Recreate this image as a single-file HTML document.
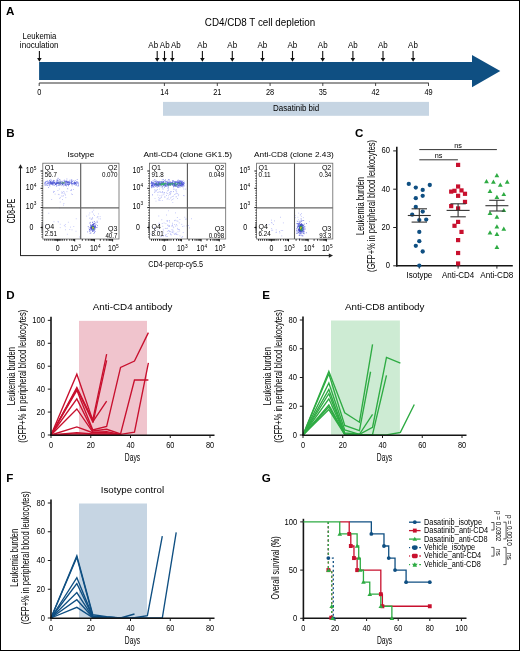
<!DOCTYPE html>
<html><head><meta charset="utf-8"><style>
html,body{margin:0;padding:0;background:#fff;}
svg{display:block;will-change:transform;font-family:"Liberation Sans",sans-serif;}
</style></head><body>
<svg width="520" height="651" viewBox="0 0 520 651">
<rect x="0" y="0" width="520" height="651" fill="#fff"/>
<text font-size="11.6" font-weight="bold" fill="#000" transform="translate(6.10 14.70)">A</text>
<text font-size="9.5" textLength="110.4" lengthAdjust="spacingAndGlyphs" transform="translate(204.80 25.50) scale(1 1.13)">CD4/CD8 T cell depletion</text>
<text font-size="7.6" text-anchor="middle" textLength="33.7" lengthAdjust="spacingAndGlyphs" transform="translate(39.40 38.60) scale(1 1.17)">Leukemia</text>
<text font-size="7.6" text-anchor="middle" textLength="38.7" lengthAdjust="spacingAndGlyphs" transform="translate(39.20 47.80) scale(1 1.17)">inoculation</text>
<polygon points="39.1,62 472,62 472,54.9 500.3,71.05 472,87.2 472,80.05 39.1,80.05" fill="#0f4f82"/>
<line x1="39.20" y1="83.00" x2="428.80" y2="83.00" stroke="#333" stroke-width="1.2"/>
<line x1="39.20" y1="83.00" x2="39.20" y2="86.00" stroke="#333" stroke-width="0.9"/>
<text font-size="7.4" text-anchor="middle" transform="translate(39.20 95.00) scale(1 1.17)">0</text>
<line x1="164.40" y1="83.00" x2="164.40" y2="86.00" stroke="#333" stroke-width="0.9"/>
<text font-size="7.4" text-anchor="middle" transform="translate(164.40 95.00) scale(1 1.17)">14</text>
<line x1="217.30" y1="83.00" x2="217.30" y2="86.00" stroke="#333" stroke-width="0.9"/>
<text font-size="7.4" text-anchor="middle" transform="translate(217.30 95.00) scale(1 1.17)">21</text>
<line x1="270.10" y1="83.00" x2="270.10" y2="86.00" stroke="#333" stroke-width="0.9"/>
<text font-size="7.4" text-anchor="middle" transform="translate(270.10 95.00) scale(1 1.17)">28</text>
<line x1="322.80" y1="83.00" x2="322.80" y2="86.00" stroke="#333" stroke-width="0.9"/>
<text font-size="7.4" text-anchor="middle" transform="translate(322.80 95.00) scale(1 1.17)">35</text>
<line x1="375.60" y1="83.00" x2="375.60" y2="86.00" stroke="#333" stroke-width="0.9"/>
<text font-size="7.4" text-anchor="middle" transform="translate(375.60 95.00) scale(1 1.17)">42</text>
<line x1="428.50" y1="83.00" x2="428.50" y2="86.00" stroke="#333" stroke-width="0.9"/>
<text font-size="7.4" text-anchor="middle" transform="translate(428.50 95.00) scale(1 1.17)">49</text>
<line x1="39.40" y1="51.00" x2="39.40" y2="58.50" stroke="#111" stroke-width="1.1"/>
<polygon points="37.10,58.00 41.70,58.00 39.40,61.80" fill="#111"/>
<line x1="157.20" y1="51.00" x2="157.20" y2="58.50" stroke="#111" stroke-width="1.1"/>
<polygon points="154.90,58.00 159.50,58.00 157.20,61.80" fill="#111"/>
<line x1="164.50" y1="51.00" x2="164.50" y2="58.50" stroke="#111" stroke-width="1.1"/>
<polygon points="162.20,58.00 166.80,58.00 164.50,61.80" fill="#111"/>
<line x1="172.30" y1="51.00" x2="172.30" y2="58.50" stroke="#111" stroke-width="1.1"/>
<polygon points="170.00,58.00 174.60,58.00 172.30,61.80" fill="#111"/>
<line x1="202.40" y1="51.00" x2="202.40" y2="58.50" stroke="#111" stroke-width="1.1"/>
<polygon points="200.10,58.00 204.70,58.00 202.40,61.80" fill="#111"/>
<line x1="232.30" y1="51.00" x2="232.30" y2="58.50" stroke="#111" stroke-width="1.1"/>
<polygon points="230.00,58.00 234.60,58.00 232.30,61.80" fill="#111"/>
<line x1="262.50" y1="51.00" x2="262.50" y2="58.50" stroke="#111" stroke-width="1.1"/>
<polygon points="260.20,58.00 264.80,58.00 262.50,61.80" fill="#111"/>
<line x1="292.50" y1="51.00" x2="292.50" y2="58.50" stroke="#111" stroke-width="1.1"/>
<polygon points="290.20,58.00 294.80,58.00 292.50,61.80" fill="#111"/>
<line x1="322.70" y1="51.00" x2="322.70" y2="58.50" stroke="#111" stroke-width="1.1"/>
<polygon points="320.40,58.00 325.00,58.00 322.70,61.80" fill="#111"/>
<line x1="352.90" y1="51.00" x2="352.90" y2="58.50" stroke="#111" stroke-width="1.1"/>
<polygon points="350.60,58.00 355.20,58.00 352.90,61.80" fill="#111"/>
<line x1="383.00" y1="51.00" x2="383.00" y2="58.50" stroke="#111" stroke-width="1.1"/>
<polygon points="380.70,58.00 385.30,58.00 383.00,61.80" fill="#111"/>
<line x1="413.10" y1="51.00" x2="413.10" y2="58.50" stroke="#111" stroke-width="1.1"/>
<polygon points="410.80,58.00 415.40,58.00 413.10,61.80" fill="#111"/>
<text font-size="7.6" text-anchor="middle" textLength="9.8" lengthAdjust="spacingAndGlyphs" transform="translate(153.20 47.80) scale(1 1.17)">Ab</text>
<text font-size="7.6" text-anchor="middle" textLength="9.8" lengthAdjust="spacingAndGlyphs" transform="translate(164.70 47.80) scale(1 1.17)">Ab</text>
<text font-size="7.6" text-anchor="middle" textLength="9.8" lengthAdjust="spacingAndGlyphs" transform="translate(175.80 47.80) scale(1 1.17)">Ab</text>
<text font-size="7.6" text-anchor="middle" textLength="9.8" lengthAdjust="spacingAndGlyphs" transform="translate(202.20 47.80) scale(1 1.17)">Ab</text>
<text font-size="7.6" text-anchor="middle" textLength="9.8" lengthAdjust="spacingAndGlyphs" transform="translate(232.20 47.80) scale(1 1.17)">Ab</text>
<text font-size="7.6" text-anchor="middle" textLength="9.8" lengthAdjust="spacingAndGlyphs" transform="translate(262.30 47.80) scale(1 1.17)">Ab</text>
<text font-size="7.6" text-anchor="middle" textLength="9.8" lengthAdjust="spacingAndGlyphs" transform="translate(292.30 47.80) scale(1 1.17)">Ab</text>
<text font-size="7.6" text-anchor="middle" textLength="9.8" lengthAdjust="spacingAndGlyphs" transform="translate(322.70 47.80) scale(1 1.17)">Ab</text>
<text font-size="7.6" text-anchor="middle" textLength="9.8" lengthAdjust="spacingAndGlyphs" transform="translate(352.90 47.80) scale(1 1.17)">Ab</text>
<text font-size="7.6" text-anchor="middle" textLength="9.8" lengthAdjust="spacingAndGlyphs" transform="translate(382.90 47.80) scale(1 1.17)">Ab</text>
<text font-size="7.6" text-anchor="middle" textLength="9.8" lengthAdjust="spacingAndGlyphs" transform="translate(413.00 47.80) scale(1 1.17)">Ab</text>
<rect x="163.00" y="101.90" width="266.00" height="13.90" fill="#c6d5e3"/>
<text font-size="8" textLength="46.1" lengthAdjust="spacingAndGlyphs" transform="translate(273.10 111.40) scale(1 1.17)">Dasatinib bid</text>
<text font-size="11.6" font-weight="bold" fill="#000" transform="translate(6.20 136.70)">B</text>
<line x1="20.50" y1="167.00" x2="20.50" y2="255.60" stroke="#222" stroke-width="1.0"/>
<polygon points="18.3,168.2 22.7,168.2 20.5,164.2" fill="#222"/>
<line x1="20.00" y1="255.60" x2="329.50" y2="255.60" stroke="#222" stroke-width="1.0"/>
<polygon points="328.8,253.4 328.8,257.8 333,255.6" fill="#222"/>
<text font-size="8.8" text-anchor="middle" textLength="24.4" lengthAdjust="spacingAndGlyphs" transform="translate(15.10 211.10) rotate(-90) scale(1 1.17)">CD8-PE</text>
<text font-size="7.8" textLength="54.7" lengthAdjust="spacingAndGlyphs" transform="translate(148.30 266.50) scale(1 1.17)">CD4-percp-cy5.5</text>
<text font-size="7.9" text-anchor="middle" textLength="26.900000000000006" lengthAdjust="spacingAndGlyphs" transform="translate(80.95 156.80)">Isotype</text>
<rect x="55.1" y="184.0" width="0.8" height="0.8" fill="#8088ea"/>
<rect x="46.5" y="184.5" width="0.8" height="0.8" fill="#8088ea"/>
<rect x="62.4" y="182.2" width="0.8" height="0.8" fill="#8088ea"/>
<rect x="61.4" y="183.0" width="0.8" height="0.8" fill="#8088ea"/>
<rect x="45.3" y="182.0" width="0.8" height="0.8" fill="#8088ea"/>
<rect x="47.1" y="182.8" width="0.8" height="0.8" fill="#8088ea"/>
<rect x="58.6" y="183.0" width="0.8" height="0.8" fill="#8088ea"/>
<rect x="51.7" y="181.9" width="0.8" height="0.8" fill="#8088ea"/>
<rect x="65.5" y="184.6" width="0.8" height="0.8" fill="#8088ea"/>
<rect x="57.6" y="181.9" width="0.8" height="0.8" fill="#8088ea"/>
<rect x="77.5" y="185.6" width="0.8" height="0.8" fill="#8088ea"/>
<rect x="53.9" y="183.5" width="0.8" height="0.8" fill="#8088ea"/>
<rect x="48.9" y="183.6" width="0.8" height="0.8" fill="#8088ea"/>
<rect x="72.0" y="183.5" width="0.8" height="0.8" fill="#8088ea"/>
<rect x="50.2" y="180.6" width="0.8" height="0.8" fill="#8088ea"/>
<rect x="56.8" y="181.5" width="0.8" height="0.8" fill="#8088ea"/>
<rect x="62.8" y="183.1" width="0.8" height="0.8" fill="#8088ea"/>
<rect x="51.1" y="182.8" width="0.8" height="0.8" fill="#8088ea"/>
<rect x="67.3" y="181.4" width="0.8" height="0.8" fill="#8088ea"/>
<rect x="64.1" y="183.2" width="0.8" height="0.8" fill="#8088ea"/>
<rect x="59.5" y="181.7" width="0.8" height="0.8" fill="#8088ea"/>
<rect x="68.0" y="185.3" width="0.8" height="0.8" fill="#8088ea"/>
<rect x="52.4" y="180.9" width="0.8" height="0.8" fill="#8088ea"/>
<rect x="74.0" y="181.7" width="0.8" height="0.8" fill="#8088ea"/>
<rect x="69.0" y="181.5" width="0.8" height="0.8" fill="#8088ea"/>
<rect x="48.0" y="187.0" width="0.8" height="0.8" fill="#8088ea"/>
<rect x="58.3" y="182.6" width="0.8" height="0.8" fill="#8088ea"/>
<rect x="60.8" y="181.7" width="0.8" height="0.8" fill="#8088ea"/>
<rect x="45.3" y="181.3" width="0.8" height="0.8" fill="#8088ea"/>
<rect x="63.7" y="180.2" width="0.8" height="0.8" fill="#8088ea"/>
<rect x="74.0" y="181.6" width="0.8" height="0.8" fill="#8088ea"/>
<rect x="64.4" y="184.9" width="0.8" height="0.8" fill="#8088ea"/>
<rect x="63.9" y="179.7" width="0.8" height="0.8" fill="#8088ea"/>
<rect x="76.4" y="183.4" width="0.8" height="0.8" fill="#8088ea"/>
<rect x="60.3" y="182.3" width="0.8" height="0.8" fill="#8088ea"/>
<rect x="68.1" y="182.1" width="0.8" height="0.8" fill="#8088ea"/>
<rect x="66.2" y="185.6" width="0.8" height="0.8" fill="#8088ea"/>
<rect x="53.8" y="182.5" width="0.8" height="0.8" fill="#8088ea"/>
<rect x="57.2" y="182.4" width="0.8" height="0.8" fill="#8088ea"/>
<rect x="59.8" y="182.3" width="0.8" height="0.8" fill="#8088ea"/>
<rect x="49.8" y="183.0" width="0.8" height="0.8" fill="#8088ea"/>
<rect x="70.4" y="183.0" width="0.8" height="0.8" fill="#8088ea"/>
<rect x="48.4" y="182.6" width="0.8" height="0.8" fill="#8088ea"/>
<rect x="73.9" y="184.2" width="0.8" height="0.8" fill="#8088ea"/>
<rect x="46.8" y="180.7" width="0.8" height="0.8" fill="#8088ea"/>
<rect x="74.3" y="183.2" width="0.8" height="0.8" fill="#8088ea"/>
<rect x="72.1" y="183.4" width="0.8" height="0.8" fill="#8088ea"/>
<rect x="58.2" y="181.6" width="0.8" height="0.8" fill="#8088ea"/>
<rect x="56.3" y="185.6" width="0.8" height="0.8" fill="#8088ea"/>
<rect x="49.2" y="179.9" width="0.8" height="0.8" fill="#8088ea"/>
<rect x="50.0" y="182.7" width="0.8" height="0.8" fill="#8088ea"/>
<rect x="60.6" y="183.8" width="0.8" height="0.8" fill="#8088ea"/>
<rect x="64.2" y="182.6" width="0.8" height="0.8" fill="#8088ea"/>
<rect x="58.4" y="182.7" width="0.8" height="0.8" fill="#8088ea"/>
<rect x="56.7" y="179.0" width="0.8" height="0.8" fill="#8088ea"/>
<rect x="67.7" y="181.0" width="0.8" height="0.8" fill="#8088ea"/>
<rect x="61.7" y="180.8" width="0.8" height="0.8" fill="#8088ea"/>
<rect x="45.9" y="181.0" width="0.8" height="0.8" fill="#8088ea"/>
<rect x="74.9" y="183.2" width="0.8" height="0.8" fill="#8088ea"/>
<rect x="71.4" y="179.4" width="0.8" height="0.8" fill="#8088ea"/>
<rect x="57.5" y="182.0" width="0.8" height="0.8" fill="#8088ea"/>
<rect x="65.8" y="183.0" width="0.8" height="0.8" fill="#8088ea"/>
<rect x="46.1" y="183.6" width="0.8" height="0.8" fill="#8088ea"/>
<rect x="49.6" y="183.0" width="0.8" height="0.8" fill="#8088ea"/>
<rect x="55.7" y="182.6" width="0.8" height="0.8" fill="#8088ea"/>
<rect x="49.2" y="182.6" width="0.8" height="0.8" fill="#8088ea"/>
<rect x="47.5" y="182.4" width="0.8" height="0.8" fill="#8088ea"/>
<rect x="74.0" y="182.9" width="0.8" height="0.8" fill="#8088ea"/>
<rect x="65.1" y="183.3" width="0.8" height="0.8" fill="#8088ea"/>
<rect x="55.9" y="183.6" width="0.8" height="0.8" fill="#8088ea"/>
<rect x="56.5" y="184.8" width="0.8" height="0.8" fill="#8088ea"/>
<rect x="78.1" y="184.8" width="0.8" height="0.8" fill="#8088ea"/>
<rect x="60.0" y="181.9" width="0.8" height="0.8" fill="#8088ea"/>
<rect x="47.5" y="182.7" width="0.8" height="0.8" fill="#8088ea"/>
<rect x="55.8" y="182.3" width="0.8" height="0.8" fill="#8088ea"/>
<rect x="49.5" y="185.6" width="0.8" height="0.8" fill="#8088ea"/>
<rect x="44.8" y="184.5" width="0.8" height="0.8" fill="#8088ea"/>
<rect x="49.0" y="182.0" width="0.8" height="0.8" fill="#8088ea"/>
<rect x="62.6" y="184.5" width="0.8" height="0.8" fill="#8088ea"/>
<rect x="77.6" y="182.9" width="0.8" height="0.8" fill="#8088ea"/>
<rect x="73.6" y="182.2" width="0.8" height="0.8" fill="#8088ea"/>
<rect x="56.6" y="181.4" width="0.8" height="0.8" fill="#8088ea"/>
<rect x="49.7" y="182.9" width="0.8" height="0.8" fill="#8088ea"/>
<rect x="70.7" y="180.6" width="0.8" height="0.8" fill="#8088ea"/>
<rect x="55.3" y="183.1" width="0.8" height="0.8" fill="#8088ea"/>
<rect x="77.8" y="185.5" width="0.8" height="0.8" fill="#8088ea"/>
<rect x="73.2" y="183.6" width="0.8" height="0.8" fill="#8088ea"/>
<rect x="69.4" y="179.8" width="0.8" height="0.8" fill="#8088ea"/>
<rect x="51.8" y="181.1" width="0.8" height="0.8" fill="#8088ea"/>
<rect x="45.0" y="182.4" width="0.8" height="0.8" fill="#8088ea"/>
<rect x="45.0" y="182.4" width="0.8" height="0.8" fill="#8088ea"/>
<rect x="67.8" y="183.8" width="0.8" height="0.8" fill="#8088ea"/>
<rect x="76.8" y="179.0" width="0.8" height="0.8" fill="#8088ea"/>
<rect x="77.9" y="183.8" width="0.8" height="0.8" fill="#8088ea"/>
<rect x="76.8" y="181.9" width="0.8" height="0.8" fill="#8088ea"/>
<rect x="51.8" y="183.4" width="0.8" height="0.8" fill="#8088ea"/>
<rect x="50.7" y="183.2" width="0.8" height="0.8" fill="#8088ea"/>
<rect x="74.9" y="184.7" width="0.8" height="0.8" fill="#8088ea"/>
<rect x="72.8" y="180.3" width="0.8" height="0.8" fill="#8088ea"/>
<rect x="71.4" y="182.9" width="0.8" height="0.8" fill="#8088ea"/>
<rect x="46.9" y="180.7" width="0.8" height="0.8" fill="#8088ea"/>
<rect x="70.8" y="179.6" width="0.8" height="0.8" fill="#8088ea"/>
<rect x="69.7" y="181.6" width="0.8" height="0.8" fill="#8088ea"/>
<rect x="71.1" y="182.7" width="0.8" height="0.8" fill="#8088ea"/>
<rect x="55.4" y="183.9" width="0.8" height="0.8" fill="#8088ea"/>
<rect x="57.6" y="178.5" width="0.8" height="0.8" fill="#8088ea"/>
<rect x="57.8" y="185.0" width="0.8" height="0.8" fill="#8088ea"/>
<rect x="49.8" y="181.8" width="0.8" height="0.8" fill="#8088ea"/>
<rect x="48.4" y="184.6" width="0.8" height="0.8" fill="#8088ea"/>
<rect x="71.7" y="185.4" width="0.8" height="0.8" fill="#8088ea"/>
<rect x="49.0" y="184.7" width="0.8" height="0.8" fill="#8088ea"/>
<rect x="66.5" y="178.6" width="0.8" height="0.8" fill="#8088ea"/>
<rect x="56.0" y="181.8" width="0.8" height="0.8" fill="#8088ea"/>
<rect x="44.5" y="182.3" width="0.8" height="0.8" fill="#8088ea"/>
<rect x="77.3" y="181.4" width="0.8" height="0.8" fill="#8088ea"/>
<rect x="76.0" y="181.0" width="0.8" height="0.8" fill="#8088ea"/>
<rect x="58.9" y="184.7" width="0.8" height="0.8" fill="#8088ea"/>
<rect x="51.2" y="180.4" width="0.8" height="0.8" fill="#8088ea"/>
<rect x="52.6" y="182.3" width="0.8" height="0.8" fill="#8088ea"/>
<rect x="64.1" y="183.7" width="0.8" height="0.8" fill="#8088ea"/>
<rect x="52.9" y="181.9" width="0.8" height="0.8" fill="#8088ea"/>
<rect x="75.2" y="183.0" width="0.8" height="0.8" fill="#8088ea"/>
<rect x="56.1" y="180.6" width="0.8" height="0.8" fill="#8088ea"/>
<rect x="75.0" y="183.2" width="0.8" height="0.8" fill="#8088ea"/>
<rect x="58.4" y="184.2" width="0.8" height="0.8" fill="#8088ea"/>
<rect x="62.2" y="181.7" width="0.8" height="0.8" fill="#8088ea"/>
<rect x="62.0" y="184.3" width="0.8" height="0.8" fill="#8088ea"/>
<rect x="50.3" y="182.8" width="0.8" height="0.8" fill="#8088ea"/>
<rect x="44.1" y="182.9" width="0.8" height="0.8" fill="#8088ea"/>
<rect x="60.2" y="181.7" width="0.8" height="0.8" fill="#8088ea"/>
<rect x="68.9" y="181.3" width="0.8" height="0.8" fill="#8088ea"/>
<rect x="61.8" y="182.1" width="0.8" height="0.8" fill="#8088ea"/>
<rect x="63.1" y="182.8" width="0.8" height="0.8" fill="#8088ea"/>
<rect x="63.2" y="181.9" width="0.8" height="0.8" fill="#8088ea"/>
<rect x="52.5" y="182.1" width="0.8" height="0.8" fill="#8088ea"/>
<rect x="61.4" y="185.3" width="0.8" height="0.8" fill="#8088ea"/>
<rect x="63.3" y="182.8" width="0.8" height="0.8" fill="#8088ea"/>
<rect x="59.2" y="179.1" width="0.8" height="0.8" fill="#8088ea"/>
<rect x="65.0" y="180.7" width="0.8" height="0.8" fill="#8088ea"/>
<rect x="67.8" y="182.5" width="0.8" height="0.8" fill="#8088ea"/>
<rect x="59.5" y="180.8" width="0.8" height="0.8" fill="#8088ea"/>
<rect x="76.3" y="182.2" width="0.8" height="0.8" fill="#8088ea"/>
<rect x="68.0" y="185.3" width="0.8" height="0.8" fill="#8088ea"/>
<rect x="52.9" y="179.9" width="0.8" height="0.8" fill="#8088ea"/>
<rect x="63.2" y="185.5" width="0.8" height="0.8" fill="#8088ea"/>
<rect x="48.7" y="181.5" width="0.8" height="0.8" fill="#8088ea"/>
<rect x="48.2" y="182.0" width="0.8" height="0.8" fill="#8088ea"/>
<rect x="52.3" y="182.8" width="0.8" height="0.8" fill="#8088ea"/>
<rect x="46.5" y="181.2" width="0.8" height="0.8" fill="#8088ea"/>
<rect x="74.8" y="180.2" width="0.8" height="0.8" fill="#8088ea"/>
<rect x="49.3" y="182.1" width="0.8" height="0.8" fill="#8088ea"/>
<rect x="48.9" y="180.3" width="0.8" height="0.8" fill="#8088ea"/>
<rect x="74.3" y="183.7" width="0.8" height="0.8" fill="#8088ea"/>
<rect x="76.7" y="182.4" width="0.8" height="0.8" fill="#8088ea"/>
<rect x="57.7" y="177.8" width="0.8" height="0.8" fill="#8088ea"/>
<rect x="72.6" y="183.0" width="0.8" height="0.8" fill="#8088ea"/>
<rect x="49.5" y="180.8" width="0.8" height="0.8" fill="#8088ea"/>
<rect x="55.6" y="183.4" width="0.8" height="0.8" fill="#8088ea"/>
<rect x="50.7" y="181.5" width="0.8" height="0.8" fill="#8088ea"/>
<rect x="44.7" y="184.9" width="0.8" height="0.8" fill="#8088ea"/>
<rect x="63.0" y="182.3" width="0.8" height="0.8" fill="#8088ea"/>
<rect x="55.4" y="182.7" width="0.8" height="0.8" fill="#8088ea"/>
<rect x="65.4" y="182.0" width="0.8" height="0.8" fill="#8088ea"/>
<rect x="77.8" y="182.6" width="0.8" height="0.8" fill="#8088ea"/>
<rect x="71.0" y="183.3" width="0.8" height="0.8" fill="#8088ea"/>
<rect x="53.1" y="182.5" width="0.8" height="0.8" fill="#8088ea"/>
<rect x="45.4" y="182.8" width="0.8" height="0.8" fill="#8088ea"/>
<rect x="48.4" y="181.4" width="0.8" height="0.8" fill="#8088ea"/>
<rect x="58.5" y="185.1" width="0.8" height="0.8" fill="#8088ea"/>
<rect x="52.9" y="181.0" width="0.8" height="0.8" fill="#8088ea"/>
<rect x="49.1" y="184.4" width="0.8" height="0.8" fill="#8088ea"/>
<rect x="68.0" y="181.6" width="0.8" height="0.8" fill="#8088ea"/>
<rect x="47.1" y="184.9" width="0.8" height="0.8" fill="#8088ea"/>
<rect x="58.6" y="183.5" width="0.8" height="0.8" fill="#8088ea"/>
<rect x="46.5" y="184.7" width="0.8" height="0.8" fill="#8088ea"/>
<rect x="71.5" y="181.7" width="0.8" height="0.8" fill="#8088ea"/>
<rect x="46.9" y="183.0" width="0.8" height="0.8" fill="#8088ea"/>
<rect x="73.6" y="182.1" width="0.8" height="0.8" fill="#8088ea"/>
<rect x="59.6" y="181.5" width="0.8" height="0.8" fill="#8088ea"/>
<rect x="75.8" y="184.3" width="0.8" height="0.8" fill="#8088ea"/>
<rect x="53.2" y="183.9" width="0.8" height="0.8" fill="#8088ea"/>
<rect x="52.2" y="184.0" width="0.8" height="0.8" fill="#8088ea"/>
<rect x="47.8" y="182.9" width="0.8" height="0.8" fill="#8088ea"/>
<rect x="50.9" y="183.0" width="0.8" height="0.8" fill="#8088ea"/>
<rect x="54.7" y="181.7" width="0.8" height="0.8" fill="#8088ea"/>
<rect x="53.9" y="185.1" width="0.8" height="0.8" fill="#8088ea"/>
<rect x="61.2" y="183.2" width="0.8" height="0.8" fill="#8088ea"/>
<rect x="44.6" y="183.9" width="0.8" height="0.8" fill="#8088ea"/>
<rect x="52.6" y="185.2" width="0.8" height="0.8" fill="#8088ea"/>
<rect x="62.9" y="182.9" width="0.8" height="0.8" fill="#8088ea"/>
<rect x="50.5" y="178.9" width="0.8" height="0.8" fill="#8088ea"/>
<rect x="47.6" y="183.2" width="0.8" height="0.8" fill="#8088ea"/>
<rect x="72.1" y="180.9" width="0.8" height="0.8" fill="#8088ea"/>
<rect x="72.6" y="183.4" width="0.8" height="0.8" fill="#8088ea"/>
<rect x="57.5" y="180.2" width="0.8" height="0.8" fill="#8088ea"/>
<rect x="77.7" y="182.5" width="0.8" height="0.8" fill="#8088ea"/>
<rect x="55.8" y="183.8" width="0.8" height="0.8" fill="#8088ea"/>
<rect x="65.8" y="180.4" width="0.8" height="0.8" fill="#8088ea"/>
<rect x="57.9" y="182.3" width="0.8" height="0.8" fill="#8088ea"/>
<rect x="48.5" y="183.0" width="0.8" height="0.8" fill="#8088ea"/>
<rect x="51.8" y="182.6" width="0.8" height="0.8" fill="#4a54d0"/>
<rect x="54.2" y="181.8" width="0.8" height="0.8" fill="#4a54d0"/>
<rect x="52.2" y="183.7" width="0.8" height="0.8" fill="#4a54d0"/>
<rect x="67.4" y="180.9" width="0.8" height="0.8" fill="#4a54d0"/>
<rect x="57.3" y="182.6" width="0.8" height="0.8" fill="#4a54d0"/>
<rect x="61.9" y="183.4" width="0.8" height="0.8" fill="#4a54d0"/>
<rect x="54.1" y="181.9" width="0.8" height="0.8" fill="#4a54d0"/>
<rect x="75.0" y="182.9" width="0.8" height="0.8" fill="#4a54d0"/>
<rect x="75.3" y="181.9" width="0.8" height="0.8" fill="#4a54d0"/>
<rect x="75.1" y="182.4" width="0.8" height="0.8" fill="#4a54d0"/>
<rect x="58.0" y="182.6" width="0.8" height="0.8" fill="#4a54d0"/>
<rect x="59.9" y="182.6" width="0.8" height="0.8" fill="#4a54d0"/>
<rect x="62.3" y="181.9" width="0.8" height="0.8" fill="#4a54d0"/>
<rect x="63.1" y="182.6" width="0.8" height="0.8" fill="#4a54d0"/>
<rect x="50.1" y="182.6" width="0.8" height="0.8" fill="#4a54d0"/>
<rect x="60.4" y="183.0" width="0.8" height="0.8" fill="#4a54d0"/>
<rect x="51.1" y="183.4" width="0.8" height="0.8" fill="#4a54d0"/>
<rect x="56.1" y="182.7" width="0.8" height="0.8" fill="#4a54d0"/>
<rect x="65.2" y="181.0" width="0.8" height="0.8" fill="#4a54d0"/>
<rect x="67.1" y="182.3" width="0.8" height="0.8" fill="#4a54d0"/>
<rect x="68.6" y="183.3" width="0.8" height="0.8" fill="#4a54d0"/>
<rect x="58.5" y="181.9" width="0.8" height="0.8" fill="#4a54d0"/>
<rect x="75.6" y="183.5" width="0.8" height="0.8" fill="#4a54d0"/>
<rect x="66.7" y="183.9" width="0.8" height="0.8" fill="#4a54d0"/>
<rect x="51.1" y="183.7" width="0.8" height="0.8" fill="#4a54d0"/>
<rect x="66.3" y="180.8" width="0.8" height="0.8" fill="#4a54d0"/>
<rect x="69.1" y="182.8" width="0.8" height="0.8" fill="#4a54d0"/>
<rect x="63.6" y="182.1" width="0.8" height="0.8" fill="#4a54d0"/>
<rect x="63.1" y="183.5" width="0.8" height="0.8" fill="#4a54d0"/>
<rect x="71.5" y="181.0" width="0.8" height="0.8" fill="#4a54d0"/>
<rect x="65.2" y="183.8" width="0.8" height="0.8" fill="#4a54d0"/>
<rect x="68.0" y="181.7" width="0.8" height="0.8" fill="#4a54d0"/>
<rect x="56.0" y="183.1" width="0.8" height="0.8" fill="#4a54d0"/>
<rect x="59.4" y="182.7" width="0.8" height="0.8" fill="#4a54d0"/>
<rect x="52.7" y="183.3" width="0.8" height="0.8" fill="#4a54d0"/>
<rect x="66.3" y="181.5" width="0.8" height="0.8" fill="#4a54d0"/>
<rect x="66.3" y="182.1" width="0.8" height="0.8" fill="#4a54d0"/>
<rect x="50.1" y="181.5" width="0.8" height="0.8" fill="#4a54d0"/>
<rect x="70.7" y="182.6" width="0.8" height="0.8" fill="#4a54d0"/>
<rect x="63.9" y="181.4" width="0.8" height="0.8" fill="#4a54d0"/>
<rect x="67.1" y="184.1" width="0.8" height="0.8" fill="#4a54d0"/>
<rect x="56.6" y="183.3" width="0.8" height="0.8" fill="#4a54d0"/>
<rect x="51.9" y="182.4" width="0.8" height="0.8" fill="#4a54d0"/>
<rect x="55.3" y="184.2" width="0.8" height="0.8" fill="#4a54d0"/>
<rect x="69.2" y="183.8" width="0.8" height="0.8" fill="#4a54d0"/>
<rect x="59.9" y="182.4" width="0.8" height="0.8" fill="#4a54d0"/>
<rect x="62.5" y="181.9" width="0.8" height="0.8" fill="#4a54d0"/>
<rect x="66.0" y="181.0" width="0.8" height="0.8" fill="#4a54d0"/>
<rect x="66.7" y="183.1" width="0.8" height="0.8" fill="#4a54d0"/>
<rect x="56.6" y="182.9" width="0.8" height="0.8" fill="#4a54d0"/>
<rect x="69.3" y="182.2" width="0.8" height="0.8" fill="#4a54d0"/>
<rect x="50.3" y="183.8" width="0.8" height="0.8" fill="#4a54d0"/>
<rect x="51.6" y="182.4" width="0.8" height="0.8" fill="#4a54d0"/>
<rect x="68.0" y="184.1" width="0.8" height="0.8" fill="#4a54d0"/>
<rect x="67.6" y="182.3" width="0.8" height="0.8" fill="#4a54d0"/>
<rect x="62.1" y="183.8" width="0.8" height="0.8" fill="#4a54d0"/>
<rect x="62.1" y="184.2" width="0.8" height="0.8" fill="#4a54d0"/>
<rect x="55.2" y="184.0" width="0.8" height="0.8" fill="#4a54d0"/>
<rect x="75.4" y="182.8" width="0.8" height="0.8" fill="#4a54d0"/>
<rect x="61.9" y="182.5" width="0.8" height="0.8" fill="#4a54d0"/>
<rect x="71.3" y="183.7" width="0.8" height="0.8" fill="#4a54d0"/>
<rect x="57.0" y="182.4" width="0.8" height="0.8" fill="#4a54d0"/>
<rect x="55.5" y="183.2" width="0.8" height="0.8" fill="#4a54d0"/>
<rect x="65.1" y="182.4" width="0.8" height="0.8" fill="#4a54d0"/>
<rect x="53.7" y="180.2" width="0.8" height="0.8" fill="#4a54d0"/>
<rect x="53.4" y="182.2" width="0.8" height="0.8" fill="#4a54d0"/>
<rect x="71.3" y="180.5" width="0.8" height="0.8" fill="#4a54d0"/>
<rect x="68.3" y="182.5" width="0.8" height="0.8" fill="#4a54d0"/>
<rect x="56.0" y="183.5" width="0.8" height="0.8" fill="#4a54d0"/>
<rect x="50.6" y="181.9" width="0.8" height="0.8" fill="#4a54d0"/>
<rect x="50.1" y="181.5" width="0.8" height="0.8" fill="#4a54d0"/>
<rect x="57.9" y="182.7" width="0.8" height="0.8" fill="#4a54d0"/>
<rect x="53.7" y="182.1" width="0.8" height="0.8" fill="#4a54d0"/>
<rect x="71.8" y="183.3" width="0.8" height="0.8" fill="#4a54d0"/>
<rect x="50.0" y="182.6" width="0.8" height="0.8" fill="#4a54d0"/>
<rect x="53.1" y="180.7" width="0.8" height="0.8" fill="#4a54d0"/>
<rect x="74.1" y="182.1" width="0.8" height="0.8" fill="#4a54d0"/>
<rect x="57.5" y="180.5" width="0.8" height="0.8" fill="#4a54d0"/>
<rect x="59.7" y="179.7" width="0.8" height="0.8" fill="#4a54d0"/>
<rect x="65.3" y="184.9" width="0.8" height="0.8" fill="#4a54d0"/>
<rect x="59.4" y="181.9" width="0.8" height="0.8" fill="#4a54d0"/>
<rect x="51.3" y="183.0" width="0.8" height="0.8" fill="#4a54d0"/>
<rect x="52.6" y="183.0" width="0.8" height="0.8" fill="#4a54d0"/>
<rect x="74.3" y="181.9" width="0.8" height="0.8" fill="#4a54d0"/>
<rect x="56.5" y="182.5" width="0.8" height="0.8" fill="#4a54d0"/>
<rect x="54.9" y="183.8" width="0.8" height="0.8" fill="#4a54d0"/>
<rect x="59.7" y="184.6" width="0.8" height="0.8" fill="#4a54d0"/>
<rect x="71.1" y="182.0" width="0.8" height="0.8" fill="#4a54d0"/>
<rect x="66.4" y="184.6" width="0.8" height="0.8" fill="#4a54d0"/>
<rect x="64.3" y="181.4" width="0.8" height="0.8" fill="#4a54d0"/>
<rect x="68.7" y="184.1" width="0.8" height="0.8" fill="#4a54d0"/>
<rect x="61.7" y="183.1" width="0.8" height="0.8" fill="#4a54d0"/>
<rect x="69.6" y="182.1" width="0.8" height="0.8" fill="#4a54d0"/>
<rect x="51.3" y="182.0" width="0.8" height="0.8" fill="#4a54d0"/>
<rect x="74.1" y="183.4" width="0.8" height="0.8" fill="#4a54d0"/>
<rect x="58.9" y="183.4" width="0.8" height="0.8" fill="#4a54d0"/>
<rect x="57.7" y="182.4" width="0.8" height="0.8" fill="#4a54d0"/>
<rect x="56.8" y="179.9" width="0.8" height="0.8" fill="#4a54d0"/>
<rect x="67.1" y="182.2" width="0.8" height="0.8" fill="#4a54d0"/>
<rect x="60.3" y="183.8" width="0.8" height="0.8" fill="#4a54d0"/>
<rect x="54.4" y="183.0" width="0.8" height="0.8" fill="#4a54d0"/>
<rect x="73.6" y="183.2" width="0.8" height="0.8" fill="#4a54d0"/>
<rect x="62.9" y="183.0" width="0.8" height="0.8" fill="#4a54d0"/>
<rect x="75.9" y="184.7" width="0.8" height="0.8" fill="#4a54d0"/>
<rect x="61.7" y="183.0" width="0.8" height="0.8" fill="#4a54d0"/>
<rect x="52.4" y="183.1" width="0.8" height="0.8" fill="#4a54d0"/>
<rect x="58.9" y="183.2" width="0.8" height="0.8" fill="#4a54d0"/>
<rect x="56.7" y="183.0" width="0.8" height="0.8" fill="#4a54d0"/>
<rect x="64.8" y="183.9" width="0.8" height="0.8" fill="#4a54d0"/>
<rect x="60.7" y="181.5" width="0.8" height="0.8" fill="#4a54d0"/>
<rect x="63.0" y="182.0" width="0.8" height="0.8" fill="#70c060"/>
<rect x="62.1" y="182.5" width="0.8" height="0.8" fill="#70c060"/>
<rect x="58.7" y="182.3" width="0.8" height="0.8" fill="#70c060"/>
<rect x="59.5" y="184.1" width="0.8" height="0.8" fill="#70c060"/>
<rect x="64.0" y="181.8" width="0.8" height="0.8" fill="#70c060"/>
<rect x="60.6" y="181.7" width="0.8" height="0.8" fill="#70c060"/>
<rect x="61.3" y="182.6" width="0.8" height="0.8" fill="#70c060"/>
<rect x="63.4" y="183.2" width="0.8" height="0.8" fill="#70c060"/>
<rect x="73.2" y="189.2" width="0.8" height="0.8" fill="#a8aef4"/>
<rect x="62.9" y="191.2" width="0.8" height="0.8" fill="#a8aef4"/>
<rect x="71.2" y="193.6" width="0.8" height="0.8" fill="#a8aef4"/>
<rect x="67.4" y="188.5" width="0.8" height="0.8" fill="#a8aef4"/>
<rect x="61.9" y="192.0" width="0.8" height="0.8" fill="#a8aef4"/>
<rect x="51.3" y="199.2" width="0.8" height="0.8" fill="#a8aef4"/>
<rect x="67.4" y="183.3" width="0.8" height="0.8" fill="#a8aef4"/>
<rect x="66.5" y="191.3" width="0.8" height="0.8" fill="#a8aef4"/>
<rect x="64.7" y="193.8" width="0.8" height="0.8" fill="#a8aef4"/>
<rect x="53.0" y="190.9" width="0.8" height="0.8" fill="#a8aef4"/>
<rect x="71.0" y="189.1" width="0.8" height="0.8" fill="#a8aef4"/>
<rect x="55.9" y="185.2" width="0.8" height="0.8" fill="#a8aef4"/>
<rect x="54.7" y="193.7" width="0.8" height="0.8" fill="#a8aef4"/>
<rect x="72.2" y="194.1" width="0.8" height="0.8" fill="#a8aef4"/>
<rect x="63.5" y="203.2" width="0.8" height="0.8" fill="#a8aef4"/>
<rect x="58.9" y="188.6" width="0.8" height="0.8" fill="#a8aef4"/>
<rect x="65.2" y="194.7" width="0.8" height="0.8" fill="#a8aef4"/>
<rect x="55.9" y="186.2" width="0.8" height="0.8" fill="#a8aef4"/>
<rect x="63.7" y="193.2" width="0.8" height="0.8" fill="#a8aef4"/>
<rect x="54.2" y="191.0" width="0.8" height="0.8" fill="#a8aef4"/>
<rect x="58.7" y="194.3" width="0.8" height="0.8" fill="#a8aef4"/>
<rect x="61.3" y="191.6" width="0.8" height="0.8" fill="#a8aef4"/>
<rect x="59.9" y="197.3" width="0.8" height="0.8" fill="#a8aef4"/>
<rect x="70.3" y="190.2" width="0.8" height="0.8" fill="#a8aef4"/>
<rect x="67.1" y="188.2" width="0.8" height="0.8" fill="#a8aef4"/>
<rect x="62.4" y="195.7" width="0.8" height="0.8" fill="#a8aef4"/>
<rect x="71.1" y="190.1" width="0.8" height="0.8" fill="#a8aef4"/>
<rect x="61.6" y="193.0" width="0.8" height="0.8" fill="#a8aef4"/>
<rect x="53.0" y="192.1" width="0.8" height="0.8" fill="#a8aef4"/>
<rect x="57.9" y="193.9" width="0.8" height="0.8" fill="#a8aef4"/>
<rect x="57.5" y="190.1" width="0.8" height="0.8" fill="#a8aef4"/>
<rect x="62.2" y="199.0" width="0.8" height="0.8" fill="#a8aef4"/>
<rect x="59.8" y="201.6" width="0.8" height="0.8" fill="#a8aef4"/>
<rect x="60.9" y="195.6" width="0.8" height="0.8" fill="#a8aef4"/>
<rect x="63.9" y="191.7" width="0.8" height="0.8" fill="#a8aef4"/>
<rect x="59.3" y="197.9" width="0.8" height="0.8" fill="#a8aef4"/>
<rect x="65.4" y="197.3" width="0.8" height="0.8" fill="#a8aef4"/>
<rect x="63.2" y="195.4" width="0.8" height="0.8" fill="#a8aef4"/>
<rect x="63.2" y="204.7" width="0.8" height="0.8" fill="#a8aef4"/>
<rect x="59.3" y="207.5" width="0.8" height="0.8" fill="#a8aef4"/>
<rect x="91.0" y="226.9" width="0.8" height="0.8" fill="#6068dc"/>
<rect x="92.6" y="229.4" width="0.8" height="0.8" fill="#6068dc"/>
<rect x="89.8" y="221.9" width="0.8" height="0.8" fill="#6068dc"/>
<rect x="93.5" y="228.8" width="0.8" height="0.8" fill="#6068dc"/>
<rect x="93.5" y="233.2" width="0.8" height="0.8" fill="#6068dc"/>
<rect x="92.7" y="227.5" width="0.8" height="0.8" fill="#6068dc"/>
<rect x="94.2" y="227.8" width="0.8" height="0.8" fill="#6068dc"/>
<rect x="95.6" y="223.9" width="0.8" height="0.8" fill="#6068dc"/>
<rect x="91.5" y="218.6" width="0.8" height="0.8" fill="#6068dc"/>
<rect x="93.9" y="226.0" width="0.8" height="0.8" fill="#6068dc"/>
<rect x="94.1" y="232.1" width="0.8" height="0.8" fill="#6068dc"/>
<rect x="92.3" y="226.3" width="0.8" height="0.8" fill="#6068dc"/>
<rect x="91.3" y="224.9" width="0.8" height="0.8" fill="#6068dc"/>
<rect x="91.0" y="228.4" width="0.8" height="0.8" fill="#6068dc"/>
<rect x="92.4" y="227.1" width="0.8" height="0.8" fill="#6068dc"/>
<rect x="92.0" y="229.1" width="0.8" height="0.8" fill="#6068dc"/>
<rect x="93.3" y="226.6" width="0.8" height="0.8" fill="#6068dc"/>
<rect x="93.6" y="226.5" width="0.8" height="0.8" fill="#6068dc"/>
<rect x="90.0" y="230.4" width="0.8" height="0.8" fill="#6068dc"/>
<rect x="93.2" y="224.6" width="0.8" height="0.8" fill="#6068dc"/>
<rect x="94.5" y="227.7" width="0.8" height="0.8" fill="#6068dc"/>
<rect x="89.2" y="230.8" width="0.8" height="0.8" fill="#6068dc"/>
<rect x="93.0" y="229.0" width="0.8" height="0.8" fill="#6068dc"/>
<rect x="92.7" y="226.5" width="0.8" height="0.8" fill="#6068dc"/>
<rect x="89.2" y="229.2" width="0.8" height="0.8" fill="#6068dc"/>
<rect x="92.4" y="226.2" width="0.8" height="0.8" fill="#6068dc"/>
<rect x="93.0" y="227.1" width="0.8" height="0.8" fill="#6068dc"/>
<rect x="93.7" y="226.0" width="0.8" height="0.8" fill="#6068dc"/>
<rect x="92.2" y="221.8" width="0.8" height="0.8" fill="#6068dc"/>
<rect x="91.5" y="228.5" width="0.8" height="0.8" fill="#6068dc"/>
<rect x="95.0" y="226.0" width="0.8" height="0.8" fill="#6068dc"/>
<rect x="92.1" y="230.7" width="0.8" height="0.8" fill="#6068dc"/>
<rect x="91.6" y="228.7" width="0.8" height="0.8" fill="#6068dc"/>
<rect x="95.7" y="227.0" width="0.8" height="0.8" fill="#6068dc"/>
<rect x="94.8" y="225.2" width="0.8" height="0.8" fill="#6068dc"/>
<rect x="92.7" y="226.7" width="0.8" height="0.8" fill="#6068dc"/>
<rect x="92.5" y="229.6" width="0.8" height="0.8" fill="#6068dc"/>
<rect x="97.1" y="225.3" width="0.8" height="0.8" fill="#6068dc"/>
<rect x="91.1" y="228.1" width="0.8" height="0.8" fill="#6068dc"/>
<rect x="90.2" y="228.1" width="0.8" height="0.8" fill="#6068dc"/>
<rect x="93.4" y="226.2" width="0.8" height="0.8" fill="#6068dc"/>
<rect x="93.4" y="223.2" width="0.8" height="0.8" fill="#6068dc"/>
<rect x="93.8" y="223.2" width="0.8" height="0.8" fill="#6068dc"/>
<rect x="90.9" y="225.6" width="0.8" height="0.8" fill="#6068dc"/>
<rect x="91.5" y="229.0" width="0.8" height="0.8" fill="#6068dc"/>
<rect x="92.5" y="225.9" width="0.8" height="0.8" fill="#6068dc"/>
<rect x="93.4" y="230.7" width="0.8" height="0.8" fill="#6068dc"/>
<rect x="92.3" y="227.8" width="0.8" height="0.8" fill="#6068dc"/>
<rect x="94.8" y="227.5" width="0.8" height="0.8" fill="#6068dc"/>
<rect x="89.7" y="232.9" width="0.8" height="0.8" fill="#6068dc"/>
<rect x="96.7" y="222.1" width="0.8" height="0.8" fill="#6068dc"/>
<rect x="92.2" y="227.9" width="0.8" height="0.8" fill="#6068dc"/>
<rect x="94.2" y="228.5" width="0.8" height="0.8" fill="#6068dc"/>
<rect x="91.8" y="224.4" width="0.8" height="0.8" fill="#6068dc"/>
<rect x="92.5" y="229.4" width="0.8" height="0.8" fill="#6068dc"/>
<rect x="90.1" y="224.4" width="0.8" height="0.8" fill="#6068dc"/>
<rect x="92.3" y="222.3" width="0.8" height="0.8" fill="#6068dc"/>
<rect x="91.8" y="225.9" width="0.8" height="0.8" fill="#6068dc"/>
<rect x="93.2" y="225.2" width="0.8" height="0.8" fill="#6068dc"/>
<rect x="90.5" y="226.0" width="0.8" height="0.8" fill="#6068dc"/>
<rect x="92.2" y="225.3" width="0.8" height="0.8" fill="#6068dc"/>
<rect x="92.3" y="228.7" width="0.8" height="0.8" fill="#6068dc"/>
<rect x="94.7" y="231.0" width="0.8" height="0.8" fill="#6068dc"/>
<rect x="90.7" y="225.9" width="0.8" height="0.8" fill="#6068dc"/>
<rect x="87.3" y="231.5" width="0.8" height="0.8" fill="#6068dc"/>
<rect x="90.9" y="226.8" width="0.8" height="0.8" fill="#6068dc"/>
<rect x="93.3" y="223.6" width="0.8" height="0.8" fill="#6068dc"/>
<rect x="93.2" y="226.8" width="0.8" height="0.8" fill="#6068dc"/>
<rect x="88.6" y="227.6" width="0.8" height="0.8" fill="#6068dc"/>
<rect x="94.7" y="222.4" width="0.8" height="0.8" fill="#6068dc"/>
<rect x="93.9" y="227.4" width="0.8" height="0.8" fill="#6068dc"/>
<rect x="93.2" y="228.0" width="0.8" height="0.8" fill="#6068dc"/>
<rect x="94.9" y="226.4" width="0.8" height="0.8" fill="#6068dc"/>
<rect x="94.0" y="225.9" width="0.8" height="0.8" fill="#6068dc"/>
<rect x="93.8" y="224.9" width="0.8" height="0.8" fill="#6068dc"/>
<rect x="92.1" y="231.1" width="0.8" height="0.8" fill="#6068dc"/>
<rect x="93.2" y="226.5" width="0.8" height="0.8" fill="#6068dc"/>
<rect x="90.0" y="225.0" width="0.8" height="0.8" fill="#6068dc"/>
<rect x="92.7" y="229.2" width="0.8" height="0.8" fill="#6068dc"/>
<rect x="93.2" y="228.2" width="0.8" height="0.8" fill="#6068dc"/>
<rect x="92.2" y="230.1" width="0.8" height="0.8" fill="#6068dc"/>
<rect x="91.5" y="225.6" width="0.8" height="0.8" fill="#6068dc"/>
<rect x="94.1" y="227.1" width="0.8" height="0.8" fill="#6068dc"/>
<rect x="91.7" y="225.5" width="0.8" height="0.8" fill="#6068dc"/>
<rect x="91.8" y="228.4" width="0.8" height="0.8" fill="#6068dc"/>
<rect x="93.0" y="224.0" width="0.8" height="0.8" fill="#6068dc"/>
<rect x="93.2" y="227.3" width="0.8" height="0.8" fill="#6068dc"/>
<rect x="90.3" y="228.8" width="0.8" height="0.8" fill="#6068dc"/>
<rect x="91.7" y="226.1" width="0.8" height="0.8" fill="#6068dc"/>
<rect x="93.9" y="230.1" width="0.8" height="0.8" fill="#6068dc"/>
<rect x="90.9" y="228.0" width="0.8" height="0.8" fill="#6068dc"/>
<rect x="90.5" y="232.5" width="0.8" height="0.8" fill="#6068dc"/>
<rect x="91.3" y="229.8" width="0.8" height="0.8" fill="#6068dc"/>
<rect x="91.0" y="228.8" width="0.8" height="0.8" fill="#6068dc"/>
<rect x="96.7" y="220.8" width="0.8" height="0.8" fill="#6068dc"/>
<rect x="91.4" y="228.1" width="0.8" height="0.8" fill="#6068dc"/>
<rect x="92.1" y="225.3" width="0.8" height="0.8" fill="#6068dc"/>
<rect x="96.6" y="227.1" width="0.8" height="0.8" fill="#6068dc"/>
<rect x="89.0" y="228.9" width="0.8" height="0.8" fill="#6068dc"/>
<rect x="88.9" y="229.7" width="0.8" height="0.8" fill="#6068dc"/>
<rect x="91.1" y="227.2" width="0.8" height="0.8" fill="#6068dc"/>
<rect x="94.8" y="227.2" width="0.8" height="0.8" fill="#6068dc"/>
<rect x="89.5" y="222.8" width="0.8" height="0.8" fill="#6068dc"/>
<rect x="94.7" y="228.7" width="0.8" height="0.8" fill="#6068dc"/>
<rect x="90.7" y="229.0" width="0.8" height="0.8" fill="#6068dc"/>
<rect x="93.3" y="228.5" width="0.8" height="0.8" fill="#6068dc"/>
<rect x="87.8" y="226.2" width="0.8" height="0.8" fill="#6068dc"/>
<rect x="94.1" y="228.7" width="0.8" height="0.8" fill="#6068dc"/>
<rect x="94.1" y="221.0" width="0.8" height="0.8" fill="#6068dc"/>
<rect x="92.6" y="228.1" width="0.8" height="0.8" fill="#6068dc"/>
<rect x="94.9" y="225.7" width="0.8" height="0.8" fill="#3a3cc0"/>
<rect x="92.0" y="226.9" width="0.8" height="0.8" fill="#3a3cc0"/>
<rect x="93.2" y="226.3" width="0.8" height="0.8" fill="#3a3cc0"/>
<rect x="93.4" y="225.9" width="0.8" height="0.8" fill="#3a3cc0"/>
<rect x="92.6" y="226.2" width="0.8" height="0.8" fill="#3a3cc0"/>
<rect x="92.5" y="226.0" width="0.8" height="0.8" fill="#3a3cc0"/>
<rect x="90.7" y="228.3" width="0.8" height="0.8" fill="#3a3cc0"/>
<rect x="92.6" y="226.2" width="0.8" height="0.8" fill="#3a3cc0"/>
<rect x="92.5" y="228.2" width="0.8" height="0.8" fill="#3a3cc0"/>
<rect x="91.3" y="226.8" width="0.8" height="0.8" fill="#3a3cc0"/>
<rect x="92.8" y="227.6" width="0.8" height="0.8" fill="#3a3cc0"/>
<rect x="92.0" y="224.2" width="0.8" height="0.8" fill="#3a3cc0"/>
<rect x="93.5" y="227.3" width="0.8" height="0.8" fill="#3a3cc0"/>
<rect x="92.3" y="226.5" width="0.8" height="0.8" fill="#3a3cc0"/>
<rect x="92.6" y="226.3" width="0.8" height="0.8" fill="#3a3cc0"/>
<rect x="91.3" y="225.9" width="0.8" height="0.8" fill="#3a3cc0"/>
<rect x="91.7" y="226.1" width="0.8" height="0.8" fill="#3a3cc0"/>
<rect x="91.1" y="227.7" width="0.8" height="0.8" fill="#3a3cc0"/>
<rect x="91.0" y="227.8" width="0.8" height="0.8" fill="#3a3cc0"/>
<rect x="91.3" y="227.4" width="0.8" height="0.8" fill="#3a3cc0"/>
<rect x="93.7" y="227.2" width="0.8" height="0.8" fill="#3a3cc0"/>
<rect x="91.6" y="227.0" width="0.8" height="0.8" fill="#3a3cc0"/>
<rect x="92.4" y="224.6" width="0.8" height="0.8" fill="#3a3cc0"/>
<rect x="91.7" y="227.1" width="0.8" height="0.8" fill="#3a3cc0"/>
<rect x="91.8" y="227.0" width="0.8" height="0.8" fill="#3a3cc0"/>
<rect x="93.0" y="227.9" width="0.8" height="0.8" fill="#3a3cc0"/>
<rect x="93.2" y="227.7" width="0.8" height="0.8" fill="#3a3cc0"/>
<rect x="92.0" y="226.9" width="0.8" height="0.8" fill="#3a3cc0"/>
<rect x="92.0" y="226.5" width="0.8" height="0.8" fill="#3a3cc0"/>
<rect x="92.1" y="224.7" width="0.8" height="0.8" fill="#3a3cc0"/>
<rect x="92.0" y="226.9" width="0.8" height="0.8" fill="#3a3cc0"/>
<rect x="91.3" y="226.9" width="0.8" height="0.8" fill="#3a3cc0"/>
<rect x="92.8" y="226.7" width="0.8" height="0.8" fill="#3a3cc0"/>
<rect x="94.4" y="223.5" width="0.8" height="0.8" fill="#3a3cc0"/>
<rect x="92.1" y="224.5" width="0.8" height="0.8" fill="#3a3cc0"/>
<rect x="93.3" y="230.4" width="0.8" height="0.8" fill="#3a3cc0"/>
<rect x="89.8" y="227.1" width="0.8" height="0.8" fill="#3a3cc0"/>
<rect x="92.8" y="226.5" width="0.8" height="0.8" fill="#3a3cc0"/>
<rect x="92.9" y="224.0" width="0.8" height="0.8" fill="#3a3cc0"/>
<rect x="93.2" y="227.4" width="0.8" height="0.8" fill="#3a3cc0"/>
<rect x="92.3" y="226.1" width="0.8" height="0.8" fill="#3a3cc0"/>
<rect x="92.9" y="226.3" width="0.8" height="0.8" fill="#3a3cc0"/>
<rect x="92.5" y="226.2" width="0.8" height="0.8" fill="#3a3cc0"/>
<rect x="90.1" y="226.9" width="0.8" height="0.8" fill="#3a3cc0"/>
<rect x="92.5" y="227.9" width="0.8" height="0.8" fill="#3a3cc0"/>
<rect x="92.0" y="227.2" width="0.8" height="0.8" fill="#40b050"/>
<rect x="92.9" y="227.3" width="0.8" height="0.8" fill="#40b050"/>
<rect x="93.2" y="228.8" width="0.8" height="0.8" fill="#40b050"/>
<rect x="92.0" y="225.7" width="0.8" height="0.8" fill="#40b050"/>
<rect x="93.0" y="228.4" width="0.8" height="0.8" fill="#40b050"/>
<rect x="93.1" y="227.9" width="0.8" height="0.8" fill="#40b050"/>
<rect x="92.1" y="226.6" width="0.8" height="0.8" fill="#40b050"/>
<rect x="93.0" y="226.5" width="0.8" height="0.8" fill="#40b050"/>
<rect x="91.4" y="226.4" width="0.8" height="0.8" fill="#40b050"/>
<rect x="94.0" y="228.7" width="0.8" height="0.8" fill="#40b050"/>
<rect x="92.3" y="227.0" width="0.8" height="0.8" fill="#e0c020"/>
<rect x="92.7" y="227.0" width="0.8" height="0.8" fill="#e0c020"/>
<rect x="93.1" y="227.4" width="0.8" height="0.8" fill="#e0c020"/>
<rect x="92.2" y="228.1" width="0.8" height="0.8" fill="#e0c020"/>
<rect x="59.8" y="227.3" width="0.8" height="0.8" fill="#b0b6f6"/>
<rect x="64.9" y="224.1" width="0.8" height="0.8" fill="#b0b6f6"/>
<rect x="67.9" y="221.8" width="0.8" height="0.8" fill="#b0b6f6"/>
<rect x="48.4" y="212.8" width="0.8" height="0.8" fill="#b0b6f6"/>
<rect x="53.6" y="221.4" width="0.8" height="0.8" fill="#b0b6f6"/>
<rect x="64.8" y="226.3" width="0.8" height="0.8" fill="#b0b6f6"/>
<rect x="70.0" y="226.7" width="0.8" height="0.8" fill="#b0b6f6"/>
<rect x="57.9" y="221.7" width="0.8" height="0.8" fill="#b0b6f6"/>
<rect x="45.9" y="225.0" width="0.8" height="0.8" fill="#b0b6f6"/>
<rect x="69.4" y="229.2" width="0.8" height="0.8" fill="#b0b6f6"/>
<rect x="63.9" y="225.0" width="0.8" height="0.8" fill="#b0b6f6"/>
<rect x="73.4" y="226.1" width="0.8" height="0.8" fill="#b0b6f6"/>
<rect x="71.6" y="229.5" width="0.8" height="0.8" fill="#b0b6f6"/>
<rect x="66.9" y="233.8" width="0.8" height="0.8" fill="#b0b6f6"/>
<rect x="59.8" y="223.8" width="0.8" height="0.8" fill="#b0b6f6"/>
<rect x="57.7" y="221.2" width="0.8" height="0.8" fill="#b0b6f6"/>
<rect x="79.0" y="236.6" width="0.8" height="0.8" fill="#b0b6f6"/>
<rect x="65.2" y="229.4" width="0.8" height="0.8" fill="#b0b6f6"/>
<rect x="75.6" y="230.8" width="0.8" height="0.8" fill="#b0b6f6"/>
<rect x="75.8" y="218.4" width="0.8" height="0.8" fill="#b0b6f6"/>
<rect x="89.4" y="217.8" width="0.8" height="0.8" fill="#b0b6f6"/>
<rect x="97.7" y="216.4" width="0.8" height="0.8" fill="#b0b6f6"/>
<rect x="88.6" y="214.6" width="0.8" height="0.8" fill="#b0b6f6"/>
<rect x="89.4" y="212.6" width="0.8" height="0.8" fill="#b0b6f6"/>
<rect x="98.0" y="213.5" width="0.8" height="0.8" fill="#b0b6f6"/>
<rect x="92.1" y="224.6" width="0.8" height="0.8" fill="#b0b6f6"/>
<rect x="96.7" y="217.3" width="0.8" height="0.8" fill="#b0b6f6"/>
<rect x="89.6" y="217.6" width="0.8" height="0.8" fill="#b0b6f6"/>
<rect x="98.5" y="218.5" width="0.8" height="0.8" fill="#b0b6f6"/>
<rect x="97.0" y="216.4" width="0.8" height="0.8" fill="#b0b6f6"/>
<rect x="94.1" y="215.2" width="0.8" height="0.8" fill="#b0b6f6"/>
<rect x="93.7" y="221.2" width="0.8" height="0.8" fill="#b0b6f6"/>
<rect x="86.3" y="215.7" width="0.8" height="0.8" fill="#b0b6f6"/>
<rect x="93.0" y="213.7" width="0.8" height="0.8" fill="#b0b6f6"/>
<rect x="90.8" y="219.1" width="0.8" height="0.8" fill="#b0b6f6"/>
<rect x="100.0" y="218.5" width="0.8" height="0.8" fill="#b0b6f6"/>
<rect x="93.3" y="209.8" width="0.8" height="0.8" fill="#b0b6f6"/>
<rect x="99.7" y="216.3" width="0.8" height="0.8" fill="#b0b6f6"/>
<rect x="91.9" y="211.5" width="0.8" height="0.8" fill="#b0b6f6"/>
<rect x="91.8" y="211.6" width="0.8" height="0.8" fill="#b0b6f6"/>
<rect x="92.3" y="217.9" width="0.8" height="0.8" fill="#b0b6f6"/>
<rect x="92.1" y="217.1" width="0.8" height="0.8" fill="#b0b6f6"/>
<rect x="42.80" y="163.20" width="76.20" height="75.80" fill="none" stroke="#666" stroke-width="0.8"/>
<line x1="80.70" y1="163.20" x2="80.70" y2="239.00" stroke="#555" stroke-width="1.1"/>
<line x1="42.80" y1="207.80" x2="119.00" y2="207.80" stroke="#666" stroke-width="1.3"/>
<text font-size="7.07" transform="translate(44.80 169.60) scale(1 0.93)">Q1</text>
<text font-size="7.07" textLength="12.11" lengthAdjust="spacingAndGlyphs" transform="translate(44.80 177.00) scale(1 0.93)">56.7</text>
<text font-size="7.07" text-anchor="end" transform="translate(117.50 169.60) scale(1 0.93)">Q2</text>
<text font-size="7.07" text-anchor="end" textLength="15.57" lengthAdjust="spacingAndGlyphs" transform="translate(117.50 177.00) scale(1 0.93)">0.070</text>
<text font-size="7.07" transform="translate(44.80 228.80) scale(1 0.93)">Q4</text>
<text font-size="7.07" textLength="12.11" lengthAdjust="spacingAndGlyphs" transform="translate(44.80 236.30) scale(1 0.93)">2.51</text>
<text font-size="7.07" text-anchor="end" transform="translate(117.50 231.00) scale(1 0.93)">Q3</text>
<text font-size="7.07" text-anchor="end" textLength="12.11" lengthAdjust="spacingAndGlyphs" transform="translate(117.50 238.20) scale(1 0.93)">40.7</text>
<line x1="40.60" y1="171.00" x2="42.80" y2="171.00" stroke="#111" stroke-width="1.0"/>
<line x1="40.60" y1="188.30" x2="42.80" y2="188.30" stroke="#111" stroke-width="1.0"/>
<line x1="40.60" y1="207.60" x2="42.80" y2="207.60" stroke="#111" stroke-width="1.0"/>
<line x1="40.60" y1="227.50" x2="42.80" y2="227.50" stroke="#111" stroke-width="1.0"/>
<line x1="41.40" y1="173.47" x2="42.80" y2="173.47" stroke="#222" stroke-width="0.8"/>
<line x1="41.40" y1="175.94" x2="42.80" y2="175.94" stroke="#222" stroke-width="0.8"/>
<line x1="41.40" y1="178.41" x2="42.80" y2="178.41" stroke="#222" stroke-width="0.8"/>
<line x1="41.40" y1="180.89" x2="42.80" y2="180.89" stroke="#222" stroke-width="0.8"/>
<line x1="41.40" y1="183.36" x2="42.80" y2="183.36" stroke="#222" stroke-width="0.8"/>
<line x1="41.40" y1="185.83" x2="42.80" y2="185.83" stroke="#222" stroke-width="0.8"/>
<line x1="41.40" y1="190.71" x2="42.80" y2="190.71" stroke="#222" stroke-width="0.8"/>
<line x1="41.40" y1="193.12" x2="42.80" y2="193.12" stroke="#222" stroke-width="0.8"/>
<line x1="41.40" y1="195.54" x2="42.80" y2="195.54" stroke="#222" stroke-width="0.8"/>
<line x1="41.40" y1="197.95" x2="42.80" y2="197.95" stroke="#222" stroke-width="0.8"/>
<line x1="41.40" y1="200.36" x2="42.80" y2="200.36" stroke="#222" stroke-width="0.8"/>
<line x1="41.40" y1="202.78" x2="42.80" y2="202.78" stroke="#222" stroke-width="0.8"/>
<line x1="41.40" y1="205.19" x2="42.80" y2="205.19" stroke="#222" stroke-width="0.8"/>
<line x1="41.40" y1="210.20" x2="42.80" y2="210.20" stroke="#222" stroke-width="0.8"/>
<line x1="41.40" y1="212.80" x2="42.80" y2="212.80" stroke="#222" stroke-width="0.8"/>
<line x1="41.40" y1="215.40" x2="42.80" y2="215.40" stroke="#222" stroke-width="0.8"/>
<line x1="41.40" y1="218.00" x2="42.80" y2="218.00" stroke="#222" stroke-width="0.8"/>
<line x1="41.40" y1="220.40" x2="42.80" y2="220.40" stroke="#222" stroke-width="0.8"/>
<line x1="41.40" y1="222.60" x2="42.80" y2="222.60" stroke="#222" stroke-width="0.8"/>
<line x1="41.40" y1="224.00" x2="42.80" y2="224.00" stroke="#222" stroke-width="0.8"/>
<line x1="41.40" y1="225.20" x2="42.80" y2="225.20" stroke="#222" stroke-width="0.8"/>
<line x1="41.40" y1="226.40" x2="42.80" y2="226.40" stroke="#222" stroke-width="0.8"/>
<line x1="41.40" y1="228.60" x2="42.80" y2="228.60" stroke="#222" stroke-width="0.8"/>
<line x1="41.40" y1="229.80" x2="42.80" y2="229.80" stroke="#222" stroke-width="0.8"/>
<line x1="41.40" y1="231.00" x2="42.80" y2="231.00" stroke="#222" stroke-width="0.8"/>
<line x1="41.40" y1="232.40" x2="42.80" y2="232.40" stroke="#222" stroke-width="0.8"/>
<line x1="41.40" y1="234.60" x2="42.80" y2="234.60" stroke="#222" stroke-width="0.8"/>
<line x1="41.40" y1="237.00" x2="42.80" y2="237.00" stroke="#222" stroke-width="0.8"/>
<line x1="57.60" y1="239.00" x2="57.60" y2="241.40" stroke="#111" stroke-width="1.0"/>
<line x1="74.70" y1="239.00" x2="74.70" y2="241.40" stroke="#111" stroke-width="1.0"/>
<line x1="94.40" y1="239.00" x2="94.40" y2="241.40" stroke="#111" stroke-width="1.0"/>
<line x1="112.60" y1="239.00" x2="112.60" y2="241.40" stroke="#111" stroke-width="1.0"/>
<line x1="44.80" y1="239.00" x2="44.80" y2="240.80" stroke="#000" stroke-width="0.8"/>
<line x1="46.80" y1="239.00" x2="46.80" y2="240.80" stroke="#000" stroke-width="0.8"/>
<line x1="48.80" y1="239.00" x2="48.80" y2="240.80" stroke="#000" stroke-width="0.8"/>
<line x1="50.80" y1="239.00" x2="50.80" y2="240.80" stroke="#000" stroke-width="0.8"/>
<line x1="52.80" y1="239.00" x2="52.80" y2="240.80" stroke="#000" stroke-width="0.8"/>
<line x1="54.30" y1="239.00" x2="54.30" y2="240.80" stroke="#000" stroke-width="0.8"/>
<line x1="55.60" y1="239.00" x2="55.60" y2="240.80" stroke="#000" stroke-width="0.8"/>
<line x1="56.60" y1="239.00" x2="56.60" y2="240.80" stroke="#000" stroke-width="0.8"/>
<line x1="58.60" y1="239.00" x2="58.60" y2="240.80" stroke="#000" stroke-width="0.8"/>
<line x1="59.60" y1="239.00" x2="59.60" y2="240.80" stroke="#000" stroke-width="0.8"/>
<line x1="60.80" y1="239.00" x2="60.80" y2="240.80" stroke="#000" stroke-width="0.8"/>
<line x1="62.30" y1="239.00" x2="62.30" y2="240.80" stroke="#000" stroke-width="0.8"/>
<line x1="64.30" y1="239.00" x2="64.30" y2="240.80" stroke="#000" stroke-width="0.8"/>
<line x1="66.80" y1="239.00" x2="66.80" y2="240.80" stroke="#000" stroke-width="0.8"/>
<line x1="69.80" y1="239.00" x2="69.80" y2="240.80" stroke="#000" stroke-width="0.8"/>
<line x1="71.80" y1="239.00" x2="71.80" y2="240.80" stroke="#000" stroke-width="0.8"/>
<line x1="73.30" y1="239.00" x2="73.30" y2="240.80" stroke="#000" stroke-width="0.8"/>
<line x1="74.00" y1="239.00" x2="74.00" y2="240.80" stroke="#000" stroke-width="0.8"/>
<line x1="82.30" y1="239.00" x2="82.30" y2="240.80" stroke="#000" stroke-width="0.8"/>
<line x1="85.80" y1="239.00" x2="85.80" y2="240.80" stroke="#000" stroke-width="0.8"/>
<line x1="88.30" y1="239.00" x2="88.30" y2="240.80" stroke="#000" stroke-width="0.8"/>
<line x1="90.10" y1="239.00" x2="90.10" y2="240.80" stroke="#000" stroke-width="0.8"/>
<line x1="91.50" y1="239.00" x2="91.50" y2="240.80" stroke="#000" stroke-width="0.8"/>
<line x1="92.60" y1="239.00" x2="92.60" y2="240.80" stroke="#000" stroke-width="0.8"/>
<line x1="93.60" y1="239.00" x2="93.60" y2="240.80" stroke="#000" stroke-width="0.8"/>
<line x1="100.30" y1="239.00" x2="100.30" y2="240.80" stroke="#000" stroke-width="0.8"/>
<line x1="103.80" y1="239.00" x2="103.80" y2="240.80" stroke="#000" stroke-width="0.8"/>
<line x1="106.30" y1="239.00" x2="106.30" y2="240.80" stroke="#000" stroke-width="0.8"/>
<line x1="108.10" y1="239.00" x2="108.10" y2="240.80" stroke="#000" stroke-width="0.8"/>
<line x1="109.50" y1="239.00" x2="109.50" y2="240.80" stroke="#000" stroke-width="0.8"/>
<line x1="110.60" y1="239.00" x2="110.60" y2="240.80" stroke="#000" stroke-width="0.8"/>
<line x1="111.70" y1="239.00" x2="111.70" y2="240.80" stroke="#000" stroke-width="0.8"/>
<text font-size="7.0" text-anchor="end" transform="translate(33.60 172.90) scale(1 1.17)">10</text>
<text font-size="4.8" transform="translate(33.80 169.70) scale(1 1.17)">5</text>
<text font-size="7.0" text-anchor="end" transform="translate(33.60 190.00) scale(1 1.17)">10</text>
<text font-size="4.8" transform="translate(33.80 186.80) scale(1 1.17)">4</text>
<text font-size="7.0" text-anchor="end" transform="translate(33.60 208.50) scale(1 1.17)">10</text>
<text font-size="4.8" transform="translate(33.80 205.30) scale(1 1.17)">3</text>
<text font-size="7.0" text-anchor="end" transform="translate(33.30 230.20) scale(1 1.17)">0</text>
<text font-size="7.0" text-anchor="middle" transform="translate(57.60 251.20) scale(1 1.17)">0</text>
<text font-size="7.0" text-anchor="middle" transform="translate(74.10 251.20) scale(1 1.17)">10</text>
<text font-size="4.8" transform="translate(78.20 248.00) scale(1 1.17)">3</text>
<text font-size="7.0" text-anchor="middle" transform="translate(93.80 251.20) scale(1 1.17)">10</text>
<text font-size="4.8" transform="translate(97.90 248.00) scale(1 1.17)">4</text>
<text font-size="7.0" text-anchor="middle" transform="translate(112.00 251.20) scale(1 1.17)">10</text>
<text font-size="4.8" transform="translate(116.10 248.00) scale(1 1.17)">5</text>
<text font-size="7.9" text-anchor="middle" textLength="88.6" lengthAdjust="spacingAndGlyphs" transform="translate(187.70 156.80)">Anti-CD4 (clone GK1.5)</text>
<rect x="161.9" y="183.5" width="0.8" height="0.8" fill="#7880e8"/>
<rect x="179.2" y="180.6" width="0.8" height="0.8" fill="#7880e8"/>
<rect x="174.7" y="183.3" width="0.8" height="0.8" fill="#7880e8"/>
<rect x="165.3" y="185.9" width="0.8" height="0.8" fill="#7880e8"/>
<rect x="177.3" y="182.0" width="0.8" height="0.8" fill="#7880e8"/>
<rect x="172.3" y="183.3" width="0.8" height="0.8" fill="#7880e8"/>
<rect x="183.3" y="184.3" width="0.8" height="0.8" fill="#7880e8"/>
<rect x="151.0" y="187.3" width="0.8" height="0.8" fill="#7880e8"/>
<rect x="159.4" y="183.8" width="0.8" height="0.8" fill="#7880e8"/>
<rect x="182.6" y="186.6" width="0.8" height="0.8" fill="#7880e8"/>
<rect x="175.9" y="181.7" width="0.8" height="0.8" fill="#7880e8"/>
<rect x="161.7" y="187.0" width="0.8" height="0.8" fill="#7880e8"/>
<rect x="158.6" y="185.7" width="0.8" height="0.8" fill="#7880e8"/>
<rect x="174.1" y="182.0" width="0.8" height="0.8" fill="#7880e8"/>
<rect x="173.1" y="185.6" width="0.8" height="0.8" fill="#7880e8"/>
<rect x="179.1" y="183.2" width="0.8" height="0.8" fill="#7880e8"/>
<rect x="174.2" y="184.8" width="0.8" height="0.8" fill="#7880e8"/>
<rect x="175.1" y="181.9" width="0.8" height="0.8" fill="#7880e8"/>
<rect x="169.9" y="183.0" width="0.8" height="0.8" fill="#7880e8"/>
<rect x="171.7" y="184.7" width="0.8" height="0.8" fill="#7880e8"/>
<rect x="153.1" y="184.4" width="0.8" height="0.8" fill="#7880e8"/>
<rect x="151.4" y="182.9" width="0.8" height="0.8" fill="#7880e8"/>
<rect x="154.1" y="185.1" width="0.8" height="0.8" fill="#7880e8"/>
<rect x="155.3" y="182.7" width="0.8" height="0.8" fill="#7880e8"/>
<rect x="151.5" y="186.3" width="0.8" height="0.8" fill="#7880e8"/>
<rect x="172.1" y="184.3" width="0.8" height="0.8" fill="#7880e8"/>
<rect x="174.2" y="183.4" width="0.8" height="0.8" fill="#7880e8"/>
<rect x="170.6" y="182.8" width="0.8" height="0.8" fill="#7880e8"/>
<rect x="162.9" y="184.9" width="0.8" height="0.8" fill="#7880e8"/>
<rect x="180.8" y="180.3" width="0.8" height="0.8" fill="#7880e8"/>
<rect x="152.7" y="186.3" width="0.8" height="0.8" fill="#7880e8"/>
<rect x="182.6" y="180.4" width="0.8" height="0.8" fill="#7880e8"/>
<rect x="154.1" y="183.8" width="0.8" height="0.8" fill="#7880e8"/>
<rect x="151.7" y="184.4" width="0.8" height="0.8" fill="#7880e8"/>
<rect x="179.3" y="184.5" width="0.8" height="0.8" fill="#7880e8"/>
<rect x="178.6" y="181.0" width="0.8" height="0.8" fill="#7880e8"/>
<rect x="172.0" y="183.3" width="0.8" height="0.8" fill="#7880e8"/>
<rect x="153.8" y="184.3" width="0.8" height="0.8" fill="#7880e8"/>
<rect x="176.3" y="184.0" width="0.8" height="0.8" fill="#7880e8"/>
<rect x="164.9" y="185.1" width="0.8" height="0.8" fill="#7880e8"/>
<rect x="151.2" y="183.4" width="0.8" height="0.8" fill="#7880e8"/>
<rect x="174.8" y="185.0" width="0.8" height="0.8" fill="#7880e8"/>
<rect x="163.0" y="181.4" width="0.8" height="0.8" fill="#7880e8"/>
<rect x="167.6" y="187.9" width="0.8" height="0.8" fill="#7880e8"/>
<rect x="179.4" y="183.1" width="0.8" height="0.8" fill="#7880e8"/>
<rect x="164.5" y="183.2" width="0.8" height="0.8" fill="#7880e8"/>
<rect x="165.3" y="183.8" width="0.8" height="0.8" fill="#7880e8"/>
<rect x="174.5" y="181.8" width="0.8" height="0.8" fill="#7880e8"/>
<rect x="168.8" y="184.3" width="0.8" height="0.8" fill="#7880e8"/>
<rect x="153.6" y="187.2" width="0.8" height="0.8" fill="#7880e8"/>
<rect x="178.4" y="183.5" width="0.8" height="0.8" fill="#7880e8"/>
<rect x="157.4" y="183.6" width="0.8" height="0.8" fill="#7880e8"/>
<rect x="176.4" y="183.7" width="0.8" height="0.8" fill="#7880e8"/>
<rect x="167.2" y="183.5" width="0.8" height="0.8" fill="#7880e8"/>
<rect x="167.2" y="183.9" width="0.8" height="0.8" fill="#7880e8"/>
<rect x="167.3" y="182.3" width="0.8" height="0.8" fill="#7880e8"/>
<rect x="162.3" y="184.2" width="0.8" height="0.8" fill="#7880e8"/>
<rect x="182.6" y="182.2" width="0.8" height="0.8" fill="#7880e8"/>
<rect x="160.1" y="184.1" width="0.8" height="0.8" fill="#7880e8"/>
<rect x="167.4" y="186.4" width="0.8" height="0.8" fill="#7880e8"/>
<rect x="154.2" y="183.0" width="0.8" height="0.8" fill="#7880e8"/>
<rect x="177.3" y="182.9" width="0.8" height="0.8" fill="#7880e8"/>
<rect x="174.2" y="184.1" width="0.8" height="0.8" fill="#7880e8"/>
<rect x="162.6" y="180.9" width="0.8" height="0.8" fill="#7880e8"/>
<rect x="164.1" y="180.3" width="0.8" height="0.8" fill="#7880e8"/>
<rect x="153.4" y="186.0" width="0.8" height="0.8" fill="#7880e8"/>
<rect x="180.7" y="184.8" width="0.8" height="0.8" fill="#7880e8"/>
<rect x="159.4" y="183.7" width="0.8" height="0.8" fill="#7880e8"/>
<rect x="181.1" y="181.6" width="0.8" height="0.8" fill="#7880e8"/>
<rect x="180.6" y="183.5" width="0.8" height="0.8" fill="#7880e8"/>
<rect x="158.4" y="181.2" width="0.8" height="0.8" fill="#7880e8"/>
<rect x="176.2" y="184.1" width="0.8" height="0.8" fill="#7880e8"/>
<rect x="176.1" y="182.4" width="0.8" height="0.8" fill="#7880e8"/>
<rect x="161.6" y="182.1" width="0.8" height="0.8" fill="#7880e8"/>
<rect x="155.8" y="185.0" width="0.8" height="0.8" fill="#7880e8"/>
<rect x="175.7" y="181.2" width="0.8" height="0.8" fill="#7880e8"/>
<rect x="156.3" y="180.5" width="0.8" height="0.8" fill="#7880e8"/>
<rect x="170.2" y="184.7" width="0.8" height="0.8" fill="#7880e8"/>
<rect x="154.8" y="179.7" width="0.8" height="0.8" fill="#7880e8"/>
<rect x="158.6" y="184.4" width="0.8" height="0.8" fill="#7880e8"/>
<rect x="157.0" y="182.6" width="0.8" height="0.8" fill="#7880e8"/>
<rect x="179.2" y="186.3" width="0.8" height="0.8" fill="#7880e8"/>
<rect x="155.8" y="184.3" width="0.8" height="0.8" fill="#7880e8"/>
<rect x="161.6" y="184.7" width="0.8" height="0.8" fill="#7880e8"/>
<rect x="168.3" y="184.4" width="0.8" height="0.8" fill="#7880e8"/>
<rect x="156.9" y="184.9" width="0.8" height="0.8" fill="#7880e8"/>
<rect x="183.7" y="183.4" width="0.8" height="0.8" fill="#7880e8"/>
<rect x="183.2" y="182.6" width="0.8" height="0.8" fill="#7880e8"/>
<rect x="154.0" y="179.4" width="0.8" height="0.8" fill="#7880e8"/>
<rect x="177.5" y="187.1" width="0.8" height="0.8" fill="#7880e8"/>
<rect x="175.4" y="182.3" width="0.8" height="0.8" fill="#7880e8"/>
<rect x="172.2" y="184.0" width="0.8" height="0.8" fill="#7880e8"/>
<rect x="154.1" y="184.0" width="0.8" height="0.8" fill="#7880e8"/>
<rect x="151.7" y="185.3" width="0.8" height="0.8" fill="#7880e8"/>
<rect x="164.1" y="184.2" width="0.8" height="0.8" fill="#7880e8"/>
<rect x="167.5" y="180.7" width="0.8" height="0.8" fill="#7880e8"/>
<rect x="172.0" y="182.5" width="0.8" height="0.8" fill="#7880e8"/>
<rect x="171.0" y="183.7" width="0.8" height="0.8" fill="#7880e8"/>
<rect x="164.3" y="183.3" width="0.8" height="0.8" fill="#7880e8"/>
<rect x="165.1" y="179.4" width="0.8" height="0.8" fill="#7880e8"/>
<rect x="170.0" y="183.5" width="0.8" height="0.8" fill="#7880e8"/>
<rect x="158.3" y="181.5" width="0.8" height="0.8" fill="#7880e8"/>
<rect x="175.1" y="185.9" width="0.8" height="0.8" fill="#7880e8"/>
<rect x="174.3" y="181.3" width="0.8" height="0.8" fill="#7880e8"/>
<rect x="179.5" y="182.3" width="0.8" height="0.8" fill="#7880e8"/>
<rect x="165.9" y="181.0" width="0.8" height="0.8" fill="#7880e8"/>
<rect x="161.1" y="182.9" width="0.8" height="0.8" fill="#7880e8"/>
<rect x="164.8" y="182.9" width="0.8" height="0.8" fill="#7880e8"/>
<rect x="177.1" y="182.9" width="0.8" height="0.8" fill="#7880e8"/>
<rect x="159.0" y="180.9" width="0.8" height="0.8" fill="#7880e8"/>
<rect x="164.9" y="181.0" width="0.8" height="0.8" fill="#7880e8"/>
<rect x="164.4" y="184.2" width="0.8" height="0.8" fill="#7880e8"/>
<rect x="173.5" y="184.6" width="0.8" height="0.8" fill="#7880e8"/>
<rect x="172.8" y="183.0" width="0.8" height="0.8" fill="#7880e8"/>
<rect x="177.0" y="181.8" width="0.8" height="0.8" fill="#7880e8"/>
<rect x="183.6" y="184.9" width="0.8" height="0.8" fill="#7880e8"/>
<rect x="151.8" y="182.4" width="0.8" height="0.8" fill="#7880e8"/>
<rect x="177.1" y="183.2" width="0.8" height="0.8" fill="#7880e8"/>
<rect x="182.5" y="182.6" width="0.8" height="0.8" fill="#7880e8"/>
<rect x="170.0" y="183.4" width="0.8" height="0.8" fill="#7880e8"/>
<rect x="168.9" y="183.0" width="0.8" height="0.8" fill="#7880e8"/>
<rect x="172.2" y="181.3" width="0.8" height="0.8" fill="#7880e8"/>
<rect x="178.7" y="181.6" width="0.8" height="0.8" fill="#7880e8"/>
<rect x="182.7" y="183.2" width="0.8" height="0.8" fill="#7880e8"/>
<rect x="157.6" y="182.7" width="0.8" height="0.8" fill="#7880e8"/>
<rect x="176.4" y="181.8" width="0.8" height="0.8" fill="#7880e8"/>
<rect x="154.7" y="185.3" width="0.8" height="0.8" fill="#7880e8"/>
<rect x="152.4" y="183.3" width="0.8" height="0.8" fill="#7880e8"/>
<rect x="159.8" y="183.2" width="0.8" height="0.8" fill="#7880e8"/>
<rect x="164.7" y="183.7" width="0.8" height="0.8" fill="#7880e8"/>
<rect x="164.8" y="182.9" width="0.8" height="0.8" fill="#7880e8"/>
<rect x="159.5" y="181.8" width="0.8" height="0.8" fill="#7880e8"/>
<rect x="158.1" y="183.3" width="0.8" height="0.8" fill="#7880e8"/>
<rect x="168.4" y="179.0" width="0.8" height="0.8" fill="#7880e8"/>
<rect x="157.9" y="184.1" width="0.8" height="0.8" fill="#7880e8"/>
<rect x="157.7" y="181.7" width="0.8" height="0.8" fill="#7880e8"/>
<rect x="154.9" y="184.1" width="0.8" height="0.8" fill="#7880e8"/>
<rect x="172.1" y="180.1" width="0.8" height="0.8" fill="#7880e8"/>
<rect x="166.5" y="182.2" width="0.8" height="0.8" fill="#7880e8"/>
<rect x="183.3" y="183.0" width="0.8" height="0.8" fill="#7880e8"/>
<rect x="162.5" y="181.2" width="0.8" height="0.8" fill="#7880e8"/>
<rect x="178.3" y="180.8" width="0.8" height="0.8" fill="#7880e8"/>
<rect x="166.4" y="182.8" width="0.8" height="0.8" fill="#7880e8"/>
<rect x="154.8" y="185.8" width="0.8" height="0.8" fill="#7880e8"/>
<rect x="178.8" y="181.2" width="0.8" height="0.8" fill="#7880e8"/>
<rect x="159.6" y="186.4" width="0.8" height="0.8" fill="#7880e8"/>
<rect x="163.3" y="183.5" width="0.8" height="0.8" fill="#7880e8"/>
<rect x="156.8" y="185.5" width="0.8" height="0.8" fill="#7880e8"/>
<rect x="150.6" y="183.2" width="0.8" height="0.8" fill="#7880e8"/>
<rect x="158.8" y="182.0" width="0.8" height="0.8" fill="#7880e8"/>
<rect x="160.8" y="181.5" width="0.8" height="0.8" fill="#7880e8"/>
<rect x="172.2" y="183.8" width="0.8" height="0.8" fill="#7880e8"/>
<rect x="172.9" y="180.7" width="0.8" height="0.8" fill="#7880e8"/>
<rect x="179.6" y="186.8" width="0.8" height="0.8" fill="#7880e8"/>
<rect x="152.4" y="185.4" width="0.8" height="0.8" fill="#7880e8"/>
<rect x="177.2" y="179.9" width="0.8" height="0.8" fill="#7880e8"/>
<rect x="155.3" y="184.8" width="0.8" height="0.8" fill="#7880e8"/>
<rect x="151.0" y="181.2" width="0.8" height="0.8" fill="#7880e8"/>
<rect x="150.9" y="186.1" width="0.8" height="0.8" fill="#7880e8"/>
<rect x="159.0" y="182.7" width="0.8" height="0.8" fill="#7880e8"/>
<rect x="154.0" y="184.4" width="0.8" height="0.8" fill="#7880e8"/>
<rect x="176.9" y="184.6" width="0.8" height="0.8" fill="#7880e8"/>
<rect x="162.3" y="185.9" width="0.8" height="0.8" fill="#7880e8"/>
<rect x="177.4" y="186.9" width="0.8" height="0.8" fill="#7880e8"/>
<rect x="156.2" y="185.5" width="0.8" height="0.8" fill="#7880e8"/>
<rect x="177.1" y="181.9" width="0.8" height="0.8" fill="#7880e8"/>
<rect x="173.2" y="186.1" width="0.8" height="0.8" fill="#7880e8"/>
<rect x="179.0" y="181.4" width="0.8" height="0.8" fill="#7880e8"/>
<rect x="157.2" y="182.7" width="0.8" height="0.8" fill="#7880e8"/>
<rect x="175.7" y="181.3" width="0.8" height="0.8" fill="#7880e8"/>
<rect x="165.4" y="185.3" width="0.8" height="0.8" fill="#7880e8"/>
<rect x="159.5" y="181.9" width="0.8" height="0.8" fill="#7880e8"/>
<rect x="158.5" y="184.9" width="0.8" height="0.8" fill="#7880e8"/>
<rect x="152.5" y="185.2" width="0.8" height="0.8" fill="#7880e8"/>
<rect x="166.4" y="184.9" width="0.8" height="0.8" fill="#7880e8"/>
<rect x="167.4" y="185.2" width="0.8" height="0.8" fill="#7880e8"/>
<rect x="168.8" y="183.6" width="0.8" height="0.8" fill="#7880e8"/>
<rect x="179.1" y="183.3" width="0.8" height="0.8" fill="#7880e8"/>
<rect x="166.4" y="180.9" width="0.8" height="0.8" fill="#7880e8"/>
<rect x="179.1" y="182.4" width="0.8" height="0.8" fill="#7880e8"/>
<rect x="163.2" y="179.3" width="0.8" height="0.8" fill="#7880e8"/>
<rect x="153.1" y="185.9" width="0.8" height="0.8" fill="#7880e8"/>
<rect x="172.2" y="183.2" width="0.8" height="0.8" fill="#7880e8"/>
<rect x="171.2" y="183.2" width="0.8" height="0.8" fill="#7880e8"/>
<rect x="173.7" y="185.0" width="0.8" height="0.8" fill="#7880e8"/>
<rect x="183.9" y="182.8" width="0.8" height="0.8" fill="#7880e8"/>
<rect x="167.9" y="179.5" width="0.8" height="0.8" fill="#7880e8"/>
<rect x="151.7" y="183.9" width="0.8" height="0.8" fill="#7880e8"/>
<rect x="174.9" y="182.3" width="0.8" height="0.8" fill="#7880e8"/>
<rect x="179.8" y="182.3" width="0.8" height="0.8" fill="#7880e8"/>
<rect x="162.9" y="181.2" width="0.8" height="0.8" fill="#7880e8"/>
<rect x="176.7" y="183.9" width="0.8" height="0.8" fill="#7880e8"/>
<rect x="157.7" y="181.7" width="0.8" height="0.8" fill="#7880e8"/>
<rect x="169.3" y="184.3" width="0.8" height="0.8" fill="#7880e8"/>
<rect x="178.6" y="182.6" width="0.8" height="0.8" fill="#7880e8"/>
<rect x="164.2" y="186.9" width="0.8" height="0.8" fill="#7880e8"/>
<rect x="167.6" y="183.2" width="0.8" height="0.8" fill="#7880e8"/>
<rect x="183.6" y="185.7" width="0.8" height="0.8" fill="#7880e8"/>
<rect x="172.8" y="183.9" width="0.8" height="0.8" fill="#7880e8"/>
<rect x="161.3" y="181.9" width="0.8" height="0.8" fill="#7880e8"/>
<rect x="160.7" y="181.2" width="0.8" height="0.8" fill="#7880e8"/>
<rect x="177.2" y="182.1" width="0.8" height="0.8" fill="#7880e8"/>
<rect x="151.9" y="182.8" width="0.8" height="0.8" fill="#7880e8"/>
<rect x="169.0" y="179.6" width="0.8" height="0.8" fill="#7880e8"/>
<rect x="152.2" y="183.4" width="0.8" height="0.8" fill="#7880e8"/>
<rect x="157.0" y="183.7" width="0.8" height="0.8" fill="#7880e8"/>
<rect x="181.8" y="181.3" width="0.8" height="0.8" fill="#7880e8"/>
<rect x="177.3" y="181.7" width="0.8" height="0.8" fill="#7880e8"/>
<rect x="181.4" y="181.5" width="0.8" height="0.8" fill="#7880e8"/>
<rect x="171.8" y="181.8" width="0.8" height="0.8" fill="#7880e8"/>
<rect x="174.2" y="181.1" width="0.8" height="0.8" fill="#7880e8"/>
<rect x="157.7" y="181.9" width="0.8" height="0.8" fill="#7880e8"/>
<rect x="173.2" y="180.4" width="0.8" height="0.8" fill="#7880e8"/>
<rect x="153.9" y="184.3" width="0.8" height="0.8" fill="#7880e8"/>
<rect x="156.7" y="186.7" width="0.8" height="0.8" fill="#7880e8"/>
<rect x="181.6" y="184.3" width="0.8" height="0.8" fill="#7880e8"/>
<rect x="172.8" y="181.1" width="0.8" height="0.8" fill="#7880e8"/>
<rect x="177.2" y="186.1" width="0.8" height="0.8" fill="#7880e8"/>
<rect x="169.6" y="183.4" width="0.8" height="0.8" fill="#7880e8"/>
<rect x="164.8" y="185.1" width="0.8" height="0.8" fill="#7880e8"/>
<rect x="161.3" y="181.0" width="0.8" height="0.8" fill="#7880e8"/>
<rect x="182.3" y="184.6" width="0.8" height="0.8" fill="#7880e8"/>
<rect x="152.4" y="183.0" width="0.8" height="0.8" fill="#7880e8"/>
<rect x="154.5" y="183.3" width="0.8" height="0.8" fill="#7880e8"/>
<rect x="178.1" y="179.7" width="0.8" height="0.8" fill="#7880e8"/>
<rect x="165.7" y="181.6" width="0.8" height="0.8" fill="#7880e8"/>
<rect x="151.0" y="181.6" width="0.8" height="0.8" fill="#7880e8"/>
<rect x="182.4" y="185.2" width="0.8" height="0.8" fill="#7880e8"/>
<rect x="183.8" y="181.6" width="0.8" height="0.8" fill="#7880e8"/>
<rect x="154.0" y="183.8" width="0.8" height="0.8" fill="#7880e8"/>
<rect x="172.4" y="183.8" width="0.8" height="0.8" fill="#7880e8"/>
<rect x="151.0" y="184.6" width="0.8" height="0.8" fill="#7880e8"/>
<rect x="150.7" y="183.1" width="0.8" height="0.8" fill="#7880e8"/>
<rect x="183.4" y="182.6" width="0.8" height="0.8" fill="#7880e8"/>
<rect x="153.5" y="184.2" width="0.8" height="0.8" fill="#7880e8"/>
<rect x="151.1" y="182.8" width="0.8" height="0.8" fill="#7880e8"/>
<rect x="175.0" y="183.7" width="0.8" height="0.8" fill="#7880e8"/>
<rect x="156.9" y="186.6" width="0.8" height="0.8" fill="#7880e8"/>
<rect x="152.2" y="184.0" width="0.8" height="0.8" fill="#7880e8"/>
<rect x="179.6" y="180.5" width="0.8" height="0.8" fill="#7880e8"/>
<rect x="175.3" y="185.8" width="0.8" height="0.8" fill="#7880e8"/>
<rect x="174.6" y="184.9" width="0.8" height="0.8" fill="#7880e8"/>
<rect x="166.2" y="184.8" width="0.8" height="0.8" fill="#7880e8"/>
<rect x="183.3" y="182.9" width="0.8" height="0.8" fill="#7880e8"/>
<rect x="174.9" y="183.8" width="0.8" height="0.8" fill="#7880e8"/>
<rect x="172.6" y="183.5" width="0.8" height="0.8" fill="#7880e8"/>
<rect x="178.3" y="184.9" width="0.8" height="0.8" fill="#7880e8"/>
<rect x="175.3" y="184.3" width="0.8" height="0.8" fill="#7880e8"/>
<rect x="156.1" y="184.9" width="0.8" height="0.8" fill="#7880e8"/>
<rect x="152.5" y="181.8" width="0.8" height="0.8" fill="#7880e8"/>
<rect x="163.0" y="181.7" width="0.8" height="0.8" fill="#7880e8"/>
<rect x="173.5" y="182.6" width="0.8" height="0.8" fill="#7880e8"/>
<rect x="155.4" y="184.0" width="0.8" height="0.8" fill="#7880e8"/>
<rect x="172.4" y="181.8" width="0.8" height="0.8" fill="#7880e8"/>
<rect x="171.9" y="181.9" width="0.8" height="0.8" fill="#7880e8"/>
<rect x="177.2" y="184.4" width="0.8" height="0.8" fill="#7880e8"/>
<rect x="182.6" y="184.0" width="0.8" height="0.8" fill="#7880e8"/>
<rect x="160.4" y="181.1" width="0.8" height="0.8" fill="#7880e8"/>
<rect x="152.6" y="186.4" width="0.8" height="0.8" fill="#7880e8"/>
<rect x="178.6" y="183.0" width="0.8" height="0.8" fill="#7880e8"/>
<rect x="161.8" y="179.4" width="0.8" height="0.8" fill="#7880e8"/>
<rect x="178.8" y="180.3" width="0.8" height="0.8" fill="#7880e8"/>
<rect x="170.9" y="182.8" width="0.8" height="0.8" fill="#7880e8"/>
<rect x="180.7" y="185.4" width="0.8" height="0.8" fill="#7880e8"/>
<rect x="163.3" y="182.5" width="0.8" height="0.8" fill="#7880e8"/>
<rect x="181.0" y="181.1" width="0.8" height="0.8" fill="#7880e8"/>
<rect x="178.0" y="183.5" width="0.8" height="0.8" fill="#7880e8"/>
<rect x="159.4" y="183.6" width="0.8" height="0.8" fill="#7880e8"/>
<rect x="164.9" y="180.5" width="0.8" height="0.8" fill="#7880e8"/>
<rect x="180.7" y="181.7" width="0.8" height="0.8" fill="#7880e8"/>
<rect x="151.9" y="185.2" width="0.8" height="0.8" fill="#7880e8"/>
<rect x="180.0" y="180.5" width="0.8" height="0.8" fill="#7880e8"/>
<rect x="169.9" y="182.9" width="0.8" height="0.8" fill="#7880e8"/>
<rect x="177.9" y="187.2" width="0.8" height="0.8" fill="#7880e8"/>
<rect x="173.8" y="185.0" width="0.8" height="0.8" fill="#7880e8"/>
<rect x="153.4" y="182.6" width="0.8" height="0.8" fill="#7880e8"/>
<rect x="169.3" y="183.9" width="0.8" height="0.8" fill="#7880e8"/>
<rect x="176.0" y="182.3" width="0.8" height="0.8" fill="#7880e8"/>
<rect x="182.2" y="183.8" width="0.8" height="0.8" fill="#7880e8"/>
<rect x="173.5" y="186.1" width="0.8" height="0.8" fill="#7880e8"/>
<rect x="166.3" y="183.9" width="0.8" height="0.8" fill="#7880e8"/>
<rect x="176.0" y="184.9" width="0.8" height="0.8" fill="#7880e8"/>
<rect x="177.4" y="182.7" width="0.8" height="0.8" fill="#7880e8"/>
<rect x="177.9" y="183.7" width="0.8" height="0.8" fill="#7880e8"/>
<rect x="176.8" y="183.8" width="0.8" height="0.8" fill="#7880e8"/>
<rect x="181.0" y="186.0" width="0.8" height="0.8" fill="#7880e8"/>
<rect x="180.6" y="181.4" width="0.8" height="0.8" fill="#7880e8"/>
<rect x="170.5" y="183.2" width="0.8" height="0.8" fill="#7880e8"/>
<rect x="156.9" y="183.9" width="0.8" height="0.8" fill="#7880e8"/>
<rect x="174.3" y="184.6" width="0.8" height="0.8" fill="#7880e8"/>
<rect x="162.8" y="181.7" width="0.8" height="0.8" fill="#7880e8"/>
<rect x="168.1" y="182.7" width="0.8" height="0.8" fill="#7880e8"/>
<rect x="155.6" y="189.7" width="0.8" height="0.8" fill="#7880e8"/>
<rect x="163.2" y="185.3" width="0.8" height="0.8" fill="#7880e8"/>
<rect x="154.1" y="181.3" width="0.8" height="0.8" fill="#7880e8"/>
<rect x="155.8" y="181.0" width="0.8" height="0.8" fill="#7880e8"/>
<rect x="170.8" y="182.2" width="0.8" height="0.8" fill="#7880e8"/>
<rect x="151.2" y="185.4" width="0.8" height="0.8" fill="#7880e8"/>
<rect x="151.6" y="187.3" width="0.8" height="0.8" fill="#7880e8"/>
<rect x="167.0" y="183.3" width="0.8" height="0.8" fill="#7880e8"/>
<rect x="169.1" y="183.3" width="0.8" height="0.8" fill="#4a54d0"/>
<rect x="164.6" y="185.6" width="0.8" height="0.8" fill="#4a54d0"/>
<rect x="181.3" y="183.7" width="0.8" height="0.8" fill="#4a54d0"/>
<rect x="181.8" y="181.3" width="0.8" height="0.8" fill="#4a54d0"/>
<rect x="159.1" y="184.3" width="0.8" height="0.8" fill="#4a54d0"/>
<rect x="156.8" y="183.7" width="0.8" height="0.8" fill="#4a54d0"/>
<rect x="153.7" y="185.0" width="0.8" height="0.8" fill="#4a54d0"/>
<rect x="178.9" y="184.0" width="0.8" height="0.8" fill="#4a54d0"/>
<rect x="165.7" y="186.0" width="0.8" height="0.8" fill="#4a54d0"/>
<rect x="153.1" y="182.6" width="0.8" height="0.8" fill="#4a54d0"/>
<rect x="170.1" y="183.0" width="0.8" height="0.8" fill="#4a54d0"/>
<rect x="181.7" y="183.9" width="0.8" height="0.8" fill="#4a54d0"/>
<rect x="159.2" y="181.9" width="0.8" height="0.8" fill="#4a54d0"/>
<rect x="181.6" y="182.8" width="0.8" height="0.8" fill="#4a54d0"/>
<rect x="172.4" y="182.5" width="0.8" height="0.8" fill="#4a54d0"/>
<rect x="156.1" y="184.3" width="0.8" height="0.8" fill="#4a54d0"/>
<rect x="181.9" y="184.3" width="0.8" height="0.8" fill="#4a54d0"/>
<rect x="152.2" y="183.5" width="0.8" height="0.8" fill="#4a54d0"/>
<rect x="159.2" y="182.0" width="0.8" height="0.8" fill="#4a54d0"/>
<rect x="179.9" y="185.6" width="0.8" height="0.8" fill="#4a54d0"/>
<rect x="177.8" y="185.5" width="0.8" height="0.8" fill="#4a54d0"/>
<rect x="173.7" y="184.1" width="0.8" height="0.8" fill="#4a54d0"/>
<rect x="171.7" y="183.9" width="0.8" height="0.8" fill="#4a54d0"/>
<rect x="155.6" y="183.5" width="0.8" height="0.8" fill="#4a54d0"/>
<rect x="175.2" y="185.2" width="0.8" height="0.8" fill="#4a54d0"/>
<rect x="160.6" y="182.8" width="0.8" height="0.8" fill="#4a54d0"/>
<rect x="169.9" y="183.5" width="0.8" height="0.8" fill="#4a54d0"/>
<rect x="161.4" y="182.9" width="0.8" height="0.8" fill="#4a54d0"/>
<rect x="159.2" y="184.5" width="0.8" height="0.8" fill="#4a54d0"/>
<rect x="156.4" y="184.5" width="0.8" height="0.8" fill="#4a54d0"/>
<rect x="158.6" y="184.6" width="0.8" height="0.8" fill="#4a54d0"/>
<rect x="151.4" y="184.9" width="0.8" height="0.8" fill="#4a54d0"/>
<rect x="174.0" y="183.6" width="0.8" height="0.8" fill="#4a54d0"/>
<rect x="180.7" y="183.8" width="0.8" height="0.8" fill="#4a54d0"/>
<rect x="158.1" y="185.7" width="0.8" height="0.8" fill="#4a54d0"/>
<rect x="179.4" y="182.5" width="0.8" height="0.8" fill="#4a54d0"/>
<rect x="155.5" y="183.0" width="0.8" height="0.8" fill="#4a54d0"/>
<rect x="180.7" y="183.7" width="0.8" height="0.8" fill="#4a54d0"/>
<rect x="178.0" y="182.6" width="0.8" height="0.8" fill="#4a54d0"/>
<rect x="161.9" y="182.5" width="0.8" height="0.8" fill="#4a54d0"/>
<rect x="177.3" y="181.8" width="0.8" height="0.8" fill="#4a54d0"/>
<rect x="155.6" y="183.7" width="0.8" height="0.8" fill="#4a54d0"/>
<rect x="158.1" y="185.3" width="0.8" height="0.8" fill="#4a54d0"/>
<rect x="168.7" y="184.2" width="0.8" height="0.8" fill="#4a54d0"/>
<rect x="155.6" y="184.1" width="0.8" height="0.8" fill="#4a54d0"/>
<rect x="164.2" y="182.8" width="0.8" height="0.8" fill="#4a54d0"/>
<rect x="156.0" y="183.2" width="0.8" height="0.8" fill="#4a54d0"/>
<rect x="161.7" y="185.8" width="0.8" height="0.8" fill="#4a54d0"/>
<rect x="156.4" y="182.5" width="0.8" height="0.8" fill="#4a54d0"/>
<rect x="179.9" y="183.6" width="0.8" height="0.8" fill="#4a54d0"/>
<rect x="154.7" y="183.9" width="0.8" height="0.8" fill="#4a54d0"/>
<rect x="179.6" y="183.4" width="0.8" height="0.8" fill="#4a54d0"/>
<rect x="172.4" y="183.8" width="0.8" height="0.8" fill="#4a54d0"/>
<rect x="160.2" y="184.8" width="0.8" height="0.8" fill="#4a54d0"/>
<rect x="159.2" y="183.8" width="0.8" height="0.8" fill="#4a54d0"/>
<rect x="182.7" y="184.6" width="0.8" height="0.8" fill="#4a54d0"/>
<rect x="182.9" y="184.0" width="0.8" height="0.8" fill="#4a54d0"/>
<rect x="160.3" y="183.3" width="0.8" height="0.8" fill="#4a54d0"/>
<rect x="179.7" y="185.3" width="0.8" height="0.8" fill="#4a54d0"/>
<rect x="160.4" y="184.2" width="0.8" height="0.8" fill="#4a54d0"/>
<rect x="182.3" y="185.7" width="0.8" height="0.8" fill="#4a54d0"/>
<rect x="161.9" y="183.7" width="0.8" height="0.8" fill="#4a54d0"/>
<rect x="155.5" y="185.8" width="0.8" height="0.8" fill="#4a54d0"/>
<rect x="167.9" y="183.5" width="0.8" height="0.8" fill="#4a54d0"/>
<rect x="156.9" y="181.1" width="0.8" height="0.8" fill="#4a54d0"/>
<rect x="158.0" y="184.5" width="0.8" height="0.8" fill="#4a54d0"/>
<rect x="169.3" y="184.0" width="0.8" height="0.8" fill="#4a54d0"/>
<rect x="175.7" y="184.1" width="0.8" height="0.8" fill="#4a54d0"/>
<rect x="173.8" y="183.7" width="0.8" height="0.8" fill="#4a54d0"/>
<rect x="153.8" y="184.0" width="0.8" height="0.8" fill="#4a54d0"/>
<rect x="170.5" y="182.5" width="0.8" height="0.8" fill="#4a54d0"/>
<rect x="157.6" y="183.5" width="0.8" height="0.8" fill="#4a54d0"/>
<rect x="170.6" y="182.9" width="0.8" height="0.8" fill="#4a54d0"/>
<rect x="169.7" y="181.4" width="0.8" height="0.8" fill="#4a54d0"/>
<rect x="157.5" y="185.3" width="0.8" height="0.8" fill="#4a54d0"/>
<rect x="164.1" y="184.3" width="0.8" height="0.8" fill="#4a54d0"/>
<rect x="174.1" y="185.6" width="0.8" height="0.8" fill="#4a54d0"/>
<rect x="161.7" y="184.2" width="0.8" height="0.8" fill="#4a54d0"/>
<rect x="177.9" y="184.4" width="0.8" height="0.8" fill="#4a54d0"/>
<rect x="151.5" y="182.4" width="0.8" height="0.8" fill="#4a54d0"/>
<rect x="180.1" y="181.1" width="0.8" height="0.8" fill="#4a54d0"/>
<rect x="159.5" y="183.9" width="0.8" height="0.8" fill="#4a54d0"/>
<rect x="157.0" y="184.1" width="0.8" height="0.8" fill="#4a54d0"/>
<rect x="156.2" y="182.5" width="0.8" height="0.8" fill="#4a54d0"/>
<rect x="162.9" y="183.4" width="0.8" height="0.8" fill="#4a54d0"/>
<rect x="167.6" y="183.4" width="0.8" height="0.8" fill="#4a54d0"/>
<rect x="165.3" y="182.9" width="0.8" height="0.8" fill="#4a54d0"/>
<rect x="173.9" y="183.4" width="0.8" height="0.8" fill="#4a54d0"/>
<rect x="177.1" y="184.2" width="0.8" height="0.8" fill="#4a54d0"/>
<rect x="173.8" y="182.7" width="0.8" height="0.8" fill="#4a54d0"/>
<rect x="163.2" y="183.5" width="0.8" height="0.8" fill="#4a54d0"/>
<rect x="178.9" y="183.1" width="0.8" height="0.8" fill="#4a54d0"/>
<rect x="181.5" y="182.1" width="0.8" height="0.8" fill="#4a54d0"/>
<rect x="168.0" y="183.5" width="0.8" height="0.8" fill="#4a54d0"/>
<rect x="168.2" y="186.6" width="0.8" height="0.8" fill="#4a54d0"/>
<rect x="158.2" y="183.9" width="0.8" height="0.8" fill="#4a54d0"/>
<rect x="156.8" y="184.2" width="0.8" height="0.8" fill="#4a54d0"/>
<rect x="177.1" y="184.0" width="0.8" height="0.8" fill="#4a54d0"/>
<rect x="152.0" y="185.0" width="0.8" height="0.8" fill="#4a54d0"/>
<rect x="157.2" y="184.6" width="0.8" height="0.8" fill="#4a54d0"/>
<rect x="151.6" y="182.2" width="0.8" height="0.8" fill="#4a54d0"/>
<rect x="167.7" y="182.6" width="0.8" height="0.8" fill="#4a54d0"/>
<rect x="173.5" y="185.4" width="0.8" height="0.8" fill="#4a54d0"/>
<rect x="173.9" y="185.0" width="0.8" height="0.8" fill="#4a54d0"/>
<rect x="152.4" y="184.5" width="0.8" height="0.8" fill="#4a54d0"/>
<rect x="167.0" y="184.5" width="0.8" height="0.8" fill="#4a54d0"/>
<rect x="159.9" y="184.4" width="0.8" height="0.8" fill="#4a54d0"/>
<rect x="155.4" y="184.3" width="0.8" height="0.8" fill="#4a54d0"/>
<rect x="169.9" y="183.9" width="0.8" height="0.8" fill="#4a54d0"/>
<rect x="169.3" y="183.0" width="0.8" height="0.8" fill="#4a54d0"/>
<rect x="174.9" y="184.7" width="0.8" height="0.8" fill="#4a54d0"/>
<rect x="181.0" y="185.4" width="0.8" height="0.8" fill="#4a54d0"/>
<rect x="163.4" y="181.5" width="0.8" height="0.8" fill="#4a54d0"/>
<rect x="167.8" y="184.6" width="0.8" height="0.8" fill="#4a54d0"/>
<rect x="163.7" y="185.4" width="0.8" height="0.8" fill="#4a54d0"/>
<rect x="161.8" y="182.8" width="0.8" height="0.8" fill="#4a54d0"/>
<rect x="158.7" y="182.8" width="0.8" height="0.8" fill="#4a54d0"/>
<rect x="182.4" y="184.6" width="0.8" height="0.8" fill="#4a54d0"/>
<rect x="176.7" y="185.4" width="0.8" height="0.8" fill="#4a54d0"/>
<rect x="178.1" y="182.4" width="0.8" height="0.8" fill="#4a54d0"/>
<rect x="152.7" y="180.5" width="0.8" height="0.8" fill="#4a54d0"/>
<rect x="180.9" y="183.2" width="0.8" height="0.8" fill="#4a54d0"/>
<rect x="159.0" y="182.0" width="0.8" height="0.8" fill="#4a54d0"/>
<rect x="162.7" y="184.3" width="0.8" height="0.8" fill="#4a54d0"/>
<rect x="168.0" y="184.7" width="0.8" height="0.8" fill="#4a54d0"/>
<rect x="167.2" y="184.0" width="0.8" height="0.8" fill="#4a54d0"/>
<rect x="151.7" y="185.5" width="0.8" height="0.8" fill="#4a54d0"/>
<rect x="175.9" y="185.9" width="0.8" height="0.8" fill="#4a54d0"/>
<rect x="181.0" y="182.0" width="0.8" height="0.8" fill="#4a54d0"/>
<rect x="179.3" y="181.9" width="0.8" height="0.8" fill="#4a54d0"/>
<rect x="179.3" y="185.2" width="0.8" height="0.8" fill="#4a54d0"/>
<rect x="159.5" y="183.9" width="0.8" height="0.8" fill="#4a54d0"/>
<rect x="172.7" y="183.3" width="0.8" height="0.8" fill="#4a54d0"/>
<rect x="180.6" y="185.0" width="0.8" height="0.8" fill="#4a54d0"/>
<rect x="170.9" y="183.5" width="0.8" height="0.8" fill="#4a54d0"/>
<rect x="164.9" y="185.0" width="0.8" height="0.8" fill="#4a54d0"/>
<rect x="181.4" y="183.3" width="0.8" height="0.8" fill="#4a54d0"/>
<rect x="171.7" y="184.5" width="0.8" height="0.8" fill="#4a54d0"/>
<rect x="154.9" y="181.0" width="0.8" height="0.8" fill="#4a54d0"/>
<rect x="167.4" y="181.8" width="0.8" height="0.8" fill="#4a54d0"/>
<rect x="159.6" y="182.1" width="0.8" height="0.8" fill="#4a54d0"/>
<rect x="155.7" y="183.8" width="0.8" height="0.8" fill="#4a54d0"/>
<rect x="155.0" y="184.2" width="0.8" height="0.8" fill="#4a54d0"/>
<rect x="164.0" y="184.2" width="0.8" height="0.8" fill="#4a54d0"/>
<rect x="160.2" y="183.5" width="0.8" height="0.8" fill="#4a54d0"/>
<rect x="168.5" y="184.0" width="0.8" height="0.8" fill="#4a54d0"/>
<rect x="177.9" y="182.3" width="0.8" height="0.8" fill="#4a54d0"/>
<rect x="171.8" y="182.5" width="0.8" height="0.8" fill="#4a54d0"/>
<rect x="157.4" y="183.2" width="0.8" height="0.8" fill="#4a54d0"/>
<rect x="168.5" y="182.2" width="0.8" height="0.8" fill="#4a54d0"/>
<rect x="170.6" y="182.5" width="0.8" height="0.8" fill="#4a54d0"/>
<rect x="158.8" y="183.7" width="0.8" height="0.8" fill="#4a54d0"/>
<rect x="158.1" y="182.3" width="0.8" height="0.8" fill="#4a54d0"/>
<rect x="169.7" y="183.4" width="0.8" height="0.8" fill="#4a54d0"/>
<rect x="151.4" y="182.1" width="0.8" height="0.8" fill="#4a54d0"/>
<rect x="158.6" y="185.4" width="0.8" height="0.8" fill="#4a54d0"/>
<rect x="168.8" y="182.5" width="0.8" height="0.8" fill="#4a54d0"/>
<rect x="182.6" y="183.6" width="0.8" height="0.8" fill="#4a54d0"/>
<rect x="160.5" y="183.6" width="0.8" height="0.8" fill="#4a54d0"/>
<rect x="153.1" y="182.8" width="0.8" height="0.8" fill="#4a54d0"/>
<rect x="178.9" y="183.1" width="0.8" height="0.8" fill="#4a54d0"/>
<rect x="163.4" y="183.7" width="0.8" height="0.8" fill="#4a54d0"/>
<rect x="165.1" y="183.4" width="0.8" height="0.8" fill="#4a54d0"/>
<rect x="158.2" y="182.9" width="0.8" height="0.8" fill="#4a54d0"/>
<rect x="181.7" y="183.5" width="0.8" height="0.8" fill="#4a54d0"/>
<rect x="161.8" y="182.8" width="0.8" height="0.8" fill="#4a54d0"/>
<rect x="162.3" y="182.7" width="0.8" height="0.8" fill="#4a54d0"/>
<rect x="178.2" y="182.0" width="0.8" height="0.8" fill="#4a54d0"/>
<rect x="177.3" y="181.5" width="0.8" height="0.8" fill="#4a54d0"/>
<rect x="174.8" y="183.3" width="0.8" height="0.8" fill="#4a54d0"/>
<rect x="175.3" y="181.4" width="0.8" height="0.8" fill="#4a54d0"/>
<rect x="173.7" y="183.8" width="0.8" height="0.8" fill="#4a54d0"/>
<rect x="180.3" y="185.2" width="0.8" height="0.8" fill="#4a54d0"/>
<rect x="151.1" y="185.2" width="0.8" height="0.8" fill="#4a54d0"/>
<rect x="175.5" y="182.3" width="0.8" height="0.8" fill="#4a54d0"/>
<rect x="181.8" y="182.8" width="0.8" height="0.8" fill="#4a54d0"/>
<rect x="169.3" y="181.7" width="0.8" height="0.8" fill="#4a54d0"/>
<rect x="178.9" y="184.5" width="0.8" height="0.8" fill="#4a54d0"/>
<rect x="170.4" y="182.5" width="0.8" height="0.8" fill="#4a54d0"/>
<rect x="165.7" y="184.4" width="0.8" height="0.8" fill="#4a54d0"/>
<rect x="174.1" y="183.2" width="0.8" height="0.8" fill="#4a54d0"/>
<rect x="168.8" y="184.7" width="0.8" height="0.8" fill="#4a54d0"/>
<rect x="163.3" y="182.6" width="0.8" height="0.8" fill="#4a54d0"/>
<rect x="178.2" y="185.4" width="0.8" height="0.8" fill="#4a54d0"/>
<rect x="167.0" y="182.8" width="0.8" height="0.8" fill="#4a54d0"/>
<rect x="160.7" y="183.8" width="0.8" height="0.8" fill="#4a54d0"/>
<rect x="155.6" y="182.1" width="0.8" height="0.8" fill="#4a54d0"/>
<rect x="153.8" y="182.8" width="0.8" height="0.8" fill="#4a54d0"/>
<rect x="180.4" y="182.5" width="0.8" height="0.8" fill="#4a54d0"/>
<rect x="177.8" y="185.6" width="0.8" height="0.8" fill="#4a54d0"/>
<rect x="181.7" y="183.9" width="0.8" height="0.8" fill="#4a54d0"/>
<rect x="180.1" y="184.7" width="0.8" height="0.8" fill="#4a54d0"/>
<rect x="151.3" y="185.0" width="0.8" height="0.8" fill="#4a54d0"/>
<rect x="166.9" y="184.0" width="0.8" height="0.8" fill="#4a54d0"/>
<rect x="180.4" y="183.7" width="0.8" height="0.8" fill="#4a54d0"/>
<rect x="182.9" y="182.0" width="0.8" height="0.8" fill="#4a54d0"/>
<rect x="167.6" y="181.7" width="0.8" height="0.8" fill="#4a54d0"/>
<rect x="163.5" y="183.3" width="0.8" height="0.8" fill="#4a54d0"/>
<rect x="162.4" y="182.6" width="0.8" height="0.8" fill="#4a54d0"/>
<rect x="181.3" y="182.9" width="0.8" height="0.8" fill="#4a54d0"/>
<rect x="171.9" y="183.1" width="0.8" height="0.8" fill="#3aa070"/>
<rect x="164.4" y="183.4" width="0.8" height="0.8" fill="#3aa070"/>
<rect x="165.0" y="182.5" width="0.8" height="0.8" fill="#3aa070"/>
<rect x="177.0" y="183.1" width="0.8" height="0.8" fill="#3aa070"/>
<rect x="179.1" y="182.6" width="0.8" height="0.8" fill="#3aa070"/>
<rect x="170.6" y="183.6" width="0.8" height="0.8" fill="#3aa070"/>
<rect x="179.9" y="183.0" width="0.8" height="0.8" fill="#3aa070"/>
<rect x="175.4" y="184.3" width="0.8" height="0.8" fill="#3aa070"/>
<rect x="159.3" y="182.6" width="0.8" height="0.8" fill="#3aa070"/>
<rect x="175.7" y="185.5" width="0.8" height="0.8" fill="#3aa070"/>
<rect x="167.8" y="184.8" width="0.8" height="0.8" fill="#3aa070"/>
<rect x="172.2" y="184.6" width="0.8" height="0.8" fill="#3aa070"/>
<rect x="175.5" y="185.2" width="0.8" height="0.8" fill="#3aa070"/>
<rect x="165.5" y="183.4" width="0.8" height="0.8" fill="#3aa070"/>
<rect x="158.9" y="183.3" width="0.8" height="0.8" fill="#3aa070"/>
<rect x="167.6" y="184.4" width="0.8" height="0.8" fill="#3aa070"/>
<rect x="159.7" y="184.0" width="0.8" height="0.8" fill="#3aa070"/>
<rect x="170.1" y="184.5" width="0.8" height="0.8" fill="#3aa070"/>
<rect x="163.8" y="184.6" width="0.8" height="0.8" fill="#3aa070"/>
<rect x="156.1" y="183.5" width="0.8" height="0.8" fill="#3aa070"/>
<rect x="165.3" y="183.7" width="0.8" height="0.8" fill="#3aa070"/>
<rect x="172.3" y="182.8" width="0.8" height="0.8" fill="#3aa070"/>
<rect x="155.1" y="183.0" width="0.8" height="0.8" fill="#3aa070"/>
<rect x="169.7" y="184.9" width="0.8" height="0.8" fill="#3aa070"/>
<rect x="171.7" y="183.8" width="0.8" height="0.8" fill="#3aa070"/>
<rect x="168.8" y="184.4" width="0.8" height="0.8" fill="#3aa070"/>
<rect x="161.7" y="182.9" width="0.8" height="0.8" fill="#3aa070"/>
<rect x="179.9" y="182.7" width="0.8" height="0.8" fill="#3aa070"/>
<rect x="169.4" y="183.2" width="0.8" height="0.8" fill="#3aa070"/>
<rect x="158.9" y="183.7" width="0.8" height="0.8" fill="#3aa070"/>
<rect x="174.0" y="183.8" width="0.8" height="0.8" fill="#3aa070"/>
<rect x="159.3" y="183.7" width="0.8" height="0.8" fill="#3aa070"/>
<rect x="168.1" y="184.0" width="0.8" height="0.8" fill="#3aa070"/>
<rect x="175.2" y="182.5" width="0.8" height="0.8" fill="#3aa070"/>
<rect x="156.6" y="184.9" width="0.8" height="0.8" fill="#3aa070"/>
<rect x="163.1" y="183.6" width="0.8" height="0.8" fill="#3aa070"/>
<rect x="172.9" y="183.2" width="0.8" height="0.8" fill="#3aa070"/>
<rect x="161.7" y="183.9" width="0.8" height="0.8" fill="#3aa070"/>
<rect x="157.5" y="184.4" width="0.8" height="0.8" fill="#3aa070"/>
<rect x="163.7" y="182.9" width="0.8" height="0.8" fill="#3aa070"/>
<rect x="166.2" y="183.3" width="0.8" height="0.8" fill="#3aa070"/>
<rect x="177.3" y="183.7" width="0.8" height="0.8" fill="#3aa070"/>
<rect x="169.6" y="184.3" width="0.8" height="0.8" fill="#3aa070"/>
<rect x="170.5" y="183.3" width="0.8" height="0.8" fill="#3aa070"/>
<rect x="161.2" y="185.3" width="0.8" height="0.8" fill="#3aa070"/>
<rect x="176.4" y="184.0" width="0.8" height="0.8" fill="#3aa070"/>
<rect x="162.9" y="184.7" width="0.8" height="0.8" fill="#3aa070"/>
<rect x="162.6" y="182.6" width="0.8" height="0.8" fill="#3aa070"/>
<rect x="170.1" y="184.4" width="0.8" height="0.8" fill="#3aa070"/>
<rect x="178.7" y="183.3" width="0.8" height="0.8" fill="#3aa070"/>
<rect x="161.1" y="182.5" width="0.8" height="0.8" fill="#3aa070"/>
<rect x="160.5" y="184.3" width="0.8" height="0.8" fill="#3aa070"/>
<rect x="162.7" y="184.2" width="0.8" height="0.8" fill="#3aa070"/>
<rect x="174.8" y="182.9" width="0.8" height="0.8" fill="#3aa070"/>
<rect x="161.1" y="183.8" width="0.8" height="0.8" fill="#3aa070"/>
<rect x="163.0" y="183.8" width="0.8" height="0.8" fill="#30d050"/>
<rect x="175.5" y="183.2" width="0.8" height="0.8" fill="#30d050"/>
<rect x="161.8" y="184.0" width="0.8" height="0.8" fill="#30d050"/>
<rect x="168.5" y="183.0" width="0.8" height="0.8" fill="#30d050"/>
<rect x="161.0" y="183.7" width="0.8" height="0.8" fill="#30d050"/>
<rect x="162.0" y="183.6" width="0.8" height="0.8" fill="#30d050"/>
<rect x="163.9" y="183.0" width="0.8" height="0.8" fill="#30d050"/>
<rect x="163.1" y="183.3" width="0.8" height="0.8" fill="#30d050"/>
<rect x="160.6" y="183.8" width="0.8" height="0.8" fill="#30d050"/>
<rect x="170.6" y="183.2" width="0.8" height="0.8" fill="#30d050"/>
<rect x="170.4" y="191.5" width="0.8" height="0.8" fill="#a8aef4"/>
<rect x="162.2" y="191.1" width="0.8" height="0.8" fill="#a8aef4"/>
<rect x="183.0" y="195.0" width="0.8" height="0.8" fill="#a8aef4"/>
<rect x="173.0" y="195.7" width="0.8" height="0.8" fill="#a8aef4"/>
<rect x="152.1" y="194.0" width="0.8" height="0.8" fill="#a8aef4"/>
<rect x="173.1" y="191.3" width="0.8" height="0.8" fill="#a8aef4"/>
<rect x="157.4" y="194.6" width="0.8" height="0.8" fill="#a8aef4"/>
<rect x="164.4" y="196.5" width="0.8" height="0.8" fill="#a8aef4"/>
<rect x="162.8" y="192.6" width="0.8" height="0.8" fill="#a8aef4"/>
<rect x="175.8" y="196.3" width="0.8" height="0.8" fill="#a8aef4"/>
<rect x="176.3" y="191.4" width="0.8" height="0.8" fill="#a8aef4"/>
<rect x="185.3" y="188.7" width="0.8" height="0.8" fill="#a8aef4"/>
<rect x="161.5" y="192.1" width="0.8" height="0.8" fill="#a8aef4"/>
<rect x="178.3" y="193.9" width="0.8" height="0.8" fill="#a8aef4"/>
<rect x="183.8" y="195.4" width="0.8" height="0.8" fill="#a8aef4"/>
<rect x="173.5" y="188.9" width="0.8" height="0.8" fill="#a8aef4"/>
<rect x="164.1" y="192.5" width="0.8" height="0.8" fill="#a8aef4"/>
<rect x="157.2" y="189.2" width="0.8" height="0.8" fill="#a8aef4"/>
<rect x="156.3" y="190.5" width="0.8" height="0.8" fill="#a8aef4"/>
<rect x="174.3" y="194.1" width="0.8" height="0.8" fill="#a8aef4"/>
<rect x="168.9" y="194.1" width="0.8" height="0.8" fill="#a8aef4"/>
<rect x="159.6" y="191.0" width="0.8" height="0.8" fill="#a8aef4"/>
<rect x="162.3" y="188.5" width="0.8" height="0.8" fill="#a8aef4"/>
<rect x="162.8" y="188.6" width="0.8" height="0.8" fill="#a8aef4"/>
<rect x="166.0" y="195.2" width="0.8" height="0.8" fill="#a8aef4"/>
<rect x="169.1" y="192.3" width="0.8" height="0.8" fill="#a8aef4"/>
<rect x="170.6" y="191.3" width="0.8" height="0.8" fill="#a8aef4"/>
<rect x="158.8" y="184.8" width="0.8" height="0.8" fill="#a8aef4"/>
<rect x="177.2" y="193.3" width="0.8" height="0.8" fill="#a8aef4"/>
<rect x="162.3" y="191.8" width="0.8" height="0.8" fill="#a8aef4"/>
<rect x="168.2" y="189.5" width="0.8" height="0.8" fill="#a8aef4"/>
<rect x="154.0" y="189.5" width="0.8" height="0.8" fill="#a8aef4"/>
<rect x="173.5" y="188.6" width="0.8" height="0.8" fill="#a8aef4"/>
<rect x="154.3" y="192.1" width="0.8" height="0.8" fill="#a8aef4"/>
<rect x="183.4" y="188.6" width="0.8" height="0.8" fill="#a8aef4"/>
<rect x="176.2" y="192.8" width="0.8" height="0.8" fill="#a8aef4"/>
<rect x="170.0" y="197.6" width="0.8" height="0.8" fill="#a8aef4"/>
<rect x="158.4" y="191.7" width="0.8" height="0.8" fill="#a8aef4"/>
<rect x="163.5" y="194.3" width="0.8" height="0.8" fill="#a8aef4"/>
<rect x="167.3" y="193.1" width="0.8" height="0.8" fill="#a8aef4"/>
<rect x="173.2" y="191.2" width="0.8" height="0.8" fill="#a8aef4"/>
<rect x="167.7" y="189.9" width="0.8" height="0.8" fill="#a8aef4"/>
<rect x="177.9" y="195.3" width="0.8" height="0.8" fill="#a8aef4"/>
<rect x="181.6" y="186.3" width="0.8" height="0.8" fill="#a8aef4"/>
<rect x="159.9" y="191.9" width="0.8" height="0.8" fill="#a8aef4"/>
<rect x="175.6" y="190.5" width="0.8" height="0.8" fill="#a8aef4"/>
<rect x="158.4" y="199.6" width="0.8" height="0.8" fill="#a8aef4"/>
<rect x="166.1" y="192.5" width="0.8" height="0.8" fill="#a8aef4"/>
<rect x="158.7" y="199.6" width="0.8" height="0.8" fill="#a8aef4"/>
<rect x="170.7" y="191.0" width="0.8" height="0.8" fill="#a8aef4"/>
<rect x="164.2" y="192.1" width="0.8" height="0.8" fill="#a8aef4"/>
<rect x="170.4" y="192.7" width="0.8" height="0.8" fill="#a8aef4"/>
<rect x="160.0" y="197.7" width="0.8" height="0.8" fill="#a8aef4"/>
<rect x="158.3" y="197.3" width="0.8" height="0.8" fill="#a8aef4"/>
<rect x="173.1" y="186.8" width="0.8" height="0.8" fill="#a8aef4"/>
<rect x="175.3" y="193.5" width="0.8" height="0.8" fill="#a8aef4"/>
<rect x="159.6" y="200.2" width="0.8" height="0.8" fill="#a8aef4"/>
<rect x="177.7" y="183.8" width="0.8" height="0.8" fill="#a8aef4"/>
<rect x="175.5" y="189.7" width="0.8" height="0.8" fill="#a8aef4"/>
<rect x="152.2" y="194.7" width="0.8" height="0.8" fill="#a8aef4"/>
<rect x="154.9" y="190.7" width="0.8" height="0.8" fill="#a8aef4"/>
<rect x="166.9" y="190.6" width="0.8" height="0.8" fill="#a8aef4"/>
<rect x="157.0" y="182.8" width="0.8" height="0.8" fill="#a8aef4"/>
<rect x="164.5" y="196.7" width="0.8" height="0.8" fill="#a8aef4"/>
<rect x="177.0" y="198.0" width="0.8" height="0.8" fill="#a8aef4"/>
<rect x="169.8" y="193.1" width="0.8" height="0.8" fill="#a8aef4"/>
<rect x="159.4" y="181.9" width="0.8" height="0.8" fill="#a8aef4"/>
<rect x="159.2" y="188.7" width="0.8" height="0.8" fill="#a8aef4"/>
<rect x="157.4" y="192.0" width="0.8" height="0.8" fill="#a8aef4"/>
<rect x="168.1" y="195.4" width="0.8" height="0.8" fill="#b8bcf6"/>
<rect x="172.2" y="199.0" width="0.8" height="0.8" fill="#b8bcf6"/>
<rect x="172.4" y="202.1" width="0.8" height="0.8" fill="#b8bcf6"/>
<rect x="175.7" y="196.6" width="0.8" height="0.8" fill="#b8bcf6"/>
<rect x="159.2" y="198.3" width="0.8" height="0.8" fill="#b8bcf6"/>
<rect x="175.8" y="189.2" width="0.8" height="0.8" fill="#b8bcf6"/>
<rect x="172.1" y="196.0" width="0.8" height="0.8" fill="#b8bcf6"/>
<rect x="171.1" y="199.7" width="0.8" height="0.8" fill="#b8bcf6"/>
<rect x="161.7" y="194.7" width="0.8" height="0.8" fill="#b8bcf6"/>
<rect x="161.9" y="200.0" width="0.8" height="0.8" fill="#b8bcf6"/>
<rect x="154.6" y="198.2" width="0.8" height="0.8" fill="#b8bcf6"/>
<rect x="159.5" y="195.3" width="0.8" height="0.8" fill="#b8bcf6"/>
<rect x="154.5" y="191.4" width="0.8" height="0.8" fill="#b8bcf6"/>
<rect x="168.7" y="199.0" width="0.8" height="0.8" fill="#b8bcf6"/>
<rect x="161.1" y="197.1" width="0.8" height="0.8" fill="#b8bcf6"/>
<rect x="173.3" y="198.4" width="0.8" height="0.8" fill="#b8bcf6"/>
<rect x="168.1" y="197.5" width="0.8" height="0.8" fill="#b8bcf6"/>
<rect x="170.9" y="196.7" width="0.8" height="0.8" fill="#b8bcf6"/>
<rect x="155.6" y="200.7" width="0.8" height="0.8" fill="#b8bcf6"/>
<rect x="170.2" y="194.3" width="0.8" height="0.8" fill="#b8bcf6"/>
<rect x="166.7" y="198.8" width="0.8" height="0.8" fill="#b8bcf6"/>
<rect x="168.0" y="210.4" width="0.8" height="0.8" fill="#b8bcf6"/>
<rect x="166.9" y="198.0" width="0.8" height="0.8" fill="#b8bcf6"/>
<rect x="161.2" y="195.7" width="0.8" height="0.8" fill="#b8bcf6"/>
<rect x="169.3" y="221.6" width="0.8" height="0.8" fill="#a8aef4"/>
<rect x="171.7" y="230.8" width="0.8" height="0.8" fill="#a8aef4"/>
<rect x="172.1" y="222.8" width="0.8" height="0.8" fill="#a8aef4"/>
<rect x="161.0" y="236.0" width="0.8" height="0.8" fill="#a8aef4"/>
<rect x="165.8" y="228.0" width="0.8" height="0.8" fill="#a8aef4"/>
<rect x="177.8" y="228.9" width="0.8" height="0.8" fill="#a8aef4"/>
<rect x="172.6" y="229.8" width="0.8" height="0.8" fill="#a8aef4"/>
<rect x="154.0" y="226.9" width="0.8" height="0.8" fill="#a8aef4"/>
<rect x="176.5" y="220.5" width="0.8" height="0.8" fill="#a8aef4"/>
<rect x="157.7" y="231.3" width="0.8" height="0.8" fill="#a8aef4"/>
<rect x="168.6" y="230.4" width="0.8" height="0.8" fill="#a8aef4"/>
<rect x="154.4" y="227.7" width="0.8" height="0.8" fill="#a8aef4"/>
<rect x="163.0" y="232.5" width="0.8" height="0.8" fill="#a8aef4"/>
<rect x="186.4" y="225.5" width="0.8" height="0.8" fill="#a8aef4"/>
<rect x="178.8" y="222.5" width="0.8" height="0.8" fill="#a8aef4"/>
<rect x="168.3" y="230.2" width="0.8" height="0.8" fill="#a8aef4"/>
<rect x="165.2" y="235.5" width="0.8" height="0.8" fill="#a8aef4"/>
<rect x="174.0" y="220.3" width="0.8" height="0.8" fill="#a8aef4"/>
<rect x="159.0" y="224.4" width="0.8" height="0.8" fill="#a8aef4"/>
<rect x="152.2" y="234.6" width="0.8" height="0.8" fill="#a8aef4"/>
<rect x="167.4" y="224.5" width="0.8" height="0.8" fill="#a8aef4"/>
<rect x="171.0" y="225.6" width="0.8" height="0.8" fill="#a8aef4"/>
<rect x="182.3" y="236.0" width="0.8" height="0.8" fill="#a8aef4"/>
<rect x="177.6" y="231.4" width="0.8" height="0.8" fill="#a8aef4"/>
<rect x="179.3" y="230.6" width="0.8" height="0.8" fill="#a8aef4"/>
<rect x="170.3" y="234.3" width="0.8" height="0.8" fill="#a8aef4"/>
<rect x="173.4" y="231.5" width="0.8" height="0.8" fill="#a8aef4"/>
<rect x="171.3" y="234.5" width="0.8" height="0.8" fill="#a8aef4"/>
<rect x="158.5" y="223.6" width="0.8" height="0.8" fill="#a8aef4"/>
<rect x="174.3" y="224.2" width="0.8" height="0.8" fill="#a8aef4"/>
<rect x="161.8" y="223.2" width="0.8" height="0.8" fill="#a8aef4"/>
<rect x="174.9" y="219.8" width="0.8" height="0.8" fill="#a8aef4"/>
<rect x="176.0" y="234.0" width="0.8" height="0.8" fill="#a8aef4"/>
<rect x="153.7" y="230.6" width="0.8" height="0.8" fill="#a8aef4"/>
<rect x="177.5" y="220.8" width="0.8" height="0.8" fill="#a8aef4"/>
<rect x="175.1" y="225.7" width="0.8" height="0.8" fill="#a8aef4"/>
<rect x="175.8" y="232.6" width="0.8" height="0.8" fill="#a8aef4"/>
<rect x="175.1" y="212.5" width="0.8" height="0.8" fill="#a8aef4"/>
<rect x="176.9" y="238.1" width="0.8" height="0.8" fill="#a8aef4"/>
<rect x="167.3" y="220.0" width="0.8" height="0.8" fill="#a8aef4"/>
<rect x="159.8" y="236.4" width="0.8" height="0.8" fill="#a8aef4"/>
<rect x="176.0" y="224.1" width="0.8" height="0.8" fill="#a8aef4"/>
<rect x="166.2" y="214.6" width="0.8" height="0.8" fill="#a8aef4"/>
<rect x="161.4" y="219.4" width="0.8" height="0.8" fill="#a8aef4"/>
<rect x="172.6" y="226.3" width="0.8" height="0.8" fill="#a8aef4"/>
<rect x="178.9" y="229.1" width="0.8" height="0.8" fill="#a8aef4"/>
<rect x="169.6" y="231.4" width="0.8" height="0.8" fill="#a8aef4"/>
<rect x="183.6" y="225.6" width="0.8" height="0.8" fill="#a8aef4"/>
<rect x="172.2" y="224.9" width="0.8" height="0.8" fill="#a8aef4"/>
<rect x="163.7" y="222.6" width="0.8" height="0.8" fill="#a8aef4"/>
<rect x="166.5" y="220.4" width="0.8" height="0.8" fill="#a8aef4"/>
<rect x="168.8" y="225.6" width="0.8" height="0.8" fill="#a8aef4"/>
<rect x="173.7" y="233.3" width="0.8" height="0.8" fill="#a8aef4"/>
<rect x="188.1" y="225.2" width="0.8" height="0.8" fill="#a8aef4"/>
<rect x="169.7" y="231.0" width="0.8" height="0.8" fill="#a8aef4"/>
<rect x="165.8" y="234.1" width="0.8" height="0.8" fill="#a8aef4"/>
<rect x="177.2" y="227.9" width="0.8" height="0.8" fill="#a8aef4"/>
<rect x="181.4" y="223.9" width="0.8" height="0.8" fill="#a8aef4"/>
<rect x="168.9" y="225.4" width="0.8" height="0.8" fill="#a8aef4"/>
<rect x="169.1" y="220.0" width="0.8" height="0.8" fill="#a8aef4"/>
<rect x="170.0" y="233.4" width="0.8" height="0.8" fill="#a8aef4"/>
<rect x="175.5" y="233.8" width="0.8" height="0.8" fill="#a8aef4"/>
<rect x="175.3" y="233.0" width="0.8" height="0.8" fill="#a8aef4"/>
<rect x="162.4" y="225.8" width="0.8" height="0.8" fill="#a8aef4"/>
<rect x="189.1" y="227.5" width="0.8" height="0.8" fill="#a8aef4"/>
<rect x="166.9" y="230.9" width="0.8" height="0.8" fill="#a8aef4"/>
<rect x="163.1" y="235.2" width="0.8" height="0.8" fill="#a8aef4"/>
<rect x="191.1" y="218.4" width="0.8" height="0.8" fill="#a8aef4"/>
<rect x="165.0" y="234.8" width="0.8" height="0.8" fill="#a8aef4"/>
<rect x="182.8" y="232.1" width="0.8" height="0.8" fill="#a8aef4"/>
<rect x="173.3" y="227.3" width="0.8" height="0.8" fill="#a8aef4"/>
<rect x="172.1" y="224.6" width="0.8" height="0.8" fill="#a8aef4"/>
<rect x="167.5" y="225.1" width="0.8" height="0.8" fill="#a8aef4"/>
<rect x="184.4" y="216.8" width="0.8" height="0.8" fill="#a8aef4"/>
<rect x="179.5" y="219.2" width="0.8" height="0.8" fill="#a8aef4"/>
<rect x="158.4" y="215.6" width="0.8" height="0.8" fill="#a8aef4"/>
<rect x="163.3" y="230.5" width="0.8" height="0.8" fill="#a8aef4"/>
<rect x="167.0" y="227.8" width="0.8" height="0.8" fill="#a8aef4"/>
<rect x="162.8" y="228.8" width="0.8" height="0.8" fill="#a8aef4"/>
<rect x="157.5" y="229.4" width="0.8" height="0.8" fill="#a8aef4"/>
<rect x="166.9" y="221.2" width="0.8" height="0.8" fill="#a8aef4"/>
<rect x="181.5" y="237.1" width="0.8" height="0.8" fill="#a8aef4"/>
<rect x="166.4" y="235.9" width="0.8" height="0.8" fill="#a8aef4"/>
<rect x="174.3" y="234.1" width="0.8" height="0.8" fill="#a8aef4"/>
<rect x="177.7" y="229.0" width="0.8" height="0.8" fill="#a8aef4"/>
<rect x="166.8" y="236.0" width="0.8" height="0.8" fill="#a8aef4"/>
<rect x="164.9" y="227.9" width="0.8" height="0.8" fill="#a8aef4"/>
<rect x="176.9" y="217.2" width="0.8" height="0.8" fill="#a8aef4"/>
<rect x="176.6" y="225.4" width="0.8" height="0.8" fill="#a8aef4"/>
<rect x="168.8" y="230.9" width="0.8" height="0.8" fill="#a8aef4"/>
<rect x="171.6" y="229.2" width="0.8" height="0.8" fill="#a8aef4"/>
<rect x="165.5" y="223.3" width="0.8" height="0.8" fill="#a8aef4"/>
<rect x="168.5" y="225.7" width="0.8" height="0.8" fill="#a8aef4"/>
<rect x="162.9" y="235.6" width="0.8" height="0.8" fill="#a8aef4"/>
<rect x="185.5" y="219.1" width="0.8" height="0.8" fill="#a8aef4"/>
<rect x="167.7" y="233.2" width="0.8" height="0.8" fill="#a8aef4"/>
<rect x="150.5" y="233.5" width="0.8" height="0.8" fill="#a8aef4"/>
<rect x="171.7" y="232.1" width="0.8" height="0.8" fill="#a8aef4"/>
<rect x="179.6" y="235.5" width="0.8" height="0.8" fill="#a8aef4"/>
<rect x="159.4" y="231.7" width="0.8" height="0.8" fill="#a8aef4"/>
<rect x="172.3" y="231.8" width="0.8" height="0.8" fill="#a8aef4"/>
<rect x="158.7" y="222.7" width="0.8" height="0.8" fill="#a8aef4"/>
<rect x="177.4" y="234.3" width="0.8" height="0.8" fill="#a8aef4"/>
<rect x="185.6" y="218.4" width="0.8" height="0.8" fill="#a8aef4"/>
<rect x="182.3" y="226.2" width="0.8" height="0.8" fill="#a8aef4"/>
<rect x="168.7" y="226.0" width="0.8" height="0.8" fill="#a8aef4"/>
<rect x="149.50" y="163.20" width="76.20" height="75.80" fill="none" stroke="#666" stroke-width="0.8"/>
<line x1="187.40" y1="163.20" x2="187.40" y2="239.00" stroke="#555" stroke-width="1.1"/>
<line x1="149.50" y1="207.80" x2="225.70" y2="207.80" stroke="#666" stroke-width="1.3"/>
<text font-size="7.07" transform="translate(151.50 169.60) scale(1 0.93)">Q1</text>
<text font-size="7.07" textLength="12.11" lengthAdjust="spacingAndGlyphs" transform="translate(151.50 177.00) scale(1 0.93)">91.8</text>
<text font-size="7.07" text-anchor="end" transform="translate(224.20 169.60) scale(1 0.93)">Q2</text>
<text font-size="7.07" text-anchor="end" textLength="15.57" lengthAdjust="spacingAndGlyphs" transform="translate(224.20 177.00) scale(1 0.93)">0.049</text>
<text font-size="7.07" transform="translate(151.50 228.80) scale(1 0.93)">Q4</text>
<text font-size="7.07" textLength="12.11" lengthAdjust="spacingAndGlyphs" transform="translate(151.50 236.30) scale(1 0.93)">8.01</text>
<text font-size="7.07" text-anchor="end" transform="translate(224.20 231.00) scale(1 0.93)">Q3</text>
<text font-size="7.07" text-anchor="end" textLength="15.57" lengthAdjust="spacingAndGlyphs" transform="translate(224.20 238.20) scale(1 0.93)">0.098</text>
<line x1="147.30" y1="171.00" x2="149.50" y2="171.00" stroke="#111" stroke-width="1.0"/>
<line x1="147.30" y1="188.30" x2="149.50" y2="188.30" stroke="#111" stroke-width="1.0"/>
<line x1="147.30" y1="207.60" x2="149.50" y2="207.60" stroke="#111" stroke-width="1.0"/>
<line x1="147.30" y1="227.50" x2="149.50" y2="227.50" stroke="#111" stroke-width="1.0"/>
<line x1="148.10" y1="173.47" x2="149.50" y2="173.47" stroke="#222" stroke-width="0.8"/>
<line x1="148.10" y1="175.94" x2="149.50" y2="175.94" stroke="#222" stroke-width="0.8"/>
<line x1="148.10" y1="178.41" x2="149.50" y2="178.41" stroke="#222" stroke-width="0.8"/>
<line x1="148.10" y1="180.89" x2="149.50" y2="180.89" stroke="#222" stroke-width="0.8"/>
<line x1="148.10" y1="183.36" x2="149.50" y2="183.36" stroke="#222" stroke-width="0.8"/>
<line x1="148.10" y1="185.83" x2="149.50" y2="185.83" stroke="#222" stroke-width="0.8"/>
<line x1="148.10" y1="190.71" x2="149.50" y2="190.71" stroke="#222" stroke-width="0.8"/>
<line x1="148.10" y1="193.12" x2="149.50" y2="193.12" stroke="#222" stroke-width="0.8"/>
<line x1="148.10" y1="195.54" x2="149.50" y2="195.54" stroke="#222" stroke-width="0.8"/>
<line x1="148.10" y1="197.95" x2="149.50" y2="197.95" stroke="#222" stroke-width="0.8"/>
<line x1="148.10" y1="200.36" x2="149.50" y2="200.36" stroke="#222" stroke-width="0.8"/>
<line x1="148.10" y1="202.78" x2="149.50" y2="202.78" stroke="#222" stroke-width="0.8"/>
<line x1="148.10" y1="205.19" x2="149.50" y2="205.19" stroke="#222" stroke-width="0.8"/>
<line x1="148.10" y1="210.20" x2="149.50" y2="210.20" stroke="#222" stroke-width="0.8"/>
<line x1="148.10" y1="212.80" x2="149.50" y2="212.80" stroke="#222" stroke-width="0.8"/>
<line x1="148.10" y1="215.40" x2="149.50" y2="215.40" stroke="#222" stroke-width="0.8"/>
<line x1="148.10" y1="218.00" x2="149.50" y2="218.00" stroke="#222" stroke-width="0.8"/>
<line x1="148.10" y1="220.40" x2="149.50" y2="220.40" stroke="#222" stroke-width="0.8"/>
<line x1="148.10" y1="222.60" x2="149.50" y2="222.60" stroke="#222" stroke-width="0.8"/>
<line x1="148.10" y1="224.00" x2="149.50" y2="224.00" stroke="#222" stroke-width="0.8"/>
<line x1="148.10" y1="225.20" x2="149.50" y2="225.20" stroke="#222" stroke-width="0.8"/>
<line x1="148.10" y1="226.40" x2="149.50" y2="226.40" stroke="#222" stroke-width="0.8"/>
<line x1="148.10" y1="228.60" x2="149.50" y2="228.60" stroke="#222" stroke-width="0.8"/>
<line x1="148.10" y1="229.80" x2="149.50" y2="229.80" stroke="#222" stroke-width="0.8"/>
<line x1="148.10" y1="231.00" x2="149.50" y2="231.00" stroke="#222" stroke-width="0.8"/>
<line x1="148.10" y1="232.40" x2="149.50" y2="232.40" stroke="#222" stroke-width="0.8"/>
<line x1="148.10" y1="234.60" x2="149.50" y2="234.60" stroke="#222" stroke-width="0.8"/>
<line x1="148.10" y1="237.00" x2="149.50" y2="237.00" stroke="#222" stroke-width="0.8"/>
<line x1="164.30" y1="239.00" x2="164.30" y2="241.40" stroke="#111" stroke-width="1.0"/>
<line x1="181.40" y1="239.00" x2="181.40" y2="241.40" stroke="#111" stroke-width="1.0"/>
<line x1="201.10" y1="239.00" x2="201.10" y2="241.40" stroke="#111" stroke-width="1.0"/>
<line x1="219.30" y1="239.00" x2="219.30" y2="241.40" stroke="#111" stroke-width="1.0"/>
<line x1="151.50" y1="239.00" x2="151.50" y2="240.80" stroke="#000" stroke-width="0.8"/>
<line x1="153.50" y1="239.00" x2="153.50" y2="240.80" stroke="#000" stroke-width="0.8"/>
<line x1="155.50" y1="239.00" x2="155.50" y2="240.80" stroke="#000" stroke-width="0.8"/>
<line x1="157.50" y1="239.00" x2="157.50" y2="240.80" stroke="#000" stroke-width="0.8"/>
<line x1="159.50" y1="239.00" x2="159.50" y2="240.80" stroke="#000" stroke-width="0.8"/>
<line x1="161.00" y1="239.00" x2="161.00" y2="240.80" stroke="#000" stroke-width="0.8"/>
<line x1="162.30" y1="239.00" x2="162.30" y2="240.80" stroke="#000" stroke-width="0.8"/>
<line x1="163.30" y1="239.00" x2="163.30" y2="240.80" stroke="#000" stroke-width="0.8"/>
<line x1="165.30" y1="239.00" x2="165.30" y2="240.80" stroke="#000" stroke-width="0.8"/>
<line x1="166.30" y1="239.00" x2="166.30" y2="240.80" stroke="#000" stroke-width="0.8"/>
<line x1="167.50" y1="239.00" x2="167.50" y2="240.80" stroke="#000" stroke-width="0.8"/>
<line x1="169.00" y1="239.00" x2="169.00" y2="240.80" stroke="#000" stroke-width="0.8"/>
<line x1="171.00" y1="239.00" x2="171.00" y2="240.80" stroke="#000" stroke-width="0.8"/>
<line x1="173.50" y1="239.00" x2="173.50" y2="240.80" stroke="#000" stroke-width="0.8"/>
<line x1="176.50" y1="239.00" x2="176.50" y2="240.80" stroke="#000" stroke-width="0.8"/>
<line x1="178.50" y1="239.00" x2="178.50" y2="240.80" stroke="#000" stroke-width="0.8"/>
<line x1="180.00" y1="239.00" x2="180.00" y2="240.80" stroke="#000" stroke-width="0.8"/>
<line x1="180.70" y1="239.00" x2="180.70" y2="240.80" stroke="#000" stroke-width="0.8"/>
<line x1="189.00" y1="239.00" x2="189.00" y2="240.80" stroke="#000" stroke-width="0.8"/>
<line x1="192.50" y1="239.00" x2="192.50" y2="240.80" stroke="#000" stroke-width="0.8"/>
<line x1="195.00" y1="239.00" x2="195.00" y2="240.80" stroke="#000" stroke-width="0.8"/>
<line x1="196.80" y1="239.00" x2="196.80" y2="240.80" stroke="#000" stroke-width="0.8"/>
<line x1="198.20" y1="239.00" x2="198.20" y2="240.80" stroke="#000" stroke-width="0.8"/>
<line x1="199.30" y1="239.00" x2="199.30" y2="240.80" stroke="#000" stroke-width="0.8"/>
<line x1="200.30" y1="239.00" x2="200.30" y2="240.80" stroke="#000" stroke-width="0.8"/>
<line x1="207.00" y1="239.00" x2="207.00" y2="240.80" stroke="#000" stroke-width="0.8"/>
<line x1="210.50" y1="239.00" x2="210.50" y2="240.80" stroke="#000" stroke-width="0.8"/>
<line x1="213.00" y1="239.00" x2="213.00" y2="240.80" stroke="#000" stroke-width="0.8"/>
<line x1="214.80" y1="239.00" x2="214.80" y2="240.80" stroke="#000" stroke-width="0.8"/>
<line x1="216.20" y1="239.00" x2="216.20" y2="240.80" stroke="#000" stroke-width="0.8"/>
<line x1="217.30" y1="239.00" x2="217.30" y2="240.80" stroke="#000" stroke-width="0.8"/>
<line x1="218.40" y1="239.00" x2="218.40" y2="240.80" stroke="#000" stroke-width="0.8"/>
<text font-size="7.0" text-anchor="end" transform="translate(140.30 172.90) scale(1 1.17)">10</text>
<text font-size="4.8" transform="translate(140.50 169.70) scale(1 1.17)">5</text>
<text font-size="7.0" text-anchor="end" transform="translate(140.30 190.00) scale(1 1.17)">10</text>
<text font-size="4.8" transform="translate(140.50 186.80) scale(1 1.17)">4</text>
<text font-size="7.0" text-anchor="end" transform="translate(140.30 208.50) scale(1 1.17)">10</text>
<text font-size="4.8" transform="translate(140.50 205.30) scale(1 1.17)">3</text>
<text font-size="7.0" text-anchor="end" transform="translate(140.00 230.20) scale(1 1.17)">0</text>
<text font-size="7.0" text-anchor="middle" transform="translate(164.30 251.20) scale(1 1.17)">0</text>
<text font-size="7.0" text-anchor="middle" transform="translate(180.80 251.20) scale(1 1.17)">10</text>
<text font-size="4.8" transform="translate(184.90 248.00) scale(1 1.17)">3</text>
<text font-size="7.0" text-anchor="middle" transform="translate(200.50 251.20) scale(1 1.17)">10</text>
<text font-size="4.8" transform="translate(204.60 248.00) scale(1 1.17)">4</text>
<text font-size="7.0" text-anchor="middle" transform="translate(218.70 251.20) scale(1 1.17)">10</text>
<text font-size="4.8" transform="translate(222.80 248.00) scale(1 1.17)">5</text>
<text font-size="7.9" text-anchor="middle" textLength="79.80000000000001" lengthAdjust="spacingAndGlyphs" transform="translate(293.90 156.80)">Anti-CD8 (clone 2.43)</text>
<rect x="301.5" y="231.4" width="0.8" height="0.8" fill="#5a62da"/>
<rect x="298.7" y="229.8" width="0.8" height="0.8" fill="#5a62da"/>
<rect x="300.6" y="225.3" width="0.8" height="0.8" fill="#5a62da"/>
<rect x="302.0" y="224.8" width="0.8" height="0.8" fill="#5a62da"/>
<rect x="299.4" y="227.6" width="0.8" height="0.8" fill="#5a62da"/>
<rect x="300.5" y="225.1" width="0.8" height="0.8" fill="#5a62da"/>
<rect x="299.4" y="231.5" width="0.8" height="0.8" fill="#5a62da"/>
<rect x="300.6" y="228.8" width="0.8" height="0.8" fill="#5a62da"/>
<rect x="300.2" y="230.9" width="0.8" height="0.8" fill="#5a62da"/>
<rect x="302.7" y="227.4" width="0.8" height="0.8" fill="#5a62da"/>
<rect x="301.9" y="225.1" width="0.8" height="0.8" fill="#5a62da"/>
<rect x="300.3" y="224.0" width="0.8" height="0.8" fill="#5a62da"/>
<rect x="299.3" y="238.0" width="0.8" height="0.8" fill="#5a62da"/>
<rect x="298.6" y="232.1" width="0.8" height="0.8" fill="#5a62da"/>
<rect x="300.8" y="228.7" width="0.8" height="0.8" fill="#5a62da"/>
<rect x="296.3" y="228.5" width="0.8" height="0.8" fill="#5a62da"/>
<rect x="297.5" y="225.7" width="0.8" height="0.8" fill="#5a62da"/>
<rect x="298.9" y="226.6" width="0.8" height="0.8" fill="#5a62da"/>
<rect x="303.8" y="233.4" width="0.8" height="0.8" fill="#5a62da"/>
<rect x="296.9" y="226.6" width="0.8" height="0.8" fill="#5a62da"/>
<rect x="298.8" y="228.3" width="0.8" height="0.8" fill="#5a62da"/>
<rect x="297.0" y="223.0" width="0.8" height="0.8" fill="#5a62da"/>
<rect x="300.1" y="225.3" width="0.8" height="0.8" fill="#5a62da"/>
<rect x="302.3" y="226.8" width="0.8" height="0.8" fill="#5a62da"/>
<rect x="300.7" y="226.2" width="0.8" height="0.8" fill="#5a62da"/>
<rect x="301.8" y="231.7" width="0.8" height="0.8" fill="#5a62da"/>
<rect x="300.1" y="226.1" width="0.8" height="0.8" fill="#5a62da"/>
<rect x="301.4" y="228.1" width="0.8" height="0.8" fill="#5a62da"/>
<rect x="302.1" y="228.1" width="0.8" height="0.8" fill="#5a62da"/>
<rect x="300.5" y="230.4" width="0.8" height="0.8" fill="#5a62da"/>
<rect x="298.7" y="223.6" width="0.8" height="0.8" fill="#5a62da"/>
<rect x="301.2" y="227.1" width="0.8" height="0.8" fill="#5a62da"/>
<rect x="301.5" y="230.4" width="0.8" height="0.8" fill="#5a62da"/>
<rect x="301.0" y="225.8" width="0.8" height="0.8" fill="#5a62da"/>
<rect x="303.3" y="220.2" width="0.8" height="0.8" fill="#5a62da"/>
<rect x="298.8" y="223.7" width="0.8" height="0.8" fill="#5a62da"/>
<rect x="304.1" y="226.6" width="0.8" height="0.8" fill="#5a62da"/>
<rect x="299.9" y="229.7" width="0.8" height="0.8" fill="#5a62da"/>
<rect x="302.7" y="231.0" width="0.8" height="0.8" fill="#5a62da"/>
<rect x="300.2" y="228.3" width="0.8" height="0.8" fill="#5a62da"/>
<rect x="298.2" y="228.7" width="0.8" height="0.8" fill="#5a62da"/>
<rect x="299.7" y="220.6" width="0.8" height="0.8" fill="#5a62da"/>
<rect x="300.7" y="227.4" width="0.8" height="0.8" fill="#5a62da"/>
<rect x="301.8" y="229.8" width="0.8" height="0.8" fill="#5a62da"/>
<rect x="300.5" y="227.2" width="0.8" height="0.8" fill="#5a62da"/>
<rect x="303.4" y="228.5" width="0.8" height="0.8" fill="#5a62da"/>
<rect x="302.3" y="229.2" width="0.8" height="0.8" fill="#5a62da"/>
<rect x="302.9" y="231.0" width="0.8" height="0.8" fill="#5a62da"/>
<rect x="298.1" y="229.6" width="0.8" height="0.8" fill="#5a62da"/>
<rect x="303.4" y="232.3" width="0.8" height="0.8" fill="#5a62da"/>
<rect x="299.7" y="233.2" width="0.8" height="0.8" fill="#5a62da"/>
<rect x="302.0" y="230.0" width="0.8" height="0.8" fill="#5a62da"/>
<rect x="299.0" y="229.2" width="0.8" height="0.8" fill="#5a62da"/>
<rect x="301.3" y="221.0" width="0.8" height="0.8" fill="#5a62da"/>
<rect x="299.4" y="222.9" width="0.8" height="0.8" fill="#5a62da"/>
<rect x="296.8" y="228.5" width="0.8" height="0.8" fill="#5a62da"/>
<rect x="302.0" y="227.8" width="0.8" height="0.8" fill="#5a62da"/>
<rect x="297.4" y="223.6" width="0.8" height="0.8" fill="#5a62da"/>
<rect x="302.0" y="227.2" width="0.8" height="0.8" fill="#5a62da"/>
<rect x="300.9" y="226.9" width="0.8" height="0.8" fill="#5a62da"/>
<rect x="300.6" y="225.6" width="0.8" height="0.8" fill="#5a62da"/>
<rect x="299.0" y="223.2" width="0.8" height="0.8" fill="#5a62da"/>
<rect x="300.4" y="227.6" width="0.8" height="0.8" fill="#5a62da"/>
<rect x="302.5" y="235.5" width="0.8" height="0.8" fill="#5a62da"/>
<rect x="300.7" y="218.5" width="0.8" height="0.8" fill="#5a62da"/>
<rect x="298.0" y="232.2" width="0.8" height="0.8" fill="#5a62da"/>
<rect x="301.3" y="227.3" width="0.8" height="0.8" fill="#5a62da"/>
<rect x="298.5" y="229.4" width="0.8" height="0.8" fill="#5a62da"/>
<rect x="300.9" y="231.4" width="0.8" height="0.8" fill="#5a62da"/>
<rect x="303.0" y="233.1" width="0.8" height="0.8" fill="#5a62da"/>
<rect x="302.3" y="224.1" width="0.8" height="0.8" fill="#5a62da"/>
<rect x="301.5" y="224.1" width="0.8" height="0.8" fill="#5a62da"/>
<rect x="299.0" y="225.3" width="0.8" height="0.8" fill="#5a62da"/>
<rect x="298.0" y="225.1" width="0.8" height="0.8" fill="#5a62da"/>
<rect x="303.2" y="227.5" width="0.8" height="0.8" fill="#5a62da"/>
<rect x="303.4" y="228.3" width="0.8" height="0.8" fill="#5a62da"/>
<rect x="296.9" y="225.7" width="0.8" height="0.8" fill="#5a62da"/>
<rect x="303.5" y="231.5" width="0.8" height="0.8" fill="#5a62da"/>
<rect x="300.0" y="227.1" width="0.8" height="0.8" fill="#5a62da"/>
<rect x="302.7" y="229.5" width="0.8" height="0.8" fill="#5a62da"/>
<rect x="299.9" y="231.7" width="0.8" height="0.8" fill="#5a62da"/>
<rect x="300.4" y="224.5" width="0.8" height="0.8" fill="#5a62da"/>
<rect x="297.4" y="221.1" width="0.8" height="0.8" fill="#5a62da"/>
<rect x="304.9" y="228.6" width="0.8" height="0.8" fill="#5a62da"/>
<rect x="303.6" y="228.5" width="0.8" height="0.8" fill="#5a62da"/>
<rect x="300.6" y="228.6" width="0.8" height="0.8" fill="#5a62da"/>
<rect x="300.8" y="223.5" width="0.8" height="0.8" fill="#5a62da"/>
<rect x="300.3" y="231.1" width="0.8" height="0.8" fill="#5a62da"/>
<rect x="304.6" y="226.5" width="0.8" height="0.8" fill="#5a62da"/>
<rect x="301.2" y="230.2" width="0.8" height="0.8" fill="#5a62da"/>
<rect x="303.2" y="229.6" width="0.8" height="0.8" fill="#5a62da"/>
<rect x="299.7" y="233.6" width="0.8" height="0.8" fill="#5a62da"/>
<rect x="300.9" y="228.2" width="0.8" height="0.8" fill="#5a62da"/>
<rect x="306.0" y="223.0" width="0.8" height="0.8" fill="#5a62da"/>
<rect x="300.3" y="224.4" width="0.8" height="0.8" fill="#5a62da"/>
<rect x="303.3" y="224.9" width="0.8" height="0.8" fill="#5a62da"/>
<rect x="300.7" y="229.1" width="0.8" height="0.8" fill="#5a62da"/>
<rect x="299.8" y="227.7" width="0.8" height="0.8" fill="#5a62da"/>
<rect x="299.6" y="225.7" width="0.8" height="0.8" fill="#5a62da"/>
<rect x="298.7" y="228.6" width="0.8" height="0.8" fill="#5a62da"/>
<rect x="299.8" y="224.6" width="0.8" height="0.8" fill="#5a62da"/>
<rect x="299.5" y="235.0" width="0.8" height="0.8" fill="#5a62da"/>
<rect x="298.0" y="226.1" width="0.8" height="0.8" fill="#5a62da"/>
<rect x="299.3" y="227.8" width="0.8" height="0.8" fill="#5a62da"/>
<rect x="301.9" y="225.5" width="0.8" height="0.8" fill="#5a62da"/>
<rect x="300.9" y="229.5" width="0.8" height="0.8" fill="#5a62da"/>
<rect x="303.5" y="226.0" width="0.8" height="0.8" fill="#5a62da"/>
<rect x="299.0" y="230.2" width="0.8" height="0.8" fill="#5a62da"/>
<rect x="300.3" y="226.0" width="0.8" height="0.8" fill="#5a62da"/>
<rect x="299.8" y="232.3" width="0.8" height="0.8" fill="#5a62da"/>
<rect x="297.2" y="227.2" width="0.8" height="0.8" fill="#5a62da"/>
<rect x="303.6" y="229.0" width="0.8" height="0.8" fill="#5a62da"/>
<rect x="298.8" y="225.9" width="0.8" height="0.8" fill="#5a62da"/>
<rect x="302.3" y="229.4" width="0.8" height="0.8" fill="#5a62da"/>
<rect x="299.5" y="225.9" width="0.8" height="0.8" fill="#5a62da"/>
<rect x="297.8" y="223.5" width="0.8" height="0.8" fill="#5a62da"/>
<rect x="301.1" y="229.5" width="0.8" height="0.8" fill="#5a62da"/>
<rect x="299.4" y="230.2" width="0.8" height="0.8" fill="#5a62da"/>
<rect x="299.0" y="229.1" width="0.8" height="0.8" fill="#5a62da"/>
<rect x="296.4" y="230.6" width="0.8" height="0.8" fill="#5a62da"/>
<rect x="303.9" y="230.7" width="0.8" height="0.8" fill="#5a62da"/>
<rect x="300.2" y="229.4" width="0.8" height="0.8" fill="#5a62da"/>
<rect x="300.4" y="228.3" width="0.8" height="0.8" fill="#5a62da"/>
<rect x="300.3" y="229.5" width="0.8" height="0.8" fill="#5a62da"/>
<rect x="299.7" y="227.7" width="0.8" height="0.8" fill="#5a62da"/>
<rect x="299.4" y="230.3" width="0.8" height="0.8" fill="#5a62da"/>
<rect x="302.9" y="230.4" width="0.8" height="0.8" fill="#5a62da"/>
<rect x="301.3" y="232.5" width="0.8" height="0.8" fill="#5a62da"/>
<rect x="298.7" y="234.8" width="0.8" height="0.8" fill="#5a62da"/>
<rect x="296.5" y="230.2" width="0.8" height="0.8" fill="#5a62da"/>
<rect x="300.6" y="229.2" width="0.8" height="0.8" fill="#5a62da"/>
<rect x="297.3" y="231.7" width="0.8" height="0.8" fill="#5a62da"/>
<rect x="300.9" y="228.2" width="0.8" height="0.8" fill="#5a62da"/>
<rect x="302.4" y="228.3" width="0.8" height="0.8" fill="#5a62da"/>
<rect x="300.5" y="230.8" width="0.8" height="0.8" fill="#5a62da"/>
<rect x="300.2" y="229.0" width="0.8" height="0.8" fill="#5a62da"/>
<rect x="299.6" y="226.0" width="0.8" height="0.8" fill="#5a62da"/>
<rect x="300.4" y="225.9" width="0.8" height="0.8" fill="#5a62da"/>
<rect x="300.8" y="227.0" width="0.8" height="0.8" fill="#5a62da"/>
<rect x="299.3" y="227.5" width="0.8" height="0.8" fill="#5a62da"/>
<rect x="297.9" y="230.2" width="0.8" height="0.8" fill="#5a62da"/>
<rect x="301.5" y="220.2" width="0.8" height="0.8" fill="#5a62da"/>
<rect x="300.4" y="226.4" width="0.8" height="0.8" fill="#5a62da"/>
<rect x="301.4" y="234.7" width="0.8" height="0.8" fill="#5a62da"/>
<rect x="299.5" y="227.5" width="0.8" height="0.8" fill="#5a62da"/>
<rect x="298.7" y="229.0" width="0.8" height="0.8" fill="#5a62da"/>
<rect x="301.7" y="228.7" width="0.8" height="0.8" fill="#5a62da"/>
<rect x="300.5" y="224.3" width="0.8" height="0.8" fill="#5a62da"/>
<rect x="300.2" y="224.8" width="0.8" height="0.8" fill="#5a62da"/>
<rect x="299.6" y="233.0" width="0.8" height="0.8" fill="#5a62da"/>
<rect x="300.5" y="225.4" width="0.8" height="0.8" fill="#5a62da"/>
<rect x="298.2" y="222.8" width="0.8" height="0.8" fill="#5a62da"/>
<rect x="299.4" y="234.7" width="0.8" height="0.8" fill="#5a62da"/>
<rect x="299.8" y="227.1" width="0.8" height="0.8" fill="#5a62da"/>
<rect x="298.3" y="226.3" width="0.8" height="0.8" fill="#5a62da"/>
<rect x="302.2" y="231.1" width="0.8" height="0.8" fill="#5a62da"/>
<rect x="300.0" y="225.2" width="0.8" height="0.8" fill="#5a62da"/>
<rect x="301.7" y="235.4" width="0.8" height="0.8" fill="#5a62da"/>
<rect x="305.9" y="232.4" width="0.8" height="0.8" fill="#5a62da"/>
<rect x="300.4" y="230.1" width="0.8" height="0.8" fill="#5a62da"/>
<rect x="299.6" y="225.3" width="0.8" height="0.8" fill="#5a62da"/>
<rect x="299.1" y="227.9" width="0.8" height="0.8" fill="#5a62da"/>
<rect x="301.6" y="232.7" width="0.8" height="0.8" fill="#5a62da"/>
<rect x="302.9" y="229.4" width="0.8" height="0.8" fill="#5a62da"/>
<rect x="296.0" y="232.8" width="0.8" height="0.8" fill="#5a62da"/>
<rect x="301.2" y="225.6" width="0.8" height="0.8" fill="#5a62da"/>
<rect x="302.9" y="225.0" width="0.8" height="0.8" fill="#5a62da"/>
<rect x="299.8" y="227.9" width="0.8" height="0.8" fill="#5a62da"/>
<rect x="300.3" y="227.6" width="0.8" height="0.8" fill="#5a62da"/>
<rect x="296.4" y="223.3" width="0.8" height="0.8" fill="#5a62da"/>
<rect x="300.1" y="230.3" width="0.8" height="0.8" fill="#5a62da"/>
<rect x="300.3" y="223.9" width="0.8" height="0.8" fill="#5a62da"/>
<rect x="297.9" y="223.9" width="0.8" height="0.8" fill="#5a62da"/>
<rect x="302.5" y="224.5" width="0.8" height="0.8" fill="#5a62da"/>
<rect x="301.8" y="223.9" width="0.8" height="0.8" fill="#5a62da"/>
<rect x="298.3" y="225.7" width="0.8" height="0.8" fill="#5a62da"/>
<rect x="302.8" y="225.5" width="0.8" height="0.8" fill="#5a62da"/>
<rect x="299.9" y="225.8" width="0.8" height="0.8" fill="#5a62da"/>
<rect x="299.3" y="231.0" width="0.8" height="0.8" fill="#5a62da"/>
<rect x="299.1" y="227.1" width="0.8" height="0.8" fill="#5a62da"/>
<rect x="297.9" y="225.4" width="0.8" height="0.8" fill="#5a62da"/>
<rect x="300.5" y="232.7" width="0.8" height="0.8" fill="#5a62da"/>
<rect x="303.9" y="223.7" width="0.8" height="0.8" fill="#5a62da"/>
<rect x="299.9" y="221.7" width="0.8" height="0.8" fill="#5a62da"/>
<rect x="299.7" y="227.9" width="0.8" height="0.8" fill="#5a62da"/>
<rect x="301.5" y="229.4" width="0.8" height="0.8" fill="#5a62da"/>
<rect x="298.3" y="223.8" width="0.8" height="0.8" fill="#5a62da"/>
<rect x="297.4" y="233.2" width="0.8" height="0.8" fill="#5a62da"/>
<rect x="297.8" y="231.0" width="0.8" height="0.8" fill="#5a62da"/>
<rect x="300.8" y="230.9" width="0.8" height="0.8" fill="#5a62da"/>
<rect x="298.7" y="228.6" width="0.8" height="0.8" fill="#3a3cc0"/>
<rect x="300.7" y="227.8" width="0.8" height="0.8" fill="#3a3cc0"/>
<rect x="300.8" y="225.6" width="0.8" height="0.8" fill="#3a3cc0"/>
<rect x="301.7" y="225.6" width="0.8" height="0.8" fill="#3a3cc0"/>
<rect x="300.2" y="229.5" width="0.8" height="0.8" fill="#3a3cc0"/>
<rect x="300.8" y="230.9" width="0.8" height="0.8" fill="#3a3cc0"/>
<rect x="300.3" y="225.6" width="0.8" height="0.8" fill="#3a3cc0"/>
<rect x="300.7" y="228.8" width="0.8" height="0.8" fill="#3a3cc0"/>
<rect x="298.7" y="229.6" width="0.8" height="0.8" fill="#3a3cc0"/>
<rect x="301.5" y="226.2" width="0.8" height="0.8" fill="#3a3cc0"/>
<rect x="301.2" y="227.9" width="0.8" height="0.8" fill="#3a3cc0"/>
<rect x="301.3" y="226.7" width="0.8" height="0.8" fill="#3a3cc0"/>
<rect x="301.1" y="229.1" width="0.8" height="0.8" fill="#3a3cc0"/>
<rect x="300.4" y="227.2" width="0.8" height="0.8" fill="#3a3cc0"/>
<rect x="300.2" y="229.2" width="0.8" height="0.8" fill="#3a3cc0"/>
<rect x="301.7" y="227.5" width="0.8" height="0.8" fill="#3a3cc0"/>
<rect x="301.2" y="228.0" width="0.8" height="0.8" fill="#3a3cc0"/>
<rect x="302.2" y="230.2" width="0.8" height="0.8" fill="#3a3cc0"/>
<rect x="301.1" y="228.6" width="0.8" height="0.8" fill="#3a3cc0"/>
<rect x="299.8" y="224.7" width="0.8" height="0.8" fill="#3a3cc0"/>
<rect x="301.1" y="226.4" width="0.8" height="0.8" fill="#3a3cc0"/>
<rect x="299.6" y="229.9" width="0.8" height="0.8" fill="#3a3cc0"/>
<rect x="300.6" y="225.7" width="0.8" height="0.8" fill="#3a3cc0"/>
<rect x="301.5" y="227.2" width="0.8" height="0.8" fill="#3a3cc0"/>
<rect x="301.3" y="225.6" width="0.8" height="0.8" fill="#3a3cc0"/>
<rect x="298.8" y="226.6" width="0.8" height="0.8" fill="#3a3cc0"/>
<rect x="301.1" y="223.8" width="0.8" height="0.8" fill="#3a3cc0"/>
<rect x="299.2" y="229.7" width="0.8" height="0.8" fill="#3a3cc0"/>
<rect x="302.8" y="227.3" width="0.8" height="0.8" fill="#3a3cc0"/>
<rect x="299.4" y="226.9" width="0.8" height="0.8" fill="#3a3cc0"/>
<rect x="299.5" y="230.8" width="0.8" height="0.8" fill="#3a3cc0"/>
<rect x="301.0" y="226.0" width="0.8" height="0.8" fill="#3a3cc0"/>
<rect x="301.1" y="223.5" width="0.8" height="0.8" fill="#3a3cc0"/>
<rect x="300.3" y="227.8" width="0.8" height="0.8" fill="#3a3cc0"/>
<rect x="300.1" y="225.9" width="0.8" height="0.8" fill="#3a3cc0"/>
<rect x="299.7" y="224.1" width="0.8" height="0.8" fill="#3a3cc0"/>
<rect x="300.8" y="225.9" width="0.8" height="0.8" fill="#3a3cc0"/>
<rect x="300.9" y="229.5" width="0.8" height="0.8" fill="#3a3cc0"/>
<rect x="299.6" y="225.4" width="0.8" height="0.8" fill="#3a3cc0"/>
<rect x="300.4" y="229.1" width="0.8" height="0.8" fill="#3a3cc0"/>
<rect x="299.0" y="227.7" width="0.8" height="0.8" fill="#3a3cc0"/>
<rect x="299.3" y="230.7" width="0.8" height="0.8" fill="#3a3cc0"/>
<rect x="300.7" y="224.6" width="0.8" height="0.8" fill="#3a3cc0"/>
<rect x="299.7" y="227.9" width="0.8" height="0.8" fill="#3a3cc0"/>
<rect x="299.8" y="227.9" width="0.8" height="0.8" fill="#3a3cc0"/>
<rect x="300.7" y="228.2" width="0.8" height="0.8" fill="#3a3cc0"/>
<rect x="299.9" y="230.6" width="0.8" height="0.8" fill="#3a3cc0"/>
<rect x="301.2" y="227.2" width="0.8" height="0.8" fill="#3a3cc0"/>
<rect x="300.2" y="226.5" width="0.8" height="0.8" fill="#3a3cc0"/>
<rect x="298.9" y="227.1" width="0.8" height="0.8" fill="#3a3cc0"/>
<rect x="300.3" y="227.0" width="0.8" height="0.8" fill="#3a3cc0"/>
<rect x="299.3" y="221.7" width="0.8" height="0.8" fill="#3a3cc0"/>
<rect x="298.5" y="229.5" width="0.8" height="0.8" fill="#3a3cc0"/>
<rect x="298.4" y="228.9" width="0.8" height="0.8" fill="#3a3cc0"/>
<rect x="301.0" y="227.6" width="0.8" height="0.8" fill="#3a3cc0"/>
<rect x="300.3" y="229.4" width="0.8" height="0.8" fill="#3a3cc0"/>
<rect x="300.2" y="227.7" width="0.8" height="0.8" fill="#3a3cc0"/>
<rect x="301.2" y="227.7" width="0.8" height="0.8" fill="#3a3cc0"/>
<rect x="302.3" y="225.6" width="0.8" height="0.8" fill="#3a3cc0"/>
<rect x="299.9" y="227.2" width="0.8" height="0.8" fill="#3a3cc0"/>
<rect x="300.5" y="226.9" width="0.8" height="0.8" fill="#30a050"/>
<rect x="301.7" y="228.7" width="0.8" height="0.8" fill="#30a050"/>
<rect x="299.1" y="227.8" width="0.8" height="0.8" fill="#30a050"/>
<rect x="300.9" y="229.4" width="0.8" height="0.8" fill="#30a050"/>
<rect x="300.7" y="226.7" width="0.8" height="0.8" fill="#30a050"/>
<rect x="301.0" y="226.0" width="0.8" height="0.8" fill="#30a050"/>
<rect x="300.5" y="226.1" width="0.8" height="0.8" fill="#30a050"/>
<rect x="301.3" y="228.8" width="0.8" height="0.8" fill="#30a050"/>
<rect x="301.9" y="227.4" width="0.8" height="0.8" fill="#30a050"/>
<rect x="300.3" y="227.1" width="0.8" height="0.8" fill="#30a050"/>
<rect x="301.2" y="226.3" width="0.8" height="0.8" fill="#30a050"/>
<rect x="300.9" y="227.3" width="0.8" height="0.8" fill="#30a050"/>
<rect x="300.9" y="228.1" width="0.8" height="0.8" fill="#30a050"/>
<rect x="299.8" y="227.2" width="0.8" height="0.8" fill="#30a050"/>
<rect x="299.2" y="226.5" width="0.8" height="0.8" fill="#30a050"/>
<rect x="300.0" y="229.2" width="0.8" height="0.8" fill="#30a050"/>
<rect x="300.1" y="228.1" width="0.8" height="0.8" fill="#30a050"/>
<rect x="300.2" y="226.0" width="0.8" height="0.8" fill="#30a050"/>
<rect x="300.8" y="230.5" width="0.8" height="0.8" fill="#30a050"/>
<rect x="300.8" y="229.5" width="0.8" height="0.8" fill="#30a050"/>
<rect x="300.8" y="229.1" width="0.8" height="0.8" fill="#30a050"/>
<rect x="301.8" y="225.5" width="0.8" height="0.8" fill="#30a050"/>
<rect x="299.9" y="225.7" width="0.8" height="0.8" fill="#30a050"/>
<rect x="300.4" y="227.3" width="0.8" height="0.8" fill="#30a050"/>
<rect x="299.9" y="228.4" width="0.8" height="0.8" fill="#30a050"/>
<rect x="301.7" y="229.7" width="0.8" height="0.8" fill="#30a050"/>
<rect x="301.6" y="228.0" width="0.8" height="0.8" fill="#30a050"/>
<rect x="300.7" y="229.8" width="0.8" height="0.8" fill="#30a050"/>
<rect x="301.1" y="229.2" width="0.8" height="0.8" fill="#30a050"/>
<rect x="300.2" y="227.2" width="0.8" height="0.8" fill="#30a050"/>
<rect x="300.1" y="228.4" width="0.8" height="0.8" fill="#e0c020"/>
<rect x="300.1" y="227.6" width="0.8" height="0.8" fill="#e0c020"/>
<rect x="300.5" y="227.4" width="0.8" height="0.8" fill="#e0c020"/>
<rect x="300.3" y="227.8" width="0.8" height="0.8" fill="#e0c020"/>
<rect x="300.1" y="227.6" width="0.8" height="0.8" fill="#e0c020"/>
<rect x="300.9" y="227.1" width="0.8" height="0.8" fill="#e0c020"/>
<rect x="279.0" y="231.0" width="0.8" height="0.8" fill="#a8aef4"/>
<rect x="282.9" y="222.5" width="0.8" height="0.8" fill="#a8aef4"/>
<rect x="282.3" y="230.1" width="0.8" height="0.8" fill="#a8aef4"/>
<rect x="280.8" y="230.0" width="0.8" height="0.8" fill="#a8aef4"/>
<rect x="271.3" y="229.8" width="0.8" height="0.8" fill="#a8aef4"/>
<rect x="273.2" y="224.2" width="0.8" height="0.8" fill="#a8aef4"/>
<rect x="268.7" y="224.3" width="0.8" height="0.8" fill="#a8aef4"/>
<rect x="271.2" y="219.7" width="0.8" height="0.8" fill="#a8aef4"/>
<rect x="274.1" y="220.5" width="0.8" height="0.8" fill="#a8aef4"/>
<rect x="275.9" y="231.7" width="0.8" height="0.8" fill="#a8aef4"/>
<rect x="279.4" y="232.5" width="0.8" height="0.8" fill="#a8aef4"/>
<rect x="281.4" y="235.5" width="0.8" height="0.8" fill="#a8aef4"/>
<rect x="271.7" y="222.7" width="0.8" height="0.8" fill="#a8aef4"/>
<rect x="271.2" y="222.2" width="0.8" height="0.8" fill="#a8aef4"/>
<rect x="280.2" y="216.8" width="0.8" height="0.8" fill="#a8aef4"/>
<rect x="272.3" y="229.8" width="0.8" height="0.8" fill="#a8aef4"/>
<rect x="275.8" y="229.5" width="0.8" height="0.8" fill="#a8aef4"/>
<rect x="265.9" y="224.3" width="0.8" height="0.8" fill="#a8aef4"/>
<rect x="271.3" y="228.0" width="0.8" height="0.8" fill="#a8aef4"/>
<rect x="275.7" y="232.0" width="0.8" height="0.8" fill="#a8aef4"/>
<rect x="295.2" y="217.3" width="0.8" height="0.8" fill="#b0b6f6"/>
<rect x="309.0" y="221.3" width="0.8" height="0.8" fill="#b0b6f6"/>
<rect x="301.1" y="219.6" width="0.8" height="0.8" fill="#b0b6f6"/>
<rect x="299.3" y="221.5" width="0.8" height="0.8" fill="#b0b6f6"/>
<rect x="298.0" y="219.4" width="0.8" height="0.8" fill="#b0b6f6"/>
<rect x="301.1" y="213.1" width="0.8" height="0.8" fill="#b0b6f6"/>
<rect x="300.9" y="215.9" width="0.8" height="0.8" fill="#b0b6f6"/>
<rect x="297.5" y="216.8" width="0.8" height="0.8" fill="#b0b6f6"/>
<rect x="296.7" y="220.6" width="0.8" height="0.8" fill="#b0b6f6"/>
<rect x="302.2" y="220.2" width="0.8" height="0.8" fill="#b0b6f6"/>
<rect x="302.9" y="217.3" width="0.8" height="0.8" fill="#b0b6f6"/>
<rect x="294.8" y="215.0" width="0.8" height="0.8" fill="#b0b6f6"/>
<rect x="300.3" y="214.2" width="0.8" height="0.8" fill="#b0b6f6"/>
<rect x="299.8" y="214.7" width="0.8" height="0.8" fill="#b0b6f6"/>
<rect x="298.3" y="212.7" width="0.8" height="0.8" fill="#b0b6f6"/>
<rect x="256.60" y="163.20" width="76.20" height="75.80" fill="none" stroke="#666" stroke-width="0.8"/>
<line x1="294.50" y1="163.20" x2="294.50" y2="239.00" stroke="#555" stroke-width="1.1"/>
<line x1="256.60" y1="207.80" x2="332.80" y2="207.80" stroke="#666" stroke-width="1.3"/>
<text font-size="7.07" transform="translate(258.60 169.60) scale(1 0.93)">Q1</text>
<text font-size="7.07" textLength="12.11" lengthAdjust="spacingAndGlyphs" transform="translate(258.60 177.00) scale(1 0.93)">0.11</text>
<text font-size="7.07" text-anchor="end" transform="translate(331.30 169.60) scale(1 0.93)">Q2</text>
<text font-size="7.07" text-anchor="end" textLength="12.11" lengthAdjust="spacingAndGlyphs" transform="translate(331.30 177.00) scale(1 0.93)">0.34</text>
<text font-size="7.07" transform="translate(258.60 228.80) scale(1 0.93)">Q4</text>
<text font-size="7.07" textLength="12.11" lengthAdjust="spacingAndGlyphs" transform="translate(258.60 236.30) scale(1 0.93)">6.24</text>
<text font-size="7.07" text-anchor="end" transform="translate(331.30 231.00) scale(1 0.93)">Q3</text>
<text font-size="7.07" text-anchor="end" textLength="12.11" lengthAdjust="spacingAndGlyphs" transform="translate(331.30 238.20) scale(1 0.93)">93.3</text>
<line x1="254.40" y1="171.00" x2="256.60" y2="171.00" stroke="#111" stroke-width="1.0"/>
<line x1="254.40" y1="188.30" x2="256.60" y2="188.30" stroke="#111" stroke-width="1.0"/>
<line x1="254.40" y1="207.60" x2="256.60" y2="207.60" stroke="#111" stroke-width="1.0"/>
<line x1="254.40" y1="227.50" x2="256.60" y2="227.50" stroke="#111" stroke-width="1.0"/>
<line x1="255.20" y1="173.47" x2="256.60" y2="173.47" stroke="#222" stroke-width="0.8"/>
<line x1="255.20" y1="175.94" x2="256.60" y2="175.94" stroke="#222" stroke-width="0.8"/>
<line x1="255.20" y1="178.41" x2="256.60" y2="178.41" stroke="#222" stroke-width="0.8"/>
<line x1="255.20" y1="180.89" x2="256.60" y2="180.89" stroke="#222" stroke-width="0.8"/>
<line x1="255.20" y1="183.36" x2="256.60" y2="183.36" stroke="#222" stroke-width="0.8"/>
<line x1="255.20" y1="185.83" x2="256.60" y2="185.83" stroke="#222" stroke-width="0.8"/>
<line x1="255.20" y1="190.71" x2="256.60" y2="190.71" stroke="#222" stroke-width="0.8"/>
<line x1="255.20" y1="193.12" x2="256.60" y2="193.12" stroke="#222" stroke-width="0.8"/>
<line x1="255.20" y1="195.54" x2="256.60" y2="195.54" stroke="#222" stroke-width="0.8"/>
<line x1="255.20" y1="197.95" x2="256.60" y2="197.95" stroke="#222" stroke-width="0.8"/>
<line x1="255.20" y1="200.36" x2="256.60" y2="200.36" stroke="#222" stroke-width="0.8"/>
<line x1="255.20" y1="202.78" x2="256.60" y2="202.78" stroke="#222" stroke-width="0.8"/>
<line x1="255.20" y1="205.19" x2="256.60" y2="205.19" stroke="#222" stroke-width="0.8"/>
<line x1="255.20" y1="210.20" x2="256.60" y2="210.20" stroke="#222" stroke-width="0.8"/>
<line x1="255.20" y1="212.80" x2="256.60" y2="212.80" stroke="#222" stroke-width="0.8"/>
<line x1="255.20" y1="215.40" x2="256.60" y2="215.40" stroke="#222" stroke-width="0.8"/>
<line x1="255.20" y1="218.00" x2="256.60" y2="218.00" stroke="#222" stroke-width="0.8"/>
<line x1="255.20" y1="220.40" x2="256.60" y2="220.40" stroke="#222" stroke-width="0.8"/>
<line x1="255.20" y1="222.60" x2="256.60" y2="222.60" stroke="#222" stroke-width="0.8"/>
<line x1="255.20" y1="224.00" x2="256.60" y2="224.00" stroke="#222" stroke-width="0.8"/>
<line x1="255.20" y1="225.20" x2="256.60" y2="225.20" stroke="#222" stroke-width="0.8"/>
<line x1="255.20" y1="226.40" x2="256.60" y2="226.40" stroke="#222" stroke-width="0.8"/>
<line x1="255.20" y1="228.60" x2="256.60" y2="228.60" stroke="#222" stroke-width="0.8"/>
<line x1="255.20" y1="229.80" x2="256.60" y2="229.80" stroke="#222" stroke-width="0.8"/>
<line x1="255.20" y1="231.00" x2="256.60" y2="231.00" stroke="#222" stroke-width="0.8"/>
<line x1="255.20" y1="232.40" x2="256.60" y2="232.40" stroke="#222" stroke-width="0.8"/>
<line x1="255.20" y1="234.60" x2="256.60" y2="234.60" stroke="#222" stroke-width="0.8"/>
<line x1="255.20" y1="237.00" x2="256.60" y2="237.00" stroke="#222" stroke-width="0.8"/>
<line x1="271.40" y1="239.00" x2="271.40" y2="241.40" stroke="#111" stroke-width="1.0"/>
<line x1="288.50" y1="239.00" x2="288.50" y2="241.40" stroke="#111" stroke-width="1.0"/>
<line x1="308.20" y1="239.00" x2="308.20" y2="241.40" stroke="#111" stroke-width="1.0"/>
<line x1="326.40" y1="239.00" x2="326.40" y2="241.40" stroke="#111" stroke-width="1.0"/>
<line x1="258.60" y1="239.00" x2="258.60" y2="240.80" stroke="#000" stroke-width="0.8"/>
<line x1="260.60" y1="239.00" x2="260.60" y2="240.80" stroke="#000" stroke-width="0.8"/>
<line x1="262.60" y1="239.00" x2="262.60" y2="240.80" stroke="#000" stroke-width="0.8"/>
<line x1="264.60" y1="239.00" x2="264.60" y2="240.80" stroke="#000" stroke-width="0.8"/>
<line x1="266.60" y1="239.00" x2="266.60" y2="240.80" stroke="#000" stroke-width="0.8"/>
<line x1="268.10" y1="239.00" x2="268.10" y2="240.80" stroke="#000" stroke-width="0.8"/>
<line x1="269.40" y1="239.00" x2="269.40" y2="240.80" stroke="#000" stroke-width="0.8"/>
<line x1="270.40" y1="239.00" x2="270.40" y2="240.80" stroke="#000" stroke-width="0.8"/>
<line x1="272.40" y1="239.00" x2="272.40" y2="240.80" stroke="#000" stroke-width="0.8"/>
<line x1="273.40" y1="239.00" x2="273.40" y2="240.80" stroke="#000" stroke-width="0.8"/>
<line x1="274.60" y1="239.00" x2="274.60" y2="240.80" stroke="#000" stroke-width="0.8"/>
<line x1="276.10" y1="239.00" x2="276.10" y2="240.80" stroke="#000" stroke-width="0.8"/>
<line x1="278.10" y1="239.00" x2="278.10" y2="240.80" stroke="#000" stroke-width="0.8"/>
<line x1="280.60" y1="239.00" x2="280.60" y2="240.80" stroke="#000" stroke-width="0.8"/>
<line x1="283.60" y1="239.00" x2="283.60" y2="240.80" stroke="#000" stroke-width="0.8"/>
<line x1="285.60" y1="239.00" x2="285.60" y2="240.80" stroke="#000" stroke-width="0.8"/>
<line x1="287.10" y1="239.00" x2="287.10" y2="240.80" stroke="#000" stroke-width="0.8"/>
<line x1="287.80" y1="239.00" x2="287.80" y2="240.80" stroke="#000" stroke-width="0.8"/>
<line x1="296.10" y1="239.00" x2="296.10" y2="240.80" stroke="#000" stroke-width="0.8"/>
<line x1="299.60" y1="239.00" x2="299.60" y2="240.80" stroke="#000" stroke-width="0.8"/>
<line x1="302.10" y1="239.00" x2="302.10" y2="240.80" stroke="#000" stroke-width="0.8"/>
<line x1="303.90" y1="239.00" x2="303.90" y2="240.80" stroke="#000" stroke-width="0.8"/>
<line x1="305.30" y1="239.00" x2="305.30" y2="240.80" stroke="#000" stroke-width="0.8"/>
<line x1="306.40" y1="239.00" x2="306.40" y2="240.80" stroke="#000" stroke-width="0.8"/>
<line x1="307.40" y1="239.00" x2="307.40" y2="240.80" stroke="#000" stroke-width="0.8"/>
<line x1="314.10" y1="239.00" x2="314.10" y2="240.80" stroke="#000" stroke-width="0.8"/>
<line x1="317.60" y1="239.00" x2="317.60" y2="240.80" stroke="#000" stroke-width="0.8"/>
<line x1="320.10" y1="239.00" x2="320.10" y2="240.80" stroke="#000" stroke-width="0.8"/>
<line x1="321.90" y1="239.00" x2="321.90" y2="240.80" stroke="#000" stroke-width="0.8"/>
<line x1="323.30" y1="239.00" x2="323.30" y2="240.80" stroke="#000" stroke-width="0.8"/>
<line x1="324.40" y1="239.00" x2="324.40" y2="240.80" stroke="#000" stroke-width="0.8"/>
<line x1="325.50" y1="239.00" x2="325.50" y2="240.80" stroke="#000" stroke-width="0.8"/>
<text font-size="7.0" text-anchor="end" transform="translate(247.40 172.90) scale(1 1.17)">10</text>
<text font-size="4.8" transform="translate(247.60 169.70) scale(1 1.17)">5</text>
<text font-size="7.0" text-anchor="end" transform="translate(247.40 190.00) scale(1 1.17)">10</text>
<text font-size="4.8" transform="translate(247.60 186.80) scale(1 1.17)">4</text>
<text font-size="7.0" text-anchor="end" transform="translate(247.40 208.50) scale(1 1.17)">10</text>
<text font-size="4.8" transform="translate(247.60 205.30) scale(1 1.17)">3</text>
<text font-size="7.0" text-anchor="end" transform="translate(247.10 230.20) scale(1 1.17)">0</text>
<text font-size="7.0" text-anchor="middle" transform="translate(271.40 251.20) scale(1 1.17)">0</text>
<text font-size="7.0" text-anchor="middle" transform="translate(287.90 251.20) scale(1 1.17)">10</text>
<text font-size="4.8" transform="translate(292.00 248.00) scale(1 1.17)">3</text>
<text font-size="7.0" text-anchor="middle" transform="translate(307.60 251.20) scale(1 1.17)">10</text>
<text font-size="4.8" transform="translate(311.70 248.00) scale(1 1.17)">4</text>
<text font-size="7.0" text-anchor="middle" transform="translate(325.80 251.20) scale(1 1.17)">10</text>
<text font-size="4.8" transform="translate(329.90 248.00) scale(1 1.17)">5</text>
<text font-size="11.6" font-weight="bold" fill="#000" transform="translate(355.00 136.70)">C</text>
<line x1="396.80" y1="146.80" x2="396.80" y2="266.60" stroke="#151515" stroke-width="1.6"/>
<line x1="396.00" y1="265.80" x2="512.80" y2="265.80" stroke="#151515" stroke-width="1.6"/>
<line x1="393.20" y1="265.80" x2="396.80" y2="265.80" stroke="#222" stroke-width="1.0"/>
<text font-size="7.6" text-anchor="end" transform="translate(389.90 268.30) scale(1 1.17)">0</text>
<line x1="393.20" y1="227.50" x2="396.80" y2="227.50" stroke="#222" stroke-width="1.0"/>
<text font-size="7.6" text-anchor="end" transform="translate(389.90 230.00) scale(1 1.17)">20</text>
<line x1="393.20" y1="189.20" x2="396.80" y2="189.20" stroke="#222" stroke-width="1.0"/>
<text font-size="7.6" text-anchor="end" transform="translate(389.90 191.70) scale(1 1.17)">40</text>
<line x1="393.20" y1="150.90" x2="396.80" y2="150.90" stroke="#222" stroke-width="1.0"/>
<text font-size="7.6" text-anchor="end" transform="translate(389.90 153.40) scale(1 1.17)">60</text>
<line x1="419.30" y1="265.80" x2="419.30" y2="268.60" stroke="#222" stroke-width="1.0"/>
<line x1="458.10" y1="265.80" x2="458.10" y2="268.60" stroke="#222" stroke-width="1.0"/>
<line x1="496.90" y1="265.80" x2="496.90" y2="268.60" stroke="#222" stroke-width="1.0"/>
<text font-size="7.8" text-anchor="middle" textLength="25.8" lengthAdjust="spacingAndGlyphs" transform="translate(419.40 277.80) scale(1 1.05)">Isotype</text>
<text font-size="7.8" text-anchor="middle" textLength="32.4" lengthAdjust="spacingAndGlyphs" transform="translate(458.10 277.80) scale(1 1.05)">Anti-CD4</text>
<text font-size="7.8" text-anchor="middle" textLength="33.0" lengthAdjust="spacingAndGlyphs" transform="translate(496.80 277.80) scale(1 1.05)">Anti-CD8</text>
<text font-size="9.0" text-anchor="middle" textLength="58" lengthAdjust="spacingAndGlyphs" transform="translate(364.00 206.00) rotate(-90) scale(1 1.17)">Leukemia burden</text>
<text font-size="9.0" text-anchor="middle" textLength="132" lengthAdjust="spacingAndGlyphs" transform="translate(375.20 206.00) rotate(-90) scale(1 1.17)">(GFP+% in peripheral blood leukocytes)</text>
<line x1="419.30" y1="149.60" x2="496.90" y2="149.60" stroke="#333" stroke-width="1.0"/>
<line x1="419.30" y1="159.80" x2="457.90" y2="159.80" stroke="#333" stroke-width="1.0"/>
<text font-size="7.3" text-anchor="middle" transform="translate(458.10 147.50) scale(1 1.05)">ns</text>
<text font-size="7.3" text-anchor="middle" transform="translate(438.60 157.60) scale(1 1.05)">ns</text>
<circle cx="408.8" cy="183.9" r="2.15" fill="#0f4f82"/>
<circle cx="415.8" cy="187.6" r="2.15" fill="#0f4f82"/>
<circle cx="422.7" cy="189.9" r="2.15" fill="#0f4f82"/>
<circle cx="429.8" cy="185.0" r="2.15" fill="#0f4f82"/>
<circle cx="422.7" cy="195.8" r="2.15" fill="#0f4f82"/>
<circle cx="415.8" cy="198.2" r="2.15" fill="#0f4f82"/>
<circle cx="415.8" cy="207.0" r="2.15" fill="#0f4f82"/>
<circle cx="422.7" cy="211.6" r="2.15" fill="#0f4f82"/>
<circle cx="412.2" cy="214.7" r="2.15" fill="#0f4f82"/>
<circle cx="419.3" cy="220.1" r="2.15" fill="#0f4f82"/>
<circle cx="426.2" cy="219.6" r="2.15" fill="#0f4f82"/>
<circle cx="419.3" cy="231.9" r="2.15" fill="#0f4f82"/>
<circle cx="419.3" cy="241.2" r="2.15" fill="#0f4f82"/>
<circle cx="415.8" cy="245.8" r="2.15" fill="#0f4f82"/>
<circle cx="422.7" cy="251.5" r="2.15" fill="#0f4f82"/>
<circle cx="419.3" cy="265.6" r="2.15" fill="#0f4f82"/>
<rect x="456.00" y="162.80" width="4.2" height="4.2" fill="#c8102e"/>
<rect x="456.00" y="184.40" width="4.2" height="4.2" fill="#c8102e"/>
<rect x="449.10" y="189.50" width="4.2" height="4.2" fill="#c8102e"/>
<rect x="452.40" y="188.70" width="4.2" height="4.2" fill="#c8102e"/>
<rect x="459.40" y="188.30" width="4.2" height="4.2" fill="#c8102e"/>
<rect x="462.90" y="191.70" width="4.2" height="4.2" fill="#c8102e"/>
<rect x="456.00" y="193.70" width="4.2" height="4.2" fill="#c8102e"/>
<rect x="462.90" y="199.80" width="4.2" height="4.2" fill="#c8102e"/>
<rect x="449.10" y="204.00" width="4.2" height="4.2" fill="#c8102e"/>
<rect x="456.00" y="206.30" width="4.2" height="4.2" fill="#c8102e"/>
<rect x="456.00" y="219.80" width="4.2" height="4.2" fill="#c8102e"/>
<rect x="452.40" y="223.70" width="4.2" height="4.2" fill="#c8102e"/>
<rect x="459.40" y="229.80" width="4.2" height="4.2" fill="#c8102e"/>
<rect x="456.00" y="238.00" width="4.2" height="4.2" fill="#c8102e"/>
<rect x="456.00" y="250.90" width="4.2" height="4.2" fill="#c8102e"/>
<rect x="456.00" y="261.40" width="4.2" height="4.2" fill="#c8102e"/>
<polygon points="494.50,177.20 499.30,177.20 496.90,173.00" fill="#2eab43"/>
<polygon points="484.10,183.30 488.90,183.30 486.50,179.10" fill="#2eab43"/>
<polygon points="491.00,183.80 495.80,183.80 493.40,179.60" fill="#2eab43"/>
<polygon points="504.80,183.80 509.60,183.80 507.20,179.60" fill="#2eab43"/>
<polygon points="497.90,186.70 502.70,186.70 500.30,182.50" fill="#2eab43"/>
<polygon points="487.60,192.90 492.40,192.90 490.00,188.70" fill="#2eab43"/>
<polygon points="501.40,196.10 506.20,196.10 503.80,191.90" fill="#2eab43"/>
<polygon points="494.50,199.00 499.30,199.00 496.90,194.80" fill="#2eab43"/>
<polygon points="501.40,212.10 506.20,212.10 503.80,207.90" fill="#2eab43"/>
<polygon points="487.60,214.90 492.40,214.90 490.00,210.70" fill="#2eab43"/>
<polygon points="494.50,218.80 499.30,218.80 496.90,214.60" fill="#2eab43"/>
<polygon points="494.50,228.40 499.30,228.40 496.90,224.20" fill="#2eab43"/>
<polygon points="501.40,230.80 506.20,230.80 503.80,226.60" fill="#2eab43"/>
<polygon points="487.60,234.40 492.40,234.40 490.00,230.20" fill="#2eab43"/>
<polygon points="494.50,236.00 499.30,236.00 496.90,231.80" fill="#2eab43"/>
<polygon points="494.50,249.00 499.30,249.00 496.90,244.80" fill="#2eab43"/>
<line x1="407.80" y1="215.50" x2="430.80" y2="215.50" stroke="#333" stroke-width="1.1"/>
<line x1="411.60" y1="208.80" x2="427.00" y2="208.80" stroke="#333" stroke-width="1.1"/>
<line x1="411.60" y1="222.10" x2="427.00" y2="222.10" stroke="#333" stroke-width="1.1"/>
<line x1="419.30" y1="208.80" x2="419.30" y2="222.10" stroke="#333" stroke-width="1.1"/>
<line x1="446.60" y1="210.40" x2="469.60" y2="210.40" stroke="#333" stroke-width="1.1"/>
<line x1="450.40" y1="203.80" x2="465.80" y2="203.80" stroke="#333" stroke-width="1.1"/>
<line x1="450.40" y1="216.80" x2="465.80" y2="216.80" stroke="#333" stroke-width="1.1"/>
<line x1="458.10" y1="203.80" x2="458.10" y2="216.80" stroke="#333" stroke-width="1.1"/>
<line x1="485.40" y1="205.70" x2="508.40" y2="205.70" stroke="#333" stroke-width="1.1"/>
<line x1="489.20" y1="200.30" x2="504.60" y2="200.30" stroke="#333" stroke-width="1.1"/>
<line x1="489.20" y1="211.00" x2="504.60" y2="211.00" stroke="#333" stroke-width="1.1"/>
<line x1="496.90" y1="200.30" x2="496.90" y2="211.00" stroke="#333" stroke-width="1.1"/>
<text font-size="11.6" font-weight="bold" fill="#000" transform="translate(6.20 298.80)">D</text>
<rect x="79.02" y="320.85" width="67.97" height="114.15" fill="#f0c4cd"/>
<polyline points="51.00,435.00 76.84,374.24 92.74,420.10 106.65,354.17" fill="none" stroke="#c8102e" stroke-width="1.35" stroke-linejoin="miter"/>
<polyline points="51.00,435.00 76.84,387.42 93.33,421.24 106.65,360.48" fill="none" stroke="#c8102e" stroke-width="1.35" stroke-linejoin="miter"/>
<polyline points="51.00,435.00 76.84,388.80 92.74,421.82 106.65,401.18" fill="none" stroke="#c8102e" stroke-width="1.35" stroke-linejoin="miter"/>
<polyline points="51.00,435.00 76.84,390.29 92.74,429.84 106.65,426.40 120.56,367.36 134.48,361.05 148.39,332.62" fill="none" stroke="#c8102e" stroke-width="1.35" stroke-linejoin="miter"/>
<polyline points="51.00,435.00 76.84,398.89 92.74,430.99 106.65,429.27 120.56,433.85 134.48,379.97 148.39,379.97" fill="none" stroke="#c8102e" stroke-width="1.35" stroke-linejoin="miter"/>
<polyline points="51.00,435.00 76.84,408.97 92.74,432.13 106.65,431.56 120.56,434.43 134.48,432.13 148.39,362.77" fill="none" stroke="#c8102e" stroke-width="1.35" stroke-linejoin="miter"/>
<polyline points="51.00,435.00 76.84,426.97 92.74,432.71 106.65,432.71 120.56,434.66" fill="none" stroke="#c8102e" stroke-width="1.35" stroke-linejoin="miter"/>
<polyline points="51.00,435.00 76.84,432.71 92.74,433.85 106.65,433.85 120.56,434.77" fill="none" stroke="#c8102e" stroke-width="1.35" stroke-linejoin="miter"/>
<polyline points="51.00,435.00 76.84,433.85 92.74,434.43 106.65,434.43 120.56,435.00" fill="none" stroke="#c8102e" stroke-width="1.35" stroke-linejoin="miter"/>
<line x1="51.00" y1="316.75" x2="51.00" y2="435.90" stroke="#151515" stroke-width="1.6"/>
<line x1="50.40" y1="435.30" x2="214.50" y2="435.30" stroke="#151515" stroke-width="1.6"/>
<line x1="47.80" y1="435.00" x2="51.00" y2="435.00" stroke="#1a1a1a" stroke-width="1.0"/>
<text font-size="7.7" text-anchor="end" textLength="4.23" lengthAdjust="spacingAndGlyphs" transform="translate(44.90 437.60) scale(1 1.17)">0</text>
<line x1="47.80" y1="412.07" x2="51.00" y2="412.07" stroke="#1a1a1a" stroke-width="1.0"/>
<text font-size="7.7" text-anchor="end" textLength="8.46" lengthAdjust="spacingAndGlyphs" transform="translate(44.90 414.67) scale(1 1.17)">20</text>
<line x1="47.80" y1="389.14" x2="51.00" y2="389.14" stroke="#1a1a1a" stroke-width="1.0"/>
<text font-size="7.7" text-anchor="end" textLength="8.46" lengthAdjust="spacingAndGlyphs" transform="translate(44.90 391.74) scale(1 1.17)">40</text>
<line x1="47.80" y1="366.21" x2="51.00" y2="366.21" stroke="#1a1a1a" stroke-width="1.0"/>
<text font-size="7.7" text-anchor="end" textLength="8.46" lengthAdjust="spacingAndGlyphs" transform="translate(44.90 368.81) scale(1 1.17)">60</text>
<line x1="47.80" y1="343.28" x2="51.00" y2="343.28" stroke="#1a1a1a" stroke-width="1.0"/>
<text font-size="7.7" text-anchor="end" textLength="8.46" lengthAdjust="spacingAndGlyphs" transform="translate(44.90 345.88) scale(1 1.17)">80</text>
<line x1="47.80" y1="320.35" x2="51.00" y2="320.35" stroke="#1a1a1a" stroke-width="1.0"/>
<text font-size="7.7" text-anchor="end" textLength="12.690000000000001" lengthAdjust="spacingAndGlyphs" transform="translate(44.90 322.95) scale(1 1.17)">100</text>
<line x1="51.00" y1="435.30" x2="51.00" y2="438.00" stroke="#1a1a1a" stroke-width="1.0"/>
<text font-size="8.0" text-anchor="middle" textLength="4.1" lengthAdjust="spacingAndGlyphs" transform="translate(51.00 447.50) scale(1 1.17)">0</text>
<line x1="90.75" y1="435.30" x2="90.75" y2="438.00" stroke="#1a1a1a" stroke-width="1.0"/>
<text font-size="8.0" text-anchor="middle" textLength="8.2" lengthAdjust="spacingAndGlyphs" transform="translate(90.75 447.50) scale(1 1.17)">20</text>
<line x1="130.50" y1="435.30" x2="130.50" y2="438.00" stroke="#1a1a1a" stroke-width="1.0"/>
<text font-size="8.0" text-anchor="middle" textLength="8.2" lengthAdjust="spacingAndGlyphs" transform="translate(130.50 447.50) scale(1 1.17)">40</text>
<line x1="170.25" y1="435.30" x2="170.25" y2="438.00" stroke="#1a1a1a" stroke-width="1.0"/>
<text font-size="8.0" text-anchor="middle" textLength="8.2" lengthAdjust="spacingAndGlyphs" transform="translate(170.25 447.50) scale(1 1.17)">60</text>
<line x1="210.00" y1="435.30" x2="210.00" y2="438.00" stroke="#1a1a1a" stroke-width="1.0"/>
<text font-size="8.0" text-anchor="middle" textLength="8.2" lengthAdjust="spacingAndGlyphs" transform="translate(210.00 447.50) scale(1 1.17)">80</text>
<text font-size="8.6" text-anchor="middle" textLength="15.3" lengthAdjust="spacingAndGlyphs" transform="translate(132.50 460.80) scale(1 1.17)">Days</text>
<text font-size="8.9" text-anchor="middle" textLength="79.8" lengthAdjust="spacingAndGlyphs" transform="translate(132.60 310.00)">Anti-CD4 antibody</text>
<text font-size="9.0" text-anchor="middle" textLength="58" lengthAdjust="spacingAndGlyphs" transform="translate(15.20 376.20) rotate(-90) scale(1 1.17)">Leukemia burden</text>
<text font-size="9.0" text-anchor="middle" textLength="133" lengthAdjust="spacingAndGlyphs" transform="translate(26.10 376.20) rotate(-90) scale(1 1.17)">(GFP+% in peripheral blood leukocytes)</text>
<text font-size="11.6" font-weight="bold" fill="#000" transform="translate(262.20 298.80)">E</text>
<rect x="331.02" y="320.50" width="68.87" height="114.50" fill="#cdebd3"/>
<polyline points="303.00,435.00 328.84,371.32 344.74,412.86 359.44,422.21 372.56,344.44" fill="none" stroke="#2eab43" stroke-width="1.35" stroke-linejoin="miter"/>
<polyline points="303.00,435.00 328.84,373.76 344.74,425.51 359.44,430.69 370.57,371.75" fill="none" stroke="#2eab43" stroke-width="1.35" stroke-linejoin="miter"/>
<polyline points="303.00,435.00 328.84,382.96 344.74,429.97 359.44,434.28 372.56,414.44" fill="none" stroke="#2eab43" stroke-width="1.35" stroke-linejoin="miter"/>
<polyline points="303.00,435.00 328.84,389.43 344.74,432.99 359.44,434.28 372.56,427.24 386.48,357.38 400.39,363.12" fill="none" stroke="#2eab43" stroke-width="1.35" stroke-linejoin="miter"/>
<polyline points="303.00,435.00 328.84,393.74 344.74,433.85 359.44,434.57 372.56,434.43 386.48,375.34" fill="none" stroke="#2eab43" stroke-width="1.35" stroke-linejoin="miter"/>
<polyline points="303.00,435.00 328.84,398.77 344.74,434.14 359.44,434.71 372.56,435.00 386.48,435.00 400.39,432.41 414.30,404.52" fill="none" stroke="#2eab43" stroke-width="1.35" stroke-linejoin="miter"/>
<polyline points="303.00,435.00 328.84,404.96 344.74,434.28 359.44,435.00" fill="none" stroke="#2eab43" stroke-width="1.35" stroke-linejoin="miter"/>
<polyline points="303.00,435.00 328.84,406.97 344.74,434.43 359.44,435.00" fill="none" stroke="#2eab43" stroke-width="1.35" stroke-linejoin="miter"/>
<polyline points="303.00,435.00 328.84,409.56 344.74,434.57 359.44,435.00" fill="none" stroke="#2eab43" stroke-width="1.35" stroke-linejoin="miter"/>
<line x1="303.00" y1="316.40" x2="303.00" y2="435.90" stroke="#151515" stroke-width="1.6"/>
<line x1="302.40" y1="435.30" x2="466.50" y2="435.30" stroke="#151515" stroke-width="1.6"/>
<line x1="299.80" y1="435.00" x2="303.00" y2="435.00" stroke="#1a1a1a" stroke-width="1.0"/>
<text font-size="7.7" text-anchor="end" textLength="4.23" lengthAdjust="spacingAndGlyphs" transform="translate(296.90 437.60) scale(1 1.17)">0</text>
<line x1="299.80" y1="406.25" x2="303.00" y2="406.25" stroke="#1a1a1a" stroke-width="1.0"/>
<text font-size="7.7" text-anchor="end" textLength="8.46" lengthAdjust="spacingAndGlyphs" transform="translate(296.90 408.85) scale(1 1.17)">20</text>
<line x1="299.80" y1="377.50" x2="303.00" y2="377.50" stroke="#1a1a1a" stroke-width="1.0"/>
<text font-size="7.7" text-anchor="end" textLength="8.46" lengthAdjust="spacingAndGlyphs" transform="translate(296.90 380.10) scale(1 1.17)">40</text>
<line x1="299.80" y1="348.75" x2="303.00" y2="348.75" stroke="#1a1a1a" stroke-width="1.0"/>
<text font-size="7.7" text-anchor="end" textLength="8.46" lengthAdjust="spacingAndGlyphs" transform="translate(296.90 351.35) scale(1 1.17)">60</text>
<line x1="299.80" y1="320.00" x2="303.00" y2="320.00" stroke="#1a1a1a" stroke-width="1.0"/>
<text font-size="7.7" text-anchor="end" textLength="8.46" lengthAdjust="spacingAndGlyphs" transform="translate(296.90 322.60) scale(1 1.17)">80</text>
<line x1="303.00" y1="435.30" x2="303.00" y2="438.00" stroke="#1a1a1a" stroke-width="1.0"/>
<text font-size="8.0" text-anchor="middle" textLength="4.1" lengthAdjust="spacingAndGlyphs" transform="translate(303.00 447.50) scale(1 1.17)">0</text>
<line x1="342.75" y1="435.30" x2="342.75" y2="438.00" stroke="#1a1a1a" stroke-width="1.0"/>
<text font-size="8.0" text-anchor="middle" textLength="8.2" lengthAdjust="spacingAndGlyphs" transform="translate(342.75 447.50) scale(1 1.17)">20</text>
<line x1="382.50" y1="435.30" x2="382.50" y2="438.00" stroke="#1a1a1a" stroke-width="1.0"/>
<text font-size="8.0" text-anchor="middle" textLength="8.2" lengthAdjust="spacingAndGlyphs" transform="translate(382.50 447.50) scale(1 1.17)">40</text>
<line x1="422.25" y1="435.30" x2="422.25" y2="438.00" stroke="#1a1a1a" stroke-width="1.0"/>
<text font-size="8.0" text-anchor="middle" textLength="8.2" lengthAdjust="spacingAndGlyphs" transform="translate(422.25 447.50) scale(1 1.17)">60</text>
<line x1="462.00" y1="435.30" x2="462.00" y2="438.00" stroke="#1a1a1a" stroke-width="1.0"/>
<text font-size="8.0" text-anchor="middle" textLength="8.2" lengthAdjust="spacingAndGlyphs" transform="translate(462.00 447.50) scale(1 1.17)">80</text>
<text font-size="8.6" text-anchor="middle" textLength="15.3" lengthAdjust="spacingAndGlyphs" transform="translate(384.50 460.80) scale(1 1.17)">Days</text>
<text font-size="8.9" text-anchor="middle" textLength="79.39999999999998" lengthAdjust="spacingAndGlyphs" transform="translate(384.70 310.00)">Anti-CD8 antibody</text>
<text font-size="9.0" text-anchor="middle" textLength="58" lengthAdjust="spacingAndGlyphs" transform="translate(270.60 376.20) rotate(-90) scale(1 1.17)">Leukemia burden</text>
<text font-size="9.0" text-anchor="middle" textLength="133" lengthAdjust="spacingAndGlyphs" transform="translate(281.90 376.20) rotate(-90) scale(1 1.17)">(GFP+% in peripheral blood leukocytes)</text>
<text font-size="11.6" font-weight="bold" fill="#000" transform="translate(6.20 481.80)">F</text>
<rect x="79.02" y="503.50" width="67.97" height="114.50" fill="#c6d5e3"/>
<polyline points="51.00,618.00 76.84,555.90 92.74,614.55 106.65,616.56 120.56,618.00 134.48,613.98" fill="none" stroke="#0f4f82" stroke-width="1.35" stroke-linejoin="miter"/>
<polyline points="51.00,618.00 76.84,557.34 92.74,615.99 106.65,617.28 120.56,618.00" fill="none" stroke="#0f4f82" stroke-width="1.35" stroke-linejoin="miter"/>
<polyline points="51.00,618.00 76.84,577.75 92.74,616.27 106.65,617.28 120.56,618.00 134.48,617.71 147.39,615.70 162.30,536.06" fill="none" stroke="#0f4f82" stroke-width="1.35" stroke-linejoin="miter"/>
<polyline points="51.00,618.00 76.84,583.50 92.74,616.56 106.65,617.57 120.56,618.00 134.48,618.00 148.39,618.00 162.30,618.00 176.21,532.47" fill="none" stroke="#0f4f82" stroke-width="1.35" stroke-linejoin="miter"/>
<polyline points="51.00,618.00 76.84,592.56 92.74,617.14 106.65,618.00" fill="none" stroke="#0f4f82" stroke-width="1.35" stroke-linejoin="miter"/>
<polyline points="51.00,618.00 76.84,599.74 92.74,617.28 106.65,618.00" fill="none" stroke="#0f4f82" stroke-width="1.35" stroke-linejoin="miter"/>
<polyline points="51.00,618.00 76.84,607.36 92.74,617.57 106.65,618.00" fill="none" stroke="#0f4f82" stroke-width="1.35" stroke-linejoin="miter"/>
<line x1="51.00" y1="499.40" x2="51.00" y2="618.90" stroke="#151515" stroke-width="1.6"/>
<line x1="50.40" y1="618.30" x2="214.50" y2="618.30" stroke="#151515" stroke-width="1.6"/>
<line x1="47.80" y1="618.00" x2="51.00" y2="618.00" stroke="#1a1a1a" stroke-width="1.0"/>
<text font-size="7.7" text-anchor="end" textLength="4.23" lengthAdjust="spacingAndGlyphs" transform="translate(44.90 620.60) scale(1 1.17)">0</text>
<line x1="47.80" y1="589.25" x2="51.00" y2="589.25" stroke="#1a1a1a" stroke-width="1.0"/>
<text font-size="7.7" text-anchor="end" textLength="8.46" lengthAdjust="spacingAndGlyphs" transform="translate(44.90 591.85) scale(1 1.17)">20</text>
<line x1="47.80" y1="560.50" x2="51.00" y2="560.50" stroke="#1a1a1a" stroke-width="1.0"/>
<text font-size="7.7" text-anchor="end" textLength="8.46" lengthAdjust="spacingAndGlyphs" transform="translate(44.90 563.10) scale(1 1.17)">40</text>
<line x1="47.80" y1="531.75" x2="51.00" y2="531.75" stroke="#1a1a1a" stroke-width="1.0"/>
<text font-size="7.7" text-anchor="end" textLength="8.46" lengthAdjust="spacingAndGlyphs" transform="translate(44.90 534.35) scale(1 1.17)">60</text>
<line x1="47.80" y1="503.00" x2="51.00" y2="503.00" stroke="#1a1a1a" stroke-width="1.0"/>
<text font-size="7.7" text-anchor="end" textLength="8.46" lengthAdjust="spacingAndGlyphs" transform="translate(44.90 505.60) scale(1 1.17)">80</text>
<line x1="51.00" y1="618.30" x2="51.00" y2="621.00" stroke="#1a1a1a" stroke-width="1.0"/>
<text font-size="8.0" text-anchor="middle" textLength="4.1" lengthAdjust="spacingAndGlyphs" transform="translate(51.00 630.70) scale(1 1.17)">0</text>
<line x1="90.75" y1="618.30" x2="90.75" y2="621.00" stroke="#1a1a1a" stroke-width="1.0"/>
<text font-size="8.0" text-anchor="middle" textLength="8.2" lengthAdjust="spacingAndGlyphs" transform="translate(90.75 630.70) scale(1 1.17)">20</text>
<line x1="130.50" y1="618.30" x2="130.50" y2="621.00" stroke="#1a1a1a" stroke-width="1.0"/>
<text font-size="8.0" text-anchor="middle" textLength="8.2" lengthAdjust="spacingAndGlyphs" transform="translate(130.50 630.70) scale(1 1.17)">40</text>
<line x1="170.25" y1="618.30" x2="170.25" y2="621.00" stroke="#1a1a1a" stroke-width="1.0"/>
<text font-size="8.0" text-anchor="middle" textLength="8.2" lengthAdjust="spacingAndGlyphs" transform="translate(170.25 630.70) scale(1 1.17)">60</text>
<line x1="210.00" y1="618.30" x2="210.00" y2="621.00" stroke="#1a1a1a" stroke-width="1.0"/>
<text font-size="8.0" text-anchor="middle" textLength="8.2" lengthAdjust="spacingAndGlyphs" transform="translate(210.00 630.70) scale(1 1.17)">80</text>
<text font-size="8.6" text-anchor="middle" textLength="15.3" lengthAdjust="spacingAndGlyphs" transform="translate(132.50 643.70) scale(1 1.17)">Days</text>
<text font-size="8.9" text-anchor="middle" textLength="63.39999999999999" lengthAdjust="spacingAndGlyphs" transform="translate(132.40 492.70)">Isotype control</text>
<text font-size="9.0" text-anchor="middle" textLength="58" lengthAdjust="spacingAndGlyphs" transform="translate(18.30 557.80) rotate(-90) scale(1 1.17)">Leukemia burden</text>
<text font-size="9.0" text-anchor="middle" textLength="133" lengthAdjust="spacingAndGlyphs" transform="translate(29.30 557.80) rotate(-90) scale(1 1.17)">(GFP+% in peripheral blood leukocytes)</text>
<text font-size="11.6" font-weight="bold" fill="#000" transform="translate(261.80 481.80)">G</text>
<text font-size="7.7" text-anchor="end" textLength="4.23" lengthAdjust="spacingAndGlyphs" transform="translate(297.30 620.90) scale(1 1.17)">0</text>
<text font-size="7.7" text-anchor="end" textLength="8.46" lengthAdjust="spacingAndGlyphs" transform="translate(297.30 572.70) scale(1 1.17)">50</text>
<text font-size="7.7" text-anchor="end" textLength="12.690000000000001" lengthAdjust="spacingAndGlyphs" transform="translate(297.30 524.50) scale(1 1.17)">100</text>
<text font-size="8.0" text-anchor="middle" textLength="4.1" lengthAdjust="spacingAndGlyphs" transform="translate(303.40 630.60) scale(1 1.17)">0</text>
<text font-size="8.0" text-anchor="middle" textLength="8.2" lengthAdjust="spacingAndGlyphs" transform="translate(335.00 630.60) scale(1 1.17)">20</text>
<text font-size="8.0" text-anchor="middle" textLength="8.2" lengthAdjust="spacingAndGlyphs" transform="translate(366.60 630.60) scale(1 1.17)">40</text>
<text font-size="8.0" text-anchor="middle" textLength="8.2" lengthAdjust="spacingAndGlyphs" transform="translate(398.20 630.60) scale(1 1.17)">60</text>
<text font-size="8.0" text-anchor="middle" textLength="8.2" lengthAdjust="spacingAndGlyphs" transform="translate(429.80 630.60) scale(1 1.17)">80</text>
<text font-size="8.0" text-anchor="middle" textLength="12.299999999999999" lengthAdjust="spacingAndGlyphs" transform="translate(461.40 630.60) scale(1 1.17)">100</text>
<text font-size="8.6" text-anchor="middle" textLength="15.3" lengthAdjust="spacingAndGlyphs" transform="translate(384.55 643.70) scale(1 1.17)">Days</text>
<text font-size="9.2" text-anchor="middle" textLength="63.3" lengthAdjust="spacingAndGlyphs" transform="translate(278.50 567.90) rotate(-90) scale(1 1.17)">Overall survival (%)</text>
<line x1="303.40" y1="518.80" x2="303.40" y2="621.00" stroke="#151515" stroke-width="1.6"/>
<line x1="302.80" y1="618.30" x2="466.50" y2="618.30" stroke="#151515" stroke-width="1.6"/>
<line x1="300.20" y1="618.30" x2="303.40" y2="618.30" stroke="#1a1a1a" stroke-width="1.0"/>
<line x1="300.20" y1="570.10" x2="303.40" y2="570.10" stroke="#1a1a1a" stroke-width="1.0"/>
<line x1="300.20" y1="521.90" x2="303.40" y2="521.90" stroke="#1a1a1a" stroke-width="1.0"/>
<line x1="303.40" y1="618.30" x2="303.40" y2="621.00" stroke="#1a1a1a" stroke-width="1.0"/>
<line x1="335.00" y1="618.30" x2="335.00" y2="621.00" stroke="#1a1a1a" stroke-width="1.0"/>
<line x1="366.60" y1="618.30" x2="366.60" y2="621.00" stroke="#1a1a1a" stroke-width="1.0"/>
<line x1="398.20" y1="618.30" x2="398.20" y2="621.00" stroke="#1a1a1a" stroke-width="1.0"/>
<line x1="429.80" y1="618.30" x2="429.80" y2="621.00" stroke="#1a1a1a" stroke-width="1.0"/>
<line x1="461.40" y1="618.30" x2="461.40" y2="621.00" stroke="#1a1a1a" stroke-width="1.0"/>
<polyline points="328.36,521.90 328.36,558.05 333.30,558.05 333.30,618.30" fill="none" stroke="#0f4f82" stroke-width="1.3" stroke-linejoin="miter" stroke-dasharray="2 2.4"/>
<polyline points="328.36,521.90 328.36,570.10 331.75,570.10 331.75,618.30" fill="none" stroke="#c8102e" stroke-width="1.3" stroke-linejoin="miter" stroke-dasharray="2 2.4"/>
<polyline points="328.36,521.90 328.36,570.10 331.70,570.10 331.70,618.30" fill="none" stroke="#2eab43" stroke-width="1.3" stroke-linejoin="miter" stroke-dasharray="2 2.4"/>
<polyline points="349.22,521.90 371.34,521.90 371.34,533.95 383.98,533.95 383.98,546.00 388.72,546.00 388.72,558.05 395.04,558.05 395.04,570.10 406.10,570.10 406.10,582.15 429.80,582.15" fill="none" stroke="#0f4f82" stroke-width="1.3" stroke-linejoin="miter"/>
<polyline points="339.74,521.90 349.22,521.90 349.22,533.95 350.80,533.95 350.80,546.00 353.96,546.00 353.96,558.05 357.12,558.05 357.12,570.10 380.82,570.10 380.82,594.20 382.40,594.20 382.40,606.25 429.80,606.25" fill="none" stroke="#c8102e" stroke-width="1.3" stroke-linejoin="miter"/>
<polyline points="303.40,521.90 339.74,521.90 339.74,533.95 357.12,533.95 357.12,546.00 358.70,546.00 358.70,558.05 360.28,558.05 360.28,570.10 363.44,570.10 363.44,582.15 369.76,582.15 369.76,594.20 380.82,594.20 380.82,606.25 391.88,606.25 391.88,618.30" fill="none" stroke="#2eab43" stroke-width="1.3" stroke-linejoin="miter"/>
<circle cx="371.34" cy="533.95" r="1.9" fill="#0f4f82"/>
<circle cx="383.98" cy="546.00" r="1.9" fill="#0f4f82"/>
<circle cx="388.72" cy="558.05" r="1.9" fill="#0f4f82"/>
<circle cx="395.04" cy="570.10" r="1.9" fill="#0f4f82"/>
<circle cx="406.10" cy="582.15" r="1.9" fill="#0f4f82"/>
<circle cx="429.80" cy="582.15" r="1.9" fill="#0f4f82"/>
<rect x="347.32" y="531.95" width="3.8" height="4.0" fill="#c8102e"/>
<rect x="348.90" y="544.00" width="3.8" height="4.0" fill="#c8102e"/>
<rect x="352.06" y="556.05" width="3.8" height="4.0" fill="#c8102e"/>
<rect x="355.22" y="568.10" width="3.8" height="4.0" fill="#c8102e"/>
<rect x="378.92" y="592.20" width="3.8" height="4.0" fill="#c8102e"/>
<rect x="380.50" y="604.25" width="3.8" height="4.0" fill="#c8102e"/>
<rect x="427.90" y="604.25" width="3.8" height="4.0" fill="#c8102e"/>
<polygon points="337.44,535.65 342.04,535.65 339.74,531.65" fill="#2eab43"/>
<polygon points="354.82,547.70 359.42,547.70 357.12,543.70" fill="#2eab43"/>
<polygon points="356.40,559.75 361.00,559.75 358.70,555.75" fill="#2eab43"/>
<polygon points="357.98,571.80 362.58,571.80 360.28,567.80" fill="#2eab43"/>
<polygon points="361.14,583.85 365.74,583.85 363.44,579.85" fill="#2eab43"/>
<polygon points="367.46,595.90 372.06,595.90 369.76,591.90" fill="#2eab43"/>
<polygon points="378.52,607.95 383.12,607.95 380.82,603.95" fill="#2eab43"/>
<polygon points="389.58,620.00 394.18,620.00 391.88,616.00" fill="#2eab43"/>
<circle cx="328.36" cy="558.05" r="1.9" fill="#0f4f82"/>
<rect x="326.46" y="568.10" width="3.8" height="4.0" fill="#c8102e"/>
<polygon points="326.26,572.10 330.86,572.10 328.56,568.10" fill="#2eab43"/>
<polygon points="329.40,607.95 334.00,607.95 331.70,603.95" fill="#2eab43"/>
<rect x="329.30" y="615.72" width="3.8" height="4.0" fill="#c8102e"/>
<circle cx="333.40" cy="618.30" r="1.9" fill="#0f4f82"/>
<polygon points="330.20,620.00 334.80,620.00 332.50,616.00" fill="#2eab43"/>
<polyline points="409.00,522.20 420.60,522.20" fill="none" stroke="#0f4f82" stroke-width="1.3" stroke-linejoin="miter"/>
<circle cx="414.80" cy="522.20" r="1.9" fill="#0f4f82"/>
<text font-size="7.2" textLength="58.0" lengthAdjust="spacingAndGlyphs" transform="translate(424.00 524.60) scale(1 1.17)">Dasatinib_isotype</text>
<polyline points="409.00,530.60 420.60,530.60" fill="none" stroke="#c8102e" stroke-width="1.3" stroke-linejoin="miter"/>
<rect x="412.90" y="528.60" width="3.8" height="4.0" fill="#c8102e"/>
<text font-size="7.2" textLength="64.1" lengthAdjust="spacingAndGlyphs" transform="translate(424.00 533.00) scale(1 1.17)">Dasatinib_anti-CD4</text>
<polyline points="409.00,539.10 420.60,539.10" fill="none" stroke="#2eab43" stroke-width="1.3" stroke-linejoin="miter"/>
<polygon points="412.50,540.80 417.10,540.80 414.80,536.80" fill="#2eab43"/>
<text font-size="7.2" textLength="63.7" lengthAdjust="spacingAndGlyphs" transform="translate(424.00 541.50) scale(1 1.17)">Dasatinib_anti-CD8</text>
<rect x="409.00" y="547.00" width="1.10" height="1.20" fill="#0f4f82"/>
<rect x="419.20" y="547.00" width="1.80" height="1.20" fill="#0f4f82"/>
<ellipse cx="414.80" cy="547.60" rx="2.9" ry="2.3" fill="#0f4f82"/>
<text font-size="7.2" textLength="51.1" lengthAdjust="spacingAndGlyphs" transform="translate(424.00 550.00) scale(1 1.17)">Vehicle_isotype</text>
<rect x="409.00" y="555.40" width="1.10" height="1.20" fill="#c8102e"/>
<rect x="419.20" y="555.40" width="1.80" height="1.20" fill="#c8102e"/>
<rect x="411.90" y="553.80" width="5.8" height="4.4" rx="1.4" fill="#c8102e"/>
<text font-size="7.2" textLength="57.2" lengthAdjust="spacingAndGlyphs" transform="translate(424.00 558.40) scale(1 1.17)">Vehicle_anti-CD4</text>
<rect x="409.00" y="564.00" width="1.10" height="1.20" fill="#2eab43"/>
<rect x="419.20" y="564.00" width="1.80" height="1.20" fill="#2eab43"/>
<polygon points="411.90,563.80 413.90,563.80 414.80,562.20 415.70,563.80 417.70,563.80 416.40,565.20 417.00,566.80 412.60,566.80 413.20,565.20" fill="#2eab43"/>
<text font-size="7.2" textLength="56.8" lengthAdjust="spacingAndGlyphs" transform="translate(424.00 567.00) scale(1 1.17)">Vehicle_anti-CD8</text>
<polyline points="491.20,522.50 494.00,522.50 494.00,530.00 491.20,530.00" fill="none" stroke="#444" stroke-width="0.9" stroke-linejoin="miter"/>
<polyline points="503.30,522.20 506.10,522.20 506.10,538.90 503.30,538.90" fill="none" stroke="#444" stroke-width="0.9" stroke-linejoin="miter"/>
<polyline points="491.20,547.40 494.00,547.40 494.00,556.10 491.20,556.10" fill="none" stroke="#444" stroke-width="0.9" stroke-linejoin="miter"/>
<polyline points="503.30,547.40 506.10,547.40 506.10,564.60 503.30,564.60" fill="none" stroke="#444" stroke-width="0.9" stroke-linejoin="miter"/>
<text font-size="6.6" textLength="30.4" lengthAdjust="spacingAndGlyphs" transform="translate(495.80 511.00) rotate(90) scale(1 1.17)">p = 0.0302</text>
<text font-size="6.6" textLength="30.9" lengthAdjust="spacingAndGlyphs" transform="translate(507.40 515.00) rotate(90) scale(1 1.17)">p = 0.0010</text>
<text font-size="6.6" transform="translate(495.80 548.90) rotate(90) scale(1 1.17)">ns</text>
<text font-size="6.6" transform="translate(507.40 552.90) rotate(90) scale(1 1.17)">ns</text>
<rect x="0.5" y="0.5" width="519" height="650" fill="none" stroke="#000" stroke-width="1"/>
</svg>
</body></html>
